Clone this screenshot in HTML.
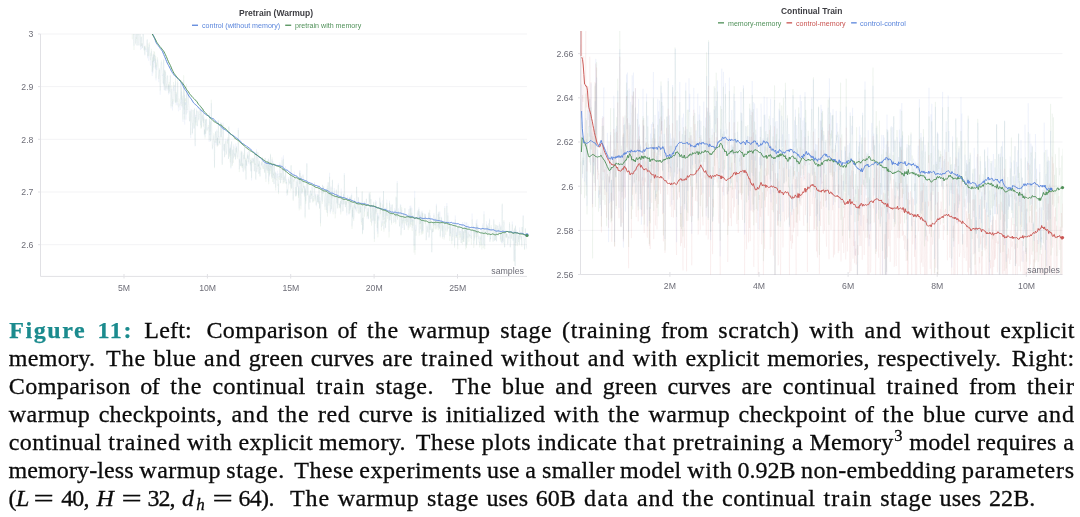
<!DOCTYPE html>
<html><head><meta charset="utf-8"><title>Figure 11</title>
<style>
html,body{margin:0;padding:0;background:#fff;}
body{width:1080px;height:517px;position:relative;overflow:hidden;font-family:"Liberation Sans",sans-serif;}
.tk{position:absolute;font-size:8.7px;line-height:11px;color:#6e6e78;white-space:nowrap;}
.yl{text-align:right;} .xl{text-align:center;} .sm{text-align:right;font-size:8.8px;}
.ttl{position:absolute;font-weight:bold;font-size:9.4px;line-height:12px;color:#3d3d42;white-space:nowrap;transform-origin:0 0;}
.lg{position:absolute;font-size:7.6px;line-height:10px;white-space:nowrap;transform-origin:0 0;}
.w{position:absolute;font-family:"Liberation Serif",serif;font-size:24px;line-height:28px;color:#0b0b0b;white-space:nowrap;}
.w{-webkit-text-stroke:0.3px #0b0b0b;}
.w.b{color:#1b8b8e;font-weight:bold;-webkit-text-stroke:0.25px #1b8b8e;}
.sp{font-size:16.5px;position:relative;top:-8.6px;letter-spacing:0;margin-left:0.5px;}
.cap{position:absolute;left:9.3px;width:1066px;font-family:"Liberation Serif",serif;font-size:24.2px;line-height:28px;color:#0a0a0a;white-space:nowrap;text-align:justify;text-align-last:justify;height:28px;}
.cap b{color:#1b8b8e;font-weight:bold;}
.cap i{font-style:italic;}
.cap sup{line-height:0;font-size:16.5px;vertical-align:baseline;position:relative;top:-9px;}
.cap sub{line-height:0;font-size:16.5px;vertical-align:baseline;position:relative;top:4px;}
</style></head><body>
<svg width="1080" height="300" viewBox="0 0 1080 300" style="position:absolute;left:0;top:0"><line x1="40.5" x2="527" y1="34.0" y2="34.0" stroke="#f3f3f5" stroke-width="1"/>
<line x1="38" x2="40.5" y1="34.0" y2="34.0" stroke="#e1e1e5" stroke-width="1"/>
<line x1="40.5" x2="527" y1="86.6" y2="86.6" stroke="#f3f3f5" stroke-width="1"/>
<line x1="38" x2="40.5" y1="86.6" y2="86.6" stroke="#e1e1e5" stroke-width="1"/>
<line x1="40.5" x2="527" y1="139.3" y2="139.3" stroke="#f3f3f5" stroke-width="1"/>
<line x1="38" x2="40.5" y1="139.3" y2="139.3" stroke="#e1e1e5" stroke-width="1"/>
<line x1="40.5" x2="527" y1="192.0" y2="192.0" stroke="#f3f3f5" stroke-width="1"/>
<line x1="38" x2="40.5" y1="192.0" y2="192.0" stroke="#e1e1e5" stroke-width="1"/>
<line x1="40.5" x2="527" y1="244.7" y2="244.7" stroke="#f3f3f5" stroke-width="1"/>
<line x1="38" x2="40.5" y1="244.7" y2="244.7" stroke="#e1e1e5" stroke-width="1"/>
<path d="M40.5,34 V276.4 H527" fill="none" stroke="#e1e1e5" stroke-width="1"/>
<line x1="124.0" x2="124.0" y1="274" y2="278.5" stroke="#e1e1e5" stroke-width="1"/>
<line x1="207.4" x2="207.4" y1="274" y2="278.5" stroke="#e1e1e5" stroke-width="1"/>
<line x1="290.7" x2="290.7" y1="274" y2="278.5" stroke="#e1e1e5" stroke-width="1"/>
<line x1="374.1" x2="374.1" y1="274" y2="278.5" stroke="#e1e1e5" stroke-width="1"/>
<line x1="457.5" x2="457.5" y1="274" y2="278.5" stroke="#e1e1e5" stroke-width="1"/>
<clipPath id="cl"><rect x="41" y="34" width="487" height="242"/></clipPath>
<g clip-path="url(#cl)" fill="none" stroke-linejoin="round">
<path d="M120.0,-30.2 L120.3,-14.7 L120.7,-23.2 L121.0,-1.7 L121.4,-20.5 L121.7,-32.5 L122.1,-20.9 L122.4,-9.1 L122.8,-8.5 L123.1,-12.3 L123.5,-21.3 L123.8,-11.4 L124.2,-23.4 L124.5,-14.2 L124.9,-23.7 L125.2,-1.7 L125.6,-4.3 L125.9,-10.3 L126.3,-4.7 L126.6,4.2 L127.0,8.6 L127.3,1.4 L127.7,4.5 L128.0,0.8 L128.4,5.9 L128.7,-10.0 L129.1,16.9 L129.4,-1.8 L129.8,0.3 L130.1,5.9 L130.5,12.5 L130.8,-5.9 L131.2,10.3 L131.5,8.3 L131.9,17.5 L132.2,32.8 L132.6,33.3 L132.9,27.0 L133.3,13.2 L133.6,34.2 L134.0,45.8 L134.3,19.3 L134.7,25.7 L135.0,26.0 L135.4,34.8 L135.7,43.4 L136.1,36.5 L136.4,34.1 L136.8,30.8 L137.1,45.5 L137.5,33.2 L137.8,31.3 L138.2,34.0 L138.5,27.4 L138.9,45.5 L139.2,41.0 L139.6,29.2 L139.9,33.5 L140.3,17.0 L140.6,50.0 L141.0,41.9 L141.3,37.0 L141.7,49.0 L142.0,43.8 L142.4,47.5 L142.7,46.1 L143.1,30.9 L143.4,38.7 L143.8,45.1 L144.1,50.3 L144.5,46.2 L144.8,55.4 L145.2,47.4 L145.5,50.1 L145.9,49.8 L146.2,49.1 L146.6,52.1 L146.9,41.2 L147.3,39.3 L147.6,58.3 L148.0,47.2 L148.3,47.5 L148.7,60.9 L149.0,50.3 L149.4,44.8 L149.7,51.3 L150.1,59.2 L150.4,65.6 L150.8,57.0 L151.1,55.9 L151.5,51.3 L151.8,61.5 L152.2,76.1 L152.5,60.8 L152.9,73.3 L153.2,55.2 L153.6,67.5 L153.9,54.2 L154.3,63.4 L154.6,55.1 L155.0,57.9 L155.3,69.4 L155.7,58.7 L156.0,80.4 L156.4,65.3 L156.7,69.9 L157.1,69.9 L157.4,59.7 L157.8,62.8 L158.1,65.6 L158.5,79.5 L158.8,82.2 L159.2,74.1 L159.5,69.8 L159.9,85.0 L160.2,94.8 L160.6,85.7 L160.9,65.6 L161.3,62.1 L161.6,62.4 L162.0,71.8 L162.3,75.8 L162.7,74.5 L163.0,81.6 L163.4,84.6 L163.7,59.1 L164.1,90.1 L164.4,69.6 L164.8,85.3 L165.1,90.8 L165.5,72.0 L165.8,79.0 L166.2,90.7 L166.5,85.8 L166.9,82.7 L167.2,75.7 L167.6,75.8 L167.9,90.7 L168.3,84.9 L168.6,94.5 L169.0,86.5 L169.3,85.2 L169.7,93.6 L170.0,86.4 L170.4,75.6 L170.7,94.2 L171.1,108.3 L171.4,99.1 L171.8,88.8 L172.1,94.9 L172.5,110.5 L172.8,101.2 L173.2,104.2 L173.5,86.9 L173.9,90.9 L174.2,84.8 L174.6,94.1 L174.9,99.9 L175.3,102.0 L175.6,81.5 L176.0,105.2 L176.3,93.9 L176.7,102.9 L177.0,105.0 L177.4,105.2 L177.7,82.6 L178.1,106.1 L178.4,111.2 L178.8,111.1 L179.1,103.7 L179.5,105.4 L179.8,107.5 L180.2,110.0 L180.5,107.5 L180.9,82.5 L181.2,103.7 L181.6,91.5 L181.9,107.5 L182.3,98.3 L182.6,117.6 L183.0,122.1 L183.3,115.1 L183.7,80.0 L184.0,113.9 L184.4,94.9 L184.7,124.6 L185.1,101.9 L185.4,105.1 L185.8,102.5 L186.1,119.7 L186.5,88.5 L186.8,113.3 L187.2,112.7 L187.5,111.9 L187.9,100.8 L188.2,94.7 L188.6,102.0 L188.9,105.2 L189.3,119.4 L189.6,121.6 L190.0,110.7 L190.3,114.9 L190.7,138.0 L191.0,108.8 L191.4,111.1 L191.7,121.2 L192.1,123.7 L192.4,134.3 L192.8,118.1 L193.1,109.9 L193.5,122.8 L193.8,129.0 L194.2,126.7 L194.5,108.5 L194.9,140.3 L195.2,146.3 L195.6,114.9 L195.9,122.5 L196.3,114.5 L196.6,108.6 L197.0,124.0 L197.3,126.5 L197.7,120.0 L198.0,111.4 L198.4,113.2 L198.7,119.4 L199.1,118.2 L199.4,116.2 L199.8,115.3 L200.1,105.5 L200.5,125.2 L200.8,123.7 L201.2,107.6 L201.5,127.1 L201.9,121.7 L202.2,115.7 L202.6,117.6 L202.9,119.7 L203.3,110.1 L203.6,123.0 L204.0,117.0 L204.3,135.0 L204.7,130.1 L205.0,136.7 L205.4,119.4 L205.7,133.7 L206.1,130.0 L206.4,119.1 L206.8,129.5 L207.1,128.7 L207.5,129.2 L207.8,128.7 L208.2,127.0 L208.5,129.0 L208.9,131.9 L209.2,141.9 L209.6,115.4 L209.9,135.0 L210.3,121.4 L210.6,141.4 L211.0,132.7 L211.3,103.1 L211.7,126.3 L212.0,138.1 L212.4,149.4 L212.7,145.3 L213.1,145.0 L213.4,139.6 L213.8,135.7 L214.1,135.7 L214.5,166.9 L214.8,141.6 L215.2,143.1 L215.5,131.3 L215.9,139.3 L216.2,145.4 L216.6,137.4 L216.9,129.4 L217.3,145.6 L217.6,137.7 L218.0,145.2 L218.3,120.6 L218.7,136.9 L219.0,136.0 L219.4,143.7 L219.7,140.3 L220.1,140.2 L220.4,130.6 L220.8,121.9 L221.1,136.9 L221.5,123.1 L221.8,123.5 L222.2,164.3 L222.5,140.1 L222.9,137.3 L223.2,122.7 L223.6,140.5 L223.9,151.4 L224.3,144.0 L224.6,156.7 L225.0,148.5 L225.3,140.9 L225.7,138.7 L226.0,151.2 L226.4,153.7 L226.7,150.3 L227.1,139.1 L227.4,141.2 L227.8,140.6 L228.1,139.4 L228.5,158.7 L228.8,126.1 L229.2,143.3 L229.5,153.5 L229.9,147.7 L230.2,155.5 L230.6,144.5 L230.9,168.6 L231.3,149.0 L231.6,141.1 L232.0,155.9 L232.3,164.5 L232.7,150.2 L233.0,148.9 L233.4,158.4 L233.7,144.3 L234.1,147.6 L234.4,153.9 L234.8,155.8 L235.1,152.6 L235.5,159.5 L235.8,143.3 L236.2,152.1 L236.5,146.0 L236.9,153.8 L237.2,156.8 L237.6,157.3 L237.9,147.5 L238.3,127.9 L238.6,151.0 L239.0,151.5 L239.3,169.3 L239.7,158.7 L240.0,164.9 L240.4,164.6 L240.7,166.0 L241.1,152.6 L241.4,165.8 L241.8,150.9 L242.1,152.7 L242.5,166.2 L242.8,163.6 L243.2,172.2 L243.5,158.2 L243.9,155.0 L244.2,159.1 L244.6,147.1 L244.9,168.5 L245.3,160.0 L245.6,161.4 L246.0,179.3 L246.3,160.4 L246.7,166.3 L247.0,155.9 L247.4,152.2 L247.7,159.0 L248.1,155.9 L248.4,163.7 L248.8,159.7 L249.1,150.5 L249.5,156.8 L249.8,162.6 L250.2,165.4 L250.5,162.2 L250.9,171.6 L251.2,159.3 L251.6,180.5 L251.9,161.2 L252.3,161.5 L252.6,158.5 L253.0,159.9 L253.3,161.6 L253.7,158.4 L254.0,166.2 L254.4,171.6 L254.7,153.7 L255.1,163.8 L255.4,164.9 L255.8,179.6 L256.1,160.1 L256.5,149.2 L256.8,172.4 L257.2,167.9 L257.5,168.2 L257.9,152.6 L258.2,166.1 L258.6,163.6 L258.9,174.0 L259.3,160.5 L259.6,168.1 L260.0,175.9 L260.3,169.2 L260.7,169.7 L261.0,165.8 L261.4,163.3 L261.7,165.5 L262.1,159.8 L262.4,156.9 L262.8,167.3 L263.1,165.9 L263.5,165.1 L263.8,164.7 L264.2,160.4 L264.5,171.7 L264.9,163.8 L265.2,157.9 L265.6,173.0 L265.9,178.8 L266.3,163.8 L266.6,167.4 L267.0,169.4 L267.3,162.2 L267.7,170.5 L268.0,171.0 L268.4,158.5 L268.7,181.6 L269.1,160.5 L269.4,176.4 L269.8,165.2 L270.1,167.3 L270.5,154.7 L270.8,168.7 L271.2,166.1 L271.5,176.6 L271.9,160.2 L272.2,159.3 L272.6,178.0 L272.9,160.8 L273.3,173.8 L273.6,174.9 L274.0,184.0 L274.3,163.0 L274.7,177.6 L275.0,178.6 L275.4,171.4 L275.7,187.6 L276.1,172.9 L276.4,175.5 L276.8,178.1 L277.1,172.3 L277.5,170.7 L277.8,183.9 L278.2,183.7 L278.5,192.2 L278.9,173.1 L279.2,175.9 L279.6,177.2 L279.9,162.2 L280.3,172.8 L280.6,183.0 L281.0,172.9 L281.3,174.6 L281.7,178.1 L282.0,157.5 L282.4,163.3 L282.7,176.2 L283.1,180.0 L283.4,155.3 L283.8,182.5 L284.1,180.3 L284.5,175.7 L284.8,175.6 L285.2,180.5 L285.5,166.1 L285.9,177.8 L286.2,183.2 L286.6,179.5 L286.9,195.9 L287.3,189.1 L287.6,191.7 L288.0,188.7 L288.3,184.2 L288.7,177.1 L289.0,184.6 L289.4,182.2 L289.7,180.6 L290.1,181.3 L290.4,171.8 L290.8,187.4 L291.1,165.7 L291.5,187.7 L291.8,188.0 L292.2,175.1 L292.5,181.0 L292.9,189.2 L293.2,199.7 L293.6,181.0 L293.9,178.4 L294.3,171.4 L294.6,179.6 L295.0,179.0 L295.3,196.6 L295.7,196.2 L296.0,186.9 L296.4,194.7 L296.7,179.2 L297.1,186.5 L297.4,184.8 L297.8,178.9 L298.1,178.0 L298.5,195.5 L298.8,185.8 L299.2,208.5 L299.5,170.4 L299.9,183.9 L300.2,170.5 L300.6,196.2 L300.9,205.8 L301.3,175.8 L301.6,185.9 L302.0,193.9 L302.3,188.7 L302.7,188.5 L303.0,174.3 L303.4,186.6 L303.7,185.8 L304.1,187.9 L304.4,194.6 L304.8,185.4 L305.1,216.9 L305.5,188.2 L305.8,200.9 L306.2,194.4 L306.5,180.6 L306.9,163.0 L307.2,194.8 L307.6,191.9 L307.9,180.6 L308.3,189.2 L308.6,203.9 L309.0,209.1 L309.3,193.7 L309.7,194.1 L310.0,202.8 L310.4,191.0 L310.7,190.8 L311.1,199.2 L311.4,193.2 L311.8,194.6 L312.1,185.9 L312.5,197.6 L312.8,201.6 L313.2,196.0 L313.5,197.0 L313.9,196.8 L314.2,187.8 L314.6,182.0 L314.9,199.4 L315.3,193.5 L315.6,194.7 L316.0,203.2 L316.3,206.4 L316.7,200.7 L317.0,194.5 L317.4,193.9 L317.7,202.9 L318.1,194.5 L318.4,202.3 L318.8,193.9 L319.1,185.0 L319.5,208.0 L319.8,196.9 L320.2,201.9 L320.5,223.3 L320.9,203.6 L321.2,199.4 L321.6,189.3 L321.9,189.6 L322.3,201.6 L322.6,184.7 L323.0,191.2 L323.3,190.1 L323.7,186.3 L324.0,194.0 L324.4,197.8 L324.7,200.0 L325.1,206.7 L325.4,193.3 L325.8,189.4 L326.1,196.5 L326.5,210.0 L326.8,202.1 L327.2,188.1 L327.5,213.0 L327.9,201.4 L328.2,182.3 L328.6,199.8 L328.9,203.6 L329.3,198.1 L329.6,172.8 L330.0,206.1 L330.3,213.7 L330.7,202.0 L331.0,186.3 L331.4,210.5 L331.7,191.6 L332.1,194.4 L332.4,180.3 L332.8,208.9 L333.1,212.1 L333.5,209.8 L333.8,200.1 L334.2,188.1 L334.5,190.4 L334.9,211.8 L335.2,213.9 L335.6,213.0 L335.9,209.1 L336.3,190.2 L336.6,194.0 L337.0,203.4 L337.3,195.1 L337.7,207.9 L338.0,185.7 L338.4,183.3 L338.7,202.5 L339.1,205.0 L339.4,205.1 L339.8,203.3 L340.1,206.7 L340.5,201.1 L340.8,212.2 L341.2,188.6 L341.5,202.0 L341.9,204.7 L342.2,197.4 L342.6,197.0 L342.9,211.3 L343.3,202.4 L343.6,193.6 L344.0,204.4 L344.3,173.0 L344.7,194.4 L345.0,199.9 L345.4,207.2 L345.7,202.1 L346.1,201.3 L346.4,201.9 L346.8,215.5 L347.1,198.1 L347.5,195.2 L347.8,197.2 L348.2,199.8 L348.5,201.4 L348.9,214.5 L349.2,214.4 L349.6,200.1 L349.9,210.6 L350.3,195.6 L350.6,209.4 L351.0,206.5 L351.3,203.9 L351.7,193.3 L352.0,226.2 L352.4,209.7 L352.7,216.9 L353.1,203.1 L353.4,219.4 L353.8,217.8 L354.1,217.7 L354.5,198.3 L354.8,208.6 L355.2,205.4 L355.5,209.4 L355.9,207.0 L356.2,212.3 L356.6,186.9 L356.9,195.9 L357.3,203.1 L357.6,208.0 L358.0,208.4 L358.3,197.2 L358.7,203.3 L359.0,213.4 L359.4,208.8 L359.7,208.6 L360.1,204.3 L360.4,212.1 L360.8,207.3 L361.1,220.1 L361.5,222.2 L361.8,219.6 L362.2,192.2 L362.5,233.4 L362.9,218.3 L363.2,230.2 L363.6,218.9 L363.9,211.1 L364.3,201.6 L364.6,211.6 L365.0,204.8 L365.3,208.4 L365.7,206.3 L366.0,203.5 L366.4,199.0 L366.7,206.3 L367.1,218.7 L367.4,214.4 L367.8,214.1 L368.1,207.9 L368.5,219.2 L368.8,210.0 L369.2,192.3 L369.5,201.8 L369.9,197.0 L370.2,194.6 L370.6,218.5 L370.9,199.1 L371.3,210.1 L371.6,223.2 L372.0,218.1 L372.3,212.1 L372.7,205.8 L373.0,221.3 L373.4,216.4 L373.7,201.4 L374.1,227.7 L374.4,238.9 L374.8,207.3 L375.1,220.9 L375.5,200.0 L375.8,212.5 L376.2,211.8 L376.5,201.2 L376.9,207.8 L377.2,231.6 L377.6,213.1 L377.9,233.8 L378.3,218.5 L378.6,215.3 L379.0,220.6 L379.3,207.3 L379.7,198.3 L380.0,196.8 L380.4,210.7 L380.7,201.4 L381.1,217.5 L381.4,227.1 L381.8,221.9 L382.1,221.2 L382.5,223.2 L382.8,200.4 L383.2,217.2 L383.5,191.0 L383.9,229.3 L384.2,218.2 L384.6,219.2 L384.9,209.6 L385.3,207.8 L385.6,227.7 L386.0,207.7 L386.3,215.8 L386.7,199.7 L387.0,201.2 L387.4,215.0 L387.7,216.0 L388.1,210.4 L388.4,212.6 L388.8,224.5 L389.1,231.7 L389.5,200.6 L389.8,220.8 L390.2,211.5 L390.5,211.8 L390.9,204.4 L391.2,217.1 L391.6,222.9 L391.9,206.0 L392.3,204.8 L392.6,211.8 L393.0,214.3 L393.3,214.6 L393.7,220.2 L394.0,222.0 L394.4,217.6 L394.7,208.1 L395.1,216.2 L395.4,209.6 L395.8,222.3 L396.1,197.5 L396.5,217.1 L396.8,216.9 L397.2,181.0 L397.5,218.7 L397.9,211.9 L398.2,215.6 L398.6,208.3 L398.9,215.5 L399.3,219.9 L399.6,226.5 L400.0,218.6 L400.3,204.1 L400.7,204.2 L401.0,234.7 L401.4,225.1 L401.7,209.7 L402.1,221.0 L402.4,228.0 L402.8,220.0 L403.1,221.0 L403.5,213.3 L403.8,223.4 L404.2,230.0 L404.5,228.4 L404.9,208.4 L405.2,221.2 L405.6,220.9 L405.9,217.6 L406.3,217.1 L406.6,226.1 L407.0,214.3 L407.3,218.6 L407.7,216.7 L408.0,227.6 L408.4,226.4 L408.7,209.2 L409.1,225.6 L409.4,222.7 L409.8,205.9 L410.1,207.3 L410.5,224.3 L410.8,205.5 L411.2,222.1 L411.5,218.2 L411.9,207.8 L412.2,228.0 L412.6,215.3 L412.9,221.6 L413.3,216.7 L413.6,215.3 L414.0,245.7 L414.3,219.4 L414.7,190.8 L415.0,249.9 L415.4,224.9 L415.7,226.4 L416.1,231.2 L416.4,227.3 L416.8,222.6 L417.1,212.5 L417.5,217.2 L417.8,210.7 L418.2,210.6 L418.5,215.4 L418.9,207.2 L419.2,232.9 L419.6,211.1 L419.9,220.2 L420.3,214.8 L420.6,223.6 L421.0,212.2 L421.3,232.7 L421.7,219.0 L422.0,210.6 L422.4,231.4 L422.7,212.8 L423.1,230.8 L423.4,220.0 L423.8,217.6 L424.1,220.3 L424.5,217.2 L424.8,213.3 L425.2,219.5 L425.5,214.0 L425.9,228.3 L426.2,239.9 L426.6,231.4 L426.9,224.5 L427.3,227.2 L427.6,230.4 L428.0,232.6 L428.3,215.8 L428.7,212.7 L429.0,238.0 L429.4,234.0 L429.7,212.8 L430.1,229.7 L430.4,215.4 L430.8,221.1 L431.1,225.5 L431.5,228.7 L431.8,252.3 L432.2,228.9 L432.5,232.3 L432.9,230.4 L433.2,218.7 L433.6,225.8 L433.9,213.3 L434.3,220.0 L434.6,219.5 L435.0,225.2 L435.3,217.8 L435.7,225.2 L436.0,219.5 L436.4,203.8 L436.7,227.2 L437.1,227.8 L437.4,220.8 L437.8,222.6 L438.1,213.5 L438.5,227.3 L438.8,212.1 L439.2,224.5 L439.5,228.1 L439.9,211.4 L440.2,236.2 L440.6,226.1 L440.9,223.6 L441.3,221.5 L441.6,216.8 L442.0,230.4 L442.3,220.5 L442.7,237.0 L443.0,224.6 L443.4,225.7 L443.7,235.0 L444.1,237.1 L444.4,237.3 L444.8,206.0 L445.1,225.9 L445.5,230.5 L445.8,228.8 L446.2,221.4 L446.5,214.7 L446.9,202.9 L447.2,230.6 L447.6,225.5 L447.9,212.7 L448.3,224.7 L448.6,223.8 L449.0,222.2 L449.3,220.4 L449.7,236.0 L450.0,222.6 L450.4,233.5 L450.7,224.1 L451.1,227.4 L451.4,234.6 L451.8,241.0 L452.1,229.7 L452.5,225.7 L452.8,236.8 L453.2,229.6 L453.5,230.3 L453.9,222.1 L454.2,223.5 L454.6,245.5 L454.9,234.9 L455.3,215.4 L455.6,227.3 L456.0,236.1 L456.3,232.5 L456.7,236.2 L457.0,228.6 L457.4,228.1 L457.7,245.5 L458.1,223.6 L458.4,226.0 L458.8,231.9 L459.1,234.8 L459.5,231.4 L459.8,224.7 L460.2,232.9 L460.5,230.7 L460.9,236.3 L461.2,243.0 L461.6,231.6 L461.9,224.2 L462.3,239.9 L462.6,222.0 L463.0,228.6 L463.3,241.6 L463.7,231.0 L464.0,238.5 L464.4,232.2 L464.7,221.9 L465.1,231.2 L465.4,226.5 L465.8,246.3 L466.1,222.5 L466.5,243.9 L466.8,222.2 L467.2,238.3 L467.5,238.1 L467.9,231.1 L468.2,224.3 L468.6,227.7 L468.9,237.6 L469.3,228.7 L469.6,230.3 L470.0,230.0 L470.3,236.0 L470.7,234.3 L471.0,230.7 L471.4,239.0 L471.7,233.6 L472.1,213.5 L472.4,223.2 L472.8,223.1 L473.1,230.8 L473.5,225.6 L473.8,244.0 L474.2,227.0 L474.5,238.3 L474.9,228.5 L475.2,227.3 L475.6,231.3 L475.9,233.6 L476.3,220.3 L476.6,244.3 L477.0,219.0 L477.3,233.4 L477.7,226.8 L478.0,225.2 L478.4,239.2 L478.7,237.2 L479.1,235.7 L479.4,238.4 L479.8,244.8 L480.1,236.4 L480.5,238.4 L480.8,239.4 L481.2,228.6 L481.5,235.6 L481.9,245.0 L482.2,224.9 L482.6,225.8 L482.9,223.3 L483.3,244.5 L483.6,232.8 L484.0,211.3 L484.3,228.0 L484.7,246.2 L485.0,233.4 L485.4,231.0 L485.7,233.7 L486.1,228.3 L486.4,221.3 L486.8,231.3 L487.1,233.2 L487.5,225.0 L487.8,235.1 L488.2,228.3 L488.5,223.1 L488.9,231.8 L489.2,229.6 L489.6,218.4 L489.9,241.5 L490.3,233.4 L490.6,239.5 L491.0,227.4 L491.3,227.0 L491.7,228.8 L492.0,231.2 L492.4,232.8 L492.7,240.0 L493.1,240.7 L493.4,241.4 L493.8,219.0 L494.1,230.7 L494.5,240.5 L494.8,230.9 L495.2,227.6 L495.5,240.0 L495.9,231.7 L496.2,225.4 L496.6,241.7 L496.9,230.8 L497.3,232.2 L497.6,225.4 L498.0,226.5 L498.3,235.3 L498.7,228.5 L499.0,231.9 L499.4,222.3 L499.7,222.9 L500.1,230.2 L500.4,239.4 L500.8,225.6 L501.1,233.4 L501.5,243.5 L501.8,234.2 L502.2,204.3 L502.5,242.9 L502.9,233.0 L503.2,242.1 L503.6,225.5 L503.9,221.6 L504.3,223.9 L504.6,247.4 L505.0,240.7 L505.3,235.4 L505.7,229.8 L506.0,237.0 L506.4,233.2 L506.7,236.7 L507.1,234.0 L507.4,235.1 L507.8,245.2 L508.1,239.4 L508.5,235.6 L508.8,239.2 L509.2,238.8 L509.5,223.8 L509.9,227.6 L510.2,247.4 L510.6,245.7 L510.9,232.8 L511.3,238.7 L511.6,233.3 L512.0,228.3 L512.3,221.4 L512.7,234.6 L513.0,241.1 L513.4,230.2 L513.7,242.9 L514.1,260.9 L514.4,228.9 L514.8,237.2 L515.1,266.1 L515.5,225.3 L515.8,242.9 L516.2,231.8 L516.5,229.6 L516.9,234.7 L517.2,243.0 L517.6,244.3 L517.9,235.5 L518.3,234.5 L518.6,239.6 L519.0,235.1 L519.3,244.2 L519.7,227.3 L520.0,236.2 L520.4,236.0 L520.7,238.0 L521.1,238.4 L521.4,236.3 L521.8,245.1 L522.1,227.2 L522.5,234.2 L522.8,227.6 L523.2,214.9 L523.5,236.9 L523.9,237.4 L524.2,242.9 L524.6,249.0 L524.9,240.3 L525.3,228.8 L525.6,232.3 L526.0,238.2 L526.3,244.8 L526.7,248.3" stroke="#5b86dc" stroke-opacity="0.047" stroke-width="1"/>
<path d="M120.0,-13.9 L120.3,1.7 L120.7,-6.9 L121.0,12.2 L121.4,-7.7 L121.7,-16.9 L122.1,-5.0 L122.4,6.7 L122.8,6.4 L123.1,-2.1 L123.5,-6.1 L123.8,0.9 L124.2,-7.6 L124.5,-2.2 L124.9,-11.0 L125.2,8.6 L125.6,7.2 L125.9,-0.4 L126.3,6.1 L126.6,15.0 L127.0,17.1 L127.3,10.0 L127.7,15.3 L128.0,9.6 L128.4,13.4 L128.7,-1.4 L129.1,25.2 L129.4,5.9 L129.8,5.5 L130.1,15.5 L130.5,19.9 L130.8,1.6 L131.2,16.8 L131.5,16.8 L131.9,24.7 L132.2,38.6 L132.6,39.3 L132.9,34.1 L133.3,17.8 L133.6,35.7 L134.0,50.1 L134.3,24.4 L134.7,29.6 L135.0,28.1 L135.4,36.4 L135.7,44.5 L136.1,37.4 L136.4,38.8 L136.8,33.8 L137.1,45.7 L137.5,36.7 L137.8,32.8 L138.2,34.2 L138.5,29.0 L138.9,45.3 L139.2,37.4 L139.6,28.4 L139.9,32.2 L140.3,12.8 L140.6,46.7 L141.0,40.1 L141.3,36.4 L141.7,46.0 L142.0,42.9 L142.4,48.0 L142.7,44.4 L143.1,29.6 L143.4,36.4 L143.8,45.9 L144.1,50.4 L144.5,46.3 L144.8,54.7 L145.2,45.6 L145.5,48.4 L145.9,48.2 L146.2,49.3 L146.6,47.8 L146.9,41.9 L147.3,39.6 L147.6,56.3 L148.0,43.5 L148.3,46.0 L148.7,56.2 L149.0,47.2 L149.4,42.4 L149.7,48.5 L150.1,56.5 L150.4,60.2 L150.8,53.2 L151.1,56.0 L151.5,48.7 L151.8,56.2 L152.2,71.9 L152.5,57.5 L152.9,70.6 L153.2,53.8 L153.6,61.8 L153.9,50.9 L154.3,60.9 L154.6,51.9 L155.0,56.4 L155.3,67.5 L155.7,55.8 L156.0,78.2 L156.4,62.5 L156.7,65.8 L157.1,66.5 L157.4,57.3 L157.8,60.1 L158.1,61.9 L158.5,78.5 L158.8,78.8 L159.2,75.9 L159.5,68.4 L159.9,85.4 L160.2,90.6 L160.6,85.6 L160.9,66.2 L161.3,60.3 L161.6,62.0 L162.0,70.6 L162.3,73.1 L162.7,74.4 L163.0,82.0 L163.4,83.4 L163.7,59.8 L164.1,86.1 L164.4,70.5 L164.8,84.5 L165.1,90.4 L165.5,70.5 L165.8,77.5 L166.2,88.8 L166.5,84.4 L166.9,83.2 L167.2,76.8 L167.6,75.4 L167.9,89.3 L168.3,84.0 L168.6,93.0 L169.0,83.4 L169.3,81.8 L169.7,91.7 L170.0,82.0 L170.4,75.1 L170.7,93.2 L171.1,106.4 L171.4,96.2 L171.8,85.1 L172.1,91.6 L172.5,106.5 L172.8,98.9 L173.2,101.4 L173.5,82.0 L173.9,86.3 L174.2,85.4 L174.6,92.1 L174.9,97.4 L175.3,102.8 L175.6,77.2 L176.0,102.8 L176.3,92.1 L176.7,101.3 L177.0,101.9 L177.4,101.3 L177.7,78.6 L178.1,102.1 L178.4,107.3 L178.8,105.7 L179.1,98.5 L179.5,99.7 L179.8,103.0 L180.2,105.4 L180.5,102.6 L180.9,79.7 L181.2,99.5 L181.6,87.6 L181.9,106.0 L182.3,95.6 L182.6,111.5 L183.0,119.4 L183.3,114.5 L183.7,75.2 L184.0,109.4 L184.4,90.3 L184.7,119.6 L185.1,98.5 L185.4,101.1 L185.8,97.9 L186.1,114.7 L186.5,84.1 L186.8,108.1 L187.2,110.0 L187.5,109.3 L187.9,96.4 L188.2,91.9 L188.6,98.6 L188.9,103.8 L189.3,115.7 L189.6,121.0 L190.0,111.5 L190.3,113.0 L190.7,135.0 L191.0,110.0 L191.4,109.9 L191.7,120.8 L192.1,123.3 L192.4,133.0 L192.8,119.0 L193.1,109.7 L193.5,123.2 L193.8,127.7 L194.2,127.9 L194.5,108.5 L194.9,138.7 L195.2,145.8 L195.6,117.0 L195.9,125.5 L196.3,114.5 L196.6,110.6 L197.0,124.4 L197.3,125.8 L197.7,122.2 L198.0,110.6 L198.4,116.5 L198.7,120.6 L199.1,120.1 L199.4,114.4 L199.8,114.9 L200.1,106.7 L200.5,125.4 L200.8,128.7 L201.2,107.8 L201.5,128.3 L201.9,121.7 L202.2,114.6 L202.6,118.7 L202.9,121.3 L203.3,109.1 L203.6,126.6 L204.0,118.5 L204.3,133.9 L204.7,129.0 L205.0,138.5 L205.4,119.2 L205.7,133.8 L206.1,129.7 L206.4,118.8 L206.8,128.1 L207.1,130.9 L207.5,129.5 L207.8,129.5 L208.2,126.1 L208.5,125.1 L208.9,130.8 L209.2,140.3 L209.6,112.8 L209.9,131.7 L210.3,121.4 L210.6,141.1 L211.0,133.2 L211.3,99.6 L211.7,126.6 L212.0,133.7 L212.4,148.4 L212.7,146.5 L213.1,141.7 L213.4,139.0 L213.8,133.3 L214.1,134.7 L214.5,168.1 L214.8,140.5 L215.2,141.6 L215.5,131.8 L215.9,140.8 L216.2,142.9 L216.6,138.3 L216.9,130.8 L217.3,146.9 L217.6,137.7 L218.0,145.5 L218.3,120.1 L218.7,136.9 L219.0,137.3 L219.4,143.1 L219.7,141.2 L220.1,144.9 L220.4,129.7 L220.8,123.4 L221.1,137.4 L221.5,124.3 L221.8,125.3 L222.2,165.0 L222.5,143.4 L222.9,136.9 L223.2,125.2 L223.6,140.3 L223.9,150.3 L224.3,143.9 L224.6,157.3 L225.0,150.1 L225.3,143.3 L225.7,141.2 L226.0,155.0 L226.4,153.4 L226.7,151.1 L227.1,140.4 L227.4,143.6 L227.8,137.4 L228.1,139.0 L228.5,158.8 L228.8,126.9 L229.2,147.0 L229.5,156.8 L229.9,149.2 L230.2,162.3 L230.6,147.6 L230.9,167.5 L231.3,149.5 L231.6,141.7 L232.0,158.3 L232.3,166.1 L232.7,150.3 L233.0,150.4 L233.4,162.9 L233.7,146.4 L234.1,148.7 L234.4,154.2 L234.8,157.0 L235.1,153.7 L235.5,159.2 L235.8,147.9 L236.2,153.5 L236.5,147.3 L236.9,156.1 L237.2,158.5 L237.6,158.6 L237.9,152.7 L238.3,130.0 L238.6,151.2 L239.0,154.4 L239.3,172.2 L239.7,159.7 L240.0,162.7 L240.4,162.8 L240.7,165.9 L241.1,150.6 L241.4,167.4 L241.8,151.9 L242.1,153.6 L242.5,168.1 L242.8,163.5 L243.2,171.5 L243.5,158.1 L243.9,153.4 L244.2,159.4 L244.6,147.5 L244.9,170.5 L245.3,160.8 L245.6,157.7 L246.0,179.7 L246.3,158.6 L246.7,165.5 L247.0,158.6 L247.4,154.5 L247.7,158.2 L248.1,154.5 L248.4,162.2 L248.8,158.0 L249.1,150.1 L249.5,155.1 L249.8,161.1 L250.2,163.7 L250.5,159.9 L250.9,170.8 L251.2,157.7 L251.6,177.9 L251.9,161.2 L252.3,163.2 L252.6,157.8 L253.0,160.9 L253.3,163.3 L253.7,157.8 L254.0,164.3 L254.4,171.0 L254.7,151.8 L255.1,164.9 L255.4,163.6 L255.8,179.3 L256.1,160.1 L256.5,151.6 L256.8,171.6 L257.2,167.9 L257.5,166.3 L257.9,151.8 L258.2,166.8 L258.6,164.3 L258.9,173.7 L259.3,161.2 L259.6,168.4 L260.0,176.8 L260.3,167.4 L260.7,169.5 L261.0,163.2 L261.4,162.1 L261.7,165.4 L262.1,161.5 L262.4,158.9 L262.8,168.7 L263.1,166.3 L263.5,169.1 L263.8,165.2 L264.2,163.9 L264.5,173.0 L264.9,166.1 L265.2,157.9 L265.6,171.7 L265.9,181.9 L266.3,164.6 L266.6,167.0 L267.0,170.5 L267.3,161.5 L267.7,172.9 L268.0,171.3 L268.4,159.2 L268.7,184.3 L269.1,163.4 L269.4,174.7 L269.8,168.5 L270.1,170.6 L270.5,153.8 L270.8,173.6 L271.2,165.6 L271.5,178.6 L271.9,160.7 L272.2,157.4 L272.6,182.0 L272.9,164.1 L273.3,175.6 L273.6,173.4 L274.0,184.3 L274.3,165.7 L274.7,179.4 L275.0,178.4 L275.4,172.5 L275.7,190.6 L276.1,178.4 L276.4,179.6 L276.8,180.4 L277.1,174.8 L277.5,173.9 L277.8,186.0 L278.2,183.8 L278.5,194.1 L278.9,176.0 L279.2,178.3 L279.6,179.9 L279.9,164.0 L280.3,171.5 L280.6,183.3 L281.0,173.2 L281.3,179.2 L281.7,180.1 L282.0,160.3 L282.4,165.6 L282.7,173.9 L283.1,183.9 L283.4,158.9 L283.8,182.2 L284.1,182.4 L284.5,177.7 L284.8,176.7 L285.2,183.4 L285.5,169.7 L285.9,179.0 L286.2,184.2 L286.6,182.1 L286.9,193.4 L287.3,190.2 L287.6,194.9 L288.0,189.6 L288.3,187.1 L288.7,179.0 L289.0,181.8 L289.4,183.0 L289.7,181.5 L290.1,184.1 L290.4,173.3 L290.8,190.6 L291.1,164.9 L291.5,188.7 L291.8,189.0 L292.2,176.1 L292.5,186.2 L292.9,190.2 L293.2,201.0 L293.6,179.5 L293.9,181.6 L294.3,174.4 L294.6,180.5 L295.0,181.6 L295.3,195.3 L295.7,196.2 L296.0,187.0 L296.4,196.2 L296.7,181.5 L297.1,186.6 L297.4,187.0 L297.8,179.3 L298.1,179.7 L298.5,197.8 L298.8,187.5 L299.2,210.4 L299.5,172.8 L299.9,183.8 L300.2,172.9 L300.6,195.0 L300.9,209.3 L301.3,176.7 L301.6,189.5 L302.0,192.7 L302.3,188.5 L302.7,191.8 L303.0,175.3 L303.4,188.1 L303.7,186.2 L304.1,187.5 L304.4,196.6 L304.8,186.1 L305.1,218.3 L305.5,189.7 L305.8,203.8 L306.2,194.8 L306.5,182.3 L306.9,163.6 L307.2,195.7 L307.6,194.2 L307.9,183.5 L308.3,193.3 L308.6,204.5 L309.0,210.0 L309.3,195.6 L309.7,198.6 L310.0,202.5 L310.4,190.3 L310.7,191.8 L311.1,198.7 L311.4,194.2 L311.8,195.7 L312.1,187.1 L312.5,198.7 L312.8,202.7 L313.2,197.6 L313.5,201.2 L313.9,197.7 L314.2,186.2 L314.6,183.5 L314.9,201.2 L315.3,198.4 L315.6,194.8 L316.0,204.9 L316.3,204.2 L316.7,200.8 L317.0,197.2 L317.4,195.9 L317.7,202.1 L318.1,194.6 L318.4,203.9 L318.8,195.3 L319.1,186.1 L319.5,208.9 L319.8,200.9 L320.2,204.7 L320.5,226.4 L320.9,206.1 L321.2,197.8 L321.6,191.0 L321.9,191.4 L322.3,204.0 L322.6,185.1 L323.0,193.9 L323.3,191.9 L323.7,186.5 L324.0,196.4 L324.4,201.2 L324.7,201.9 L325.1,209.9 L325.4,192.3 L325.8,193.0 L326.1,197.2 L326.5,212.5 L326.8,201.4 L327.2,185.7 L327.5,216.5 L327.9,205.2 L328.2,182.2 L328.6,200.3 L328.9,205.6 L329.3,200.1 L329.6,176.7 L330.0,208.8 L330.3,211.9 L330.7,204.8 L331.0,187.5 L331.4,209.0 L331.7,193.6 L332.1,198.4 L332.4,179.6 L332.8,212.3 L333.1,214.4 L333.5,210.4 L333.8,202.6 L334.2,190.6 L334.5,191.3 L334.9,212.3 L335.2,218.3 L335.6,214.3 L335.9,207.3 L336.3,189.3 L336.6,196.0 L337.0,203.6 L337.3,194.6 L337.7,208.7 L338.0,186.6 L338.4,185.1 L338.7,205.0 L339.1,204.3 L339.4,207.9 L339.8,205.0 L340.1,208.5 L340.5,200.9 L340.8,214.5 L341.2,192.3 L341.5,203.2 L341.9,203.8 L342.2,198.3 L342.6,197.7 L342.9,211.2 L343.3,203.9 L343.6,194.2 L344.0,204.3 L344.3,174.8 L344.7,192.7 L345.0,200.1 L345.4,207.0 L345.7,201.0 L346.1,204.8 L346.4,200.4 L346.8,212.8 L347.1,198.7 L347.5,197.3 L347.8,200.3 L348.2,203.2 L348.5,201.4 L348.9,213.9 L349.2,211.6 L349.6,197.0 L349.9,213.4 L350.3,197.3 L350.6,207.2 L351.0,207.1 L351.3,202.2 L351.7,195.0 L352.0,228.9 L352.4,207.4 L352.7,217.7 L353.1,205.4 L353.4,218.9 L353.8,220.9 L354.1,218.0 L354.5,200.7 L354.8,207.6 L355.2,202.9 L355.5,208.0 L355.9,209.3 L356.2,210.8 L356.6,186.8 L356.9,195.8 L357.3,204.4 L357.6,205.9 L358.0,212.7 L358.3,197.5 L358.7,201.6 L359.0,214.1 L359.4,210.3 L359.7,208.3 L360.1,203.2 L360.4,212.8 L360.8,206.1 L361.1,219.7 L361.5,224.8 L361.8,218.6 L362.2,190.9 L362.5,234.2 L362.9,217.5 L363.2,229.8 L363.6,219.7 L363.9,210.6 L364.3,201.3 L364.6,216.7 L365.0,207.3 L365.3,207.8 L365.7,208.7 L366.0,202.3 L366.4,198.6 L366.7,206.2 L367.1,216.8 L367.4,211.9 L367.8,216.0 L368.1,208.7 L368.5,218.5 L368.8,209.6 L369.2,193.5 L369.5,204.6 L369.9,198.5 L370.2,192.0 L370.6,221.9 L370.9,199.3 L371.3,213.5 L371.6,225.7 L372.0,218.0 L372.3,211.8 L372.7,207.4 L373.0,220.6 L373.4,217.6 L373.7,202.4 L374.1,230.9 L374.4,241.9 L374.8,208.3 L375.1,223.7 L375.5,202.4 L375.8,214.2 L376.2,213.4 L376.5,206.3 L376.9,210.3 L377.2,228.1 L377.6,215.7 L377.9,237.4 L378.3,218.9 L378.6,216.7 L379.0,218.4 L379.3,209.9 L379.7,198.2 L380.0,199.4 L380.4,214.1 L380.7,203.0 L381.1,219.9 L381.4,230.9 L381.8,225.4 L382.1,223.3 L382.5,225.8 L382.8,204.5 L383.2,220.1 L383.5,191.2 L383.9,231.7 L384.2,221.3 L384.6,223.7 L384.9,209.3 L385.3,214.7 L385.6,228.1 L386.0,210.2 L386.3,222.4 L386.7,202.9 L387.0,204.6 L387.4,216.1 L387.7,219.0 L388.1,213.4 L388.4,217.0 L388.8,225.1 L389.1,237.5 L389.5,202.9 L389.8,220.2 L390.2,214.0 L390.5,216.0 L390.9,207.2 L391.2,219.4 L391.6,224.8 L391.9,207.4 L392.3,204.3 L392.6,213.1 L393.0,214.3 L393.3,216.7 L393.7,223.0 L394.0,222.2 L394.4,221.3 L394.7,210.5 L395.1,215.8 L395.4,212.6 L395.8,224.2 L396.1,196.5 L396.5,215.5 L396.8,216.7 L397.2,183.0 L397.5,220.0 L397.9,212.4 L398.2,215.2 L398.6,211.1 L398.9,213.2 L399.3,218.7 L399.6,226.2 L400.0,220.9 L400.3,207.5 L400.7,205.1 L401.0,235.6 L401.4,225.7 L401.7,207.2 L402.1,223.0 L402.4,224.4 L402.8,217.9 L403.1,222.8 L403.5,213.2 L403.8,225.5 L404.2,229.3 L404.5,229.8 L404.9,208.0 L405.2,223.5 L405.6,221.4 L405.9,221.1 L406.3,218.6 L406.6,225.0 L407.0,216.0 L407.3,222.3 L407.7,219.1 L408.0,229.9 L408.4,230.0 L408.7,213.2 L409.1,228.3 L409.4,226.9 L409.8,208.8 L410.1,208.7 L410.5,226.7 L410.8,207.7 L411.2,225.1 L411.5,223.5 L411.9,212.6 L412.2,231.0 L412.6,219.9 L412.9,225.7 L413.3,219.9 L413.6,220.3 L414.0,252.5 L414.3,223.6 L414.7,197.7 L415.0,254.7 L415.4,229.7 L415.7,229.9 L416.1,235.8 L416.4,230.3 L416.8,223.9 L417.1,217.4 L417.5,219.8 L417.8,210.7 L418.2,213.1 L418.5,216.9 L418.9,209.0 L419.2,235.7 L419.6,214.8 L419.9,224.1 L420.3,215.9 L420.6,229.2 L421.0,217.5 L421.3,234.8 L421.7,222.4 L422.0,211.6 L422.4,234.2 L422.7,213.1 L423.1,233.6 L423.4,222.0 L423.8,219.8 L424.1,220.2 L424.5,216.4 L424.8,214.1 L425.2,224.2 L425.5,215.8 L425.9,229.2 L426.2,240.3 L426.6,233.2 L426.9,226.4 L427.3,227.9 L427.6,232.1 L428.0,231.3 L428.3,218.6 L428.7,212.5 L429.0,236.9 L429.4,233.6 L429.7,209.8 L430.1,230.2 L430.4,218.5 L430.8,222.6 L431.1,226.4 L431.5,232.5 L431.8,252.2 L432.2,228.3 L432.5,231.5 L432.9,232.1 L433.2,221.7 L433.6,231.8 L433.9,215.1 L434.3,224.9 L434.6,224.3 L435.0,228.5 L435.3,220.0 L435.7,229.5 L436.0,223.4 L436.4,205.6 L436.7,228.8 L437.1,229.3 L437.4,225.2 L437.8,225.7 L438.1,214.4 L438.5,230.3 L438.8,211.6 L439.2,229.1 L439.5,228.2 L439.9,217.0 L440.2,237.5 L440.6,229.3 L440.9,223.5 L441.3,224.0 L441.6,217.7 L442.0,231.3 L442.3,222.7 L442.7,238.7 L443.0,226.7 L443.4,225.5 L443.7,234.0 L444.1,239.6 L444.4,237.4 L444.8,208.0 L445.1,226.4 L445.5,233.5 L445.8,234.9 L446.2,227.5 L446.5,218.4 L446.9,205.9 L447.2,231.8 L447.6,226.8 L447.9,215.5 L448.3,229.0 L448.6,226.7 L449.0,227.7 L449.3,224.0 L449.7,241.0 L450.0,226.7 L450.4,236.3 L450.7,225.7 L451.1,230.6 L451.4,238.9 L451.8,244.0 L452.1,233.5 L452.5,227.7 L452.8,240.6 L453.2,235.3 L453.5,234.1 L453.9,223.7 L454.2,226.0 L454.6,247.7 L454.9,235.9 L455.3,219.4 L455.6,230.3 L456.0,238.0 L456.3,235.3 L456.7,237.5 L457.0,229.9 L457.4,227.7 L457.7,249.3 L458.1,227.2 L458.4,229.5 L458.8,233.8 L459.1,239.8 L459.5,236.2 L459.8,230.8 L460.2,237.8 L460.5,233.0 L460.9,239.6 L461.2,243.0 L461.6,235.6 L461.9,228.1 L462.3,244.7 L462.6,227.8 L463.0,231.7 L463.3,241.9 L463.7,231.4 L464.0,242.1 L464.4,236.6 L464.7,227.1 L465.1,232.9 L465.4,230.1 L465.8,249.5 L466.1,225.9 L466.5,248.0 L466.8,227.3 L467.2,244.8 L467.5,240.5 L467.9,233.8 L468.2,232.5 L468.6,233.2 L468.9,241.8 L469.3,234.1 L469.6,235.7 L470.0,234.9 L470.3,237.7 L470.7,237.9 L471.0,236.2 L471.4,244.8 L471.7,237.9 L472.1,219.4 L472.4,226.6 L472.8,226.4 L473.1,230.7 L473.5,231.6 L473.8,248.0 L474.2,231.1 L474.5,240.5 L474.9,230.8 L475.2,233.1 L475.6,230.9 L475.9,237.5 L476.3,223.1 L476.6,245.2 L477.0,224.8 L477.3,236.8 L477.7,235.1 L478.0,227.1 L478.4,241.1 L478.7,241.8 L479.1,242.7 L479.4,242.2 L479.8,247.5 L480.1,237.7 L480.5,240.4 L480.8,245.7 L481.2,234.4 L481.5,242.2 L481.9,249.8 L482.2,228.3 L482.6,227.1 L482.9,226.1 L483.3,248.3 L483.6,237.9 L484.0,214.3 L484.3,230.0 L484.7,249.4 L485.0,234.8 L485.4,234.4 L485.7,234.8 L486.1,231.1 L486.4,224.2 L486.8,234.2 L487.1,232.0 L487.5,226.2 L487.8,237.0 L488.2,227.2 L488.5,227.1 L488.9,230.8 L489.2,230.3 L489.6,219.8 L489.9,241.9 L490.3,237.9 L490.6,239.1 L491.0,226.9 L491.3,225.1 L491.7,230.4 L492.0,229.2 L492.4,233.9 L492.7,241.9 L493.1,241.7 L493.4,241.3 L493.8,220.2 L494.1,233.3 L494.5,240.7 L494.8,236.2 L495.2,224.2 L495.5,240.2 L495.9,232.8 L496.2,224.9 L496.6,241.0 L496.9,232.2 L497.3,229.2 L497.6,226.6 L498.0,225.8 L498.3,236.2 L498.7,230.1 L499.0,231.3 L499.4,224.3 L499.7,224.5 L500.1,231.2 L500.4,241.5 L500.8,226.7 L501.1,233.6 L501.5,242.1 L501.8,234.8 L502.2,203.5 L502.5,240.8 L502.9,233.7 L503.2,243.9 L503.6,225.3 L503.9,220.1 L504.3,224.2 L504.6,247.2 L505.0,240.3 L505.3,234.4 L505.7,231.1 L506.0,237.8 L506.4,233.5 L506.7,238.2 L507.1,233.9 L507.4,236.2 L507.8,243.9 L508.1,239.7 L508.5,237.3 L508.8,236.9 L509.2,237.8 L509.5,222.0 L509.9,229.4 L510.2,247.2 L510.6,245.8 L510.9,232.5 L511.3,238.6 L511.6,234.0 L512.0,230.0 L512.3,224.3 L512.7,237.4 L513.0,240.3 L513.4,230.9 L513.7,242.7 L514.1,261.8 L514.4,227.8 L514.8,233.5 L515.1,266.2 L515.5,226.2 L515.8,245.9 L516.2,234.1 L516.5,233.9 L516.9,236.6 L517.2,246.1 L517.6,246.0 L517.9,233.0 L518.3,238.9 L518.6,241.9 L519.0,236.2 L519.3,245.4 L519.7,230.1 L520.0,237.0 L520.4,233.7 L520.7,239.8 L521.1,239.3 L521.4,236.1 L521.8,246.7 L522.1,226.9 L522.5,233.2 L522.8,228.4 L523.2,216.0 L523.5,238.4 L523.9,238.8 L524.2,241.9 L524.6,250.0 L524.9,240.4 L525.3,228.1 L525.6,232.1 L526.0,236.5 L526.3,245.1 L526.7,249.4" stroke="#4f9058" stroke-opacity="0.047" stroke-width="1"/>
<path d="M152.6,34.0 L153.3,35.4 L154.0,37.0 L154.7,38.8 L155.4,40.6 L156.1,42.5 L156.8,43.8 L157.5,44.7 L158.2,45.5 L158.9,46.5 L159.6,47.4 L160.3,48.5 L161.0,49.3 L161.7,50.3 L162.4,51.2 L163.1,53.0 L163.8,54.6 L164.5,56.4 L165.2,57.9 L165.9,59.7 L166.6,61.4 L167.3,63.2 L168.0,64.5 L168.7,65.7 L169.4,67.0 L170.1,68.4 L170.8,69.9 L171.5,71.3 L172.2,72.3 L172.9,73.3 L173.6,74.3 L174.3,75.4 L175.0,76.1 L175.7,76.5 L176.4,77.3 L177.1,78.0 L177.8,78.6 L178.5,79.3 L179.2,79.9 L179.9,80.9 L180.6,81.5 L181.3,82.7 L182.0,83.9 L182.7,85.3 L183.4,86.6 L184.1,88.1 L184.8,89.3 L185.5,90.3 L186.2,91.1 L186.9,92.2 L187.6,93.6 L188.3,94.9 L189.0,96.1 L189.7,97.1 L190.4,97.9 L191.1,98.9 L191.8,99.9 L192.5,101.1 L193.2,102.2 L193.9,103.2 L194.6,103.8 L195.3,104.5 L196.0,105.0 L196.7,105.6 L197.4,106.3 L198.1,107.2 L198.8,108.2 L199.5,108.7 L200.2,109.4 L200.9,110.0 L201.6,110.8 L202.3,111.1 L203.0,111.7 L203.7,112.5 L204.4,113.5 L205.1,114.0 L205.8,114.4 L206.5,115.0 L207.2,115.1 L207.9,115.5 L208.6,115.8 L209.3,116.7 L210.0,117.3 L210.7,117.8 L211.4,118.1 L212.1,118.3 L212.8,118.6 L213.5,118.9 L214.2,119.5 L214.9,120.3 L215.6,121.3 L216.3,122.0 L217.0,122.6 L217.7,123.0 L218.4,124.0 L219.1,124.7 L219.8,125.6 L220.5,125.9 L221.2,126.6 L221.9,127.1 L222.6,128.0 L223.3,128.9 L224.0,129.3 L224.7,129.5 L225.4,129.9 L226.1,130.5 L226.8,130.9 L227.5,131.5 L228.2,132.2 L228.9,133.0 L229.6,133.2 L230.3,133.8 L231.0,134.2 L231.7,134.9 L232.4,135.1 L233.1,135.5 L233.8,135.8 L234.5,136.4 L235.2,137.1 L235.9,137.6 L236.6,138.1 L237.3,138.6 L238.0,139.1 L238.7,139.9 L239.4,140.4 L240.1,140.9 L240.8,141.5 L241.5,142.5 L242.2,143.4 L242.9,143.8 L243.6,144.1 L244.3,144.6 L245.0,145.2 L245.7,145.6 L246.4,145.9 L247.1,146.6 L247.8,147.2 L248.5,147.5 L249.2,147.8 L249.9,148.6 L250.6,149.3 L251.3,150.1 L252.0,150.7 L252.7,151.5 L253.4,152.1 L254.1,152.7 L254.8,153.1 L255.5,153.7 L256.2,154.1 L256.9,155.0 L257.6,155.7 L258.3,156.3 L259.0,156.7 L259.7,157.3 L260.4,158.1 L261.1,158.6 L261.8,159.1 L262.5,159.5 L263.2,160.7 L263.9,161.6 L264.6,162.3 L265.3,162.6 L266.0,163.1 L266.7,163.3 L267.4,163.3 L268.1,163.3 L268.8,163.6 L269.5,163.9 L270.2,163.8 L270.9,164.2 L271.6,164.5 L272.3,164.9 L273.0,164.9 L273.7,164.5 L274.4,164.7 L275.1,164.7 L275.8,165.2 L276.5,165.4 L277.2,165.6 L277.9,165.4 L278.6,165.6 L279.3,165.7 L280.0,166.0 L280.7,166.1 L281.4,166.3 L282.1,166.5 L282.8,167.2 L283.5,167.8 L284.2,168.9 L284.9,169.5 L285.6,170.0 L286.3,170.0 L287.0,170.1 L287.7,170.5 L288.4,171.2 L289.1,171.8 L289.8,172.2 L290.5,172.9 L291.2,173.2 L291.9,174.0 L292.6,174.3 L293.3,174.8 L294.0,175.1 L294.7,175.4 L295.4,175.7 L296.1,175.8 L296.8,176.2 L297.5,176.9 L298.2,177.8 L298.9,178.3 L299.6,178.5 L300.3,178.5 L301.0,178.8 L301.7,179.1 L302.4,179.5 L303.1,179.6 L303.8,180.0 L304.5,180.3 L305.2,180.6 L305.9,180.8 L306.6,181.1 L307.3,181.7 L308.0,182.2 L308.7,182.5 L309.4,182.6 L310.1,183.0 L310.8,183.2 L311.5,183.4 L312.2,183.7 L312.9,184.3 L313.6,184.6 L314.3,185.0 L315.0,185.2 L315.7,185.5 L316.4,185.5 L317.1,186.1 L317.8,186.1 L318.5,186.4 L319.2,186.5 L319.9,187.2 L320.6,187.8 L321.3,188.4 L322.0,188.4 L322.7,188.8 L323.4,188.9 L324.1,189.4 L324.8,189.7 L325.5,189.9 L326.2,190.1 L326.9,190.3 L327.6,190.6 L328.3,191.1 L329.0,191.6 L329.7,192.2 L330.4,192.8 L331.1,193.1 L331.8,193.2 L332.5,193.2 L333.2,193.4 L333.9,193.8 L334.6,194.3 L335.3,194.6 L336.0,194.7 L336.7,195.0 L337.4,195.3 L338.1,195.9 L338.8,196.1 L339.5,196.4 L340.2,196.6 L340.9,197.0 L341.6,197.2 L342.3,197.5 L343.0,197.7 L343.7,197.6 L344.4,197.8 L345.1,198.0 L345.8,198.4 L346.5,198.5 L347.2,199.0 L347.9,199.3 L348.6,199.5 L349.3,199.3 L350.0,199.5 L350.7,199.9 L351.4,200.3 L352.1,200.6 L352.8,200.8 L353.5,201.2 L354.2,201.3 L354.9,201.7 L355.6,202.0 L356.3,202.7 L357.0,202.8 L357.7,202.9 L358.4,202.6 L359.1,203.0 L359.8,203.1 L360.5,203.3 L361.2,203.3 L361.9,203.5 L362.6,203.6 L363.3,203.7 L364.0,203.7 L364.7,203.8 L365.4,204.0 L366.1,204.5 L366.8,204.8 L367.5,204.8 L368.2,204.9 L368.9,205.2 L369.6,205.7 L370.3,205.9 L371.0,205.8 L371.7,206.0 L372.4,206.1 L373.1,206.2 L373.8,206.2 L374.5,206.6 L375.2,207.0 L375.9,207.5 L376.6,207.4 L377.3,207.7 L378.0,207.6 L378.7,207.9 L379.4,208.3 L380.1,208.7 L380.8,208.9 L381.5,208.7 L382.2,208.9 L382.9,209.3 L383.6,209.5 L384.3,209.4 L385.0,209.4 L385.7,209.6 L386.4,210.1 L387.1,210.6 L387.8,210.8 L388.5,211.1 L389.2,211.0 L389.9,211.3 L390.6,211.7 L391.3,212.1 L392.0,212.1 L392.7,212.0 L393.4,212.3 L394.1,212.2 L394.8,212.3 L395.5,212.2 L396.2,212.6 L396.9,212.7 L397.6,212.8 L398.3,212.8 L399.0,213.0 L399.7,213.0 L400.4,213.0 L401.1,213.1 L401.8,213.5 L402.5,213.7 L403.2,213.9 L403.9,214.1 L404.6,214.3 L405.3,214.6 L406.0,214.6 L406.7,215.1 L407.4,215.6 L408.1,216.3 L408.8,216.3 L409.5,216.3 L410.2,216.3 L410.9,216.6 L411.6,216.9 L412.3,216.9 L413.0,217.3 L413.7,217.3 L414.4,217.9 L415.1,218.0 L415.8,218.0 L416.5,217.9 L417.2,218.0 L417.9,218.2 L418.6,218.2 L419.3,218.1 L420.0,217.8 L420.7,217.9 L421.4,218.1 L422.1,218.5 L422.8,218.4 L423.5,218.5 L424.2,218.4 L424.9,218.4 L425.6,218.2 L426.3,218.5 L427.0,218.4 L427.7,218.7 L428.4,218.4 L429.1,218.5 L429.8,218.6 L430.5,218.9 L431.2,219.0 L431.9,218.9 L432.6,219.2 L433.3,219.7 L434.0,219.9 L434.7,220.0 L435.4,220.0 L436.1,220.2 L436.8,220.3 L437.5,220.4 L438.2,220.5 L438.9,220.6 L439.6,220.7 L440.3,221.0 L441.0,221.1 L441.7,221.2 L442.4,221.5 L443.1,221.8 L443.8,222.1 L444.5,222.2 L445.2,222.3 L445.9,222.6 L446.6,222.4 L447.3,222.5 L448.0,222.3 L448.7,222.7 L449.4,223.0 L450.1,222.8 L450.8,222.5 L451.5,222.4 L452.2,222.9 L452.9,223.3 L453.6,223.2 L454.3,223.3 L455.0,223.4 L455.7,223.4 L456.4,223.7 L457.1,223.5 L457.8,223.8 L458.5,223.7 L459.2,224.4 L459.9,224.4 L460.6,224.6 L461.3,224.8 L462.0,224.8 L462.7,225.0 L463.4,225.0 L464.1,225.3 L464.8,225.7 L465.5,226.2 L466.2,226.4 L466.9,226.7 L467.6,226.7 L468.3,227.0 L469.0,227.1 L469.7,227.4 L470.4,227.5 L471.1,227.4 L471.8,227.3 L472.5,227.5 L473.2,227.4 L473.9,227.7 L474.6,227.7 L475.3,228.0 L476.0,227.8 L476.7,228.0 L477.4,228.0 L478.1,228.2 L478.8,228.5 L479.5,228.5 L480.2,228.9 L480.9,228.9 L481.6,228.8 L482.3,228.5 L483.0,228.5 L483.7,228.7 L484.4,228.9 L485.1,229.0 L485.8,228.8 L486.5,228.9 L487.2,228.8 L487.9,229.2 L488.6,229.3 L489.3,229.6 L490.0,229.6 L490.7,229.9 L491.4,229.9 L492.1,229.9 L492.8,229.8 L493.5,229.8 L494.2,230.1 L494.9,230.6 L495.6,230.9 L496.3,231.2 L497.0,230.8 L497.7,231.0 L498.4,230.9 L499.1,231.1 L499.8,231.2 L500.5,231.5 L501.2,231.6 L501.9,231.6 L502.6,231.2 L503.3,231.3 L504.0,231.3 L504.7,231.6 L505.4,231.5 L506.1,231.8 L506.8,231.5 L507.5,231.5 L508.2,231.5 L508.9,231.8 L509.6,231.9 L510.3,231.8 L511.0,231.7 L511.7,232.0 L512.4,232.4 L513.1,232.9 L513.8,232.8 L514.5,232.4 L515.2,232.3 L515.9,232.7 L516.6,232.8 L517.3,232.9 L518.0,233.0 L518.7,233.4 L519.4,233.6 L520.1,233.4 L520.8,233.2 L521.5,233.3 L522.2,233.3 L522.9,233.8 L523.6,233.9 L524.3,234.4 L525.0,234.7 L525.7,235.1 L526.4,235.2" stroke="#5b86dc" stroke-width="0.95"/>
<path d="M152.2,34.0 L152.9,35.2 L153.6,36.3 L154.3,37.5 L155.0,38.6 L155.7,39.9 L156.4,41.4 L157.1,42.7 L157.8,43.7 L158.5,44.5 L159.2,45.5 L159.9,46.6 L160.6,47.3 L161.3,48.1 L162.0,49.1 L162.7,50.0 L163.4,50.8 L164.1,51.9 L164.8,53.4 L165.5,54.7 L166.2,56.4 L166.9,57.9 L167.6,59.7 L168.3,61.3 L169.0,63.0 L169.7,64.1 L170.4,65.5 L171.1,67.1 L171.8,69.0 L172.5,70.3 L173.2,71.8 L173.9,73.2 L174.6,74.1 L175.3,75.1 L176.0,75.9 L176.7,76.8 L177.4,77.6 L178.1,78.4 L178.8,79.1 L179.5,79.8 L180.2,80.7 L180.9,81.3 L181.6,82.0 L182.3,83.0 L183.0,83.8 L183.7,85.0 L184.4,85.8 L185.1,87.0 L185.8,88.2 L186.5,89.4 L187.2,90.3 L187.9,91.1 L188.6,92.1 L189.3,93.3 L190.0,94.3 L190.7,95.0 L191.4,95.9 L192.1,96.8 L192.8,97.5 L193.5,98.2 L194.2,98.8 L194.9,99.7 L195.6,100.2 L196.3,101.0 L197.0,101.8 L197.7,103.0 L198.4,104.2 L199.1,104.9 L199.8,105.6 L200.5,106.4 L201.2,107.2 L201.9,108.1 L202.6,108.9 L203.3,110.3 L204.0,111.3 L204.7,112.1 L205.4,112.7 L206.1,113.4 L206.8,114.5 L207.5,115.2 L208.2,115.9 L208.9,116.5 L209.6,117.2 L210.3,118.0 L211.0,118.5 L211.7,119.2 L212.4,119.9 L213.1,120.7 L213.8,121.3 L214.5,121.8 L215.2,122.1 L215.9,122.5 L216.6,123.1 L217.3,123.4 L218.0,124.0 L218.7,124.1 L219.4,124.6 L220.1,124.7 L220.8,125.1 L221.5,125.4 L222.2,126.0 L222.9,126.7 L223.6,127.6 L224.3,128.0 L225.0,128.4 L225.7,128.8 L226.4,129.7 L227.1,130.5 L227.8,131.1 L228.5,131.8 L229.2,132.6 L229.9,133.2 L230.6,133.8 L231.3,134.4 L232.0,135.1 L232.7,135.8 L233.4,136.4 L234.1,137.4 L234.8,138.0 L235.5,138.8 L236.2,139.2 L236.9,139.7 L237.6,140.0 L238.3,140.5 L239.0,141.1 L239.7,141.7 L240.4,142.6 L241.1,142.8 L241.8,143.8 L242.5,144.1 L243.2,145.1 L243.9,145.6 L244.6,146.0 L245.3,146.7 L246.0,147.4 L246.7,148.2 L247.4,148.6 L248.1,148.9 L248.8,149.4 L249.5,150.1 L250.2,150.5 L250.9,151.2 L251.6,151.4 L252.3,151.8 L253.0,152.2 L253.7,152.9 L254.4,153.5 L255.1,154.3 L255.8,154.6 L256.5,155.0 L257.2,155.3 L257.9,155.7 L258.6,156.3 L259.3,156.8 L260.0,157.3 L260.7,157.6 L261.4,158.0 L262.1,158.8 L262.8,159.4 L263.5,159.9 L264.2,160.2 L264.9,160.9 L265.6,161.4 L266.3,161.8 L267.0,161.9 L267.7,162.1 L268.4,162.5 L269.1,162.8 L269.8,163.4 L270.5,163.4 L271.2,163.8 L271.9,163.9 L272.6,164.3 L273.3,164.3 L274.0,164.5 L274.7,165.0 L275.4,165.3 L276.1,165.8 L276.8,165.8 L277.5,166.1 L278.2,166.3 L278.9,166.6 L279.6,166.9 L280.3,167.2 L281.0,167.5 L281.7,168.3 L282.4,168.9 L283.1,169.5 L283.8,169.8 L284.5,170.0 L285.2,170.6 L285.9,171.4 L286.6,172.1 L287.3,172.5 L288.0,173.0 L288.7,173.7 L289.4,174.3 L290.1,174.6 L290.8,175.2 L291.5,175.3 L292.2,175.9 L292.9,176.1 L293.6,176.8 L294.3,177.3 L295.0,177.8 L295.7,177.8 L296.4,177.7 L297.1,178.0 L297.8,178.3 L298.5,178.9 L299.2,179.3 L299.9,179.6 L300.6,179.6 L301.3,179.9 L302.0,180.5 L302.7,181.1 L303.4,181.5 L304.1,181.7 L304.8,181.8 L305.5,182.1 L306.2,182.4 L306.9,182.7 L307.6,183.1 L308.3,183.5 L309.0,184.1 L309.7,184.2 L310.4,184.4 L311.1,184.5 L311.8,184.9 L312.5,185.3 L313.2,185.6 L313.9,186.1 L314.6,186.4 L315.3,187.2 L316.0,187.2 L316.7,187.6 L317.4,187.6 L318.1,188.1 L318.8,188.1 L319.5,188.4 L320.2,188.9 L320.9,189.4 L321.6,189.8 L322.3,190.0 L323.0,190.6 L323.7,190.9 L324.4,191.0 L325.1,191.1 L325.8,191.1 L326.5,191.3 L327.2,191.7 L327.9,192.5 L328.6,193.3 L329.3,193.6 L330.0,193.6 L330.7,194.1 L331.4,194.7 L332.1,195.1 L332.8,195.3 L333.5,195.7 L334.2,196.0 L334.9,196.3 L335.6,196.6 L336.3,196.5 L337.0,196.8 L337.7,196.9 L338.4,197.4 L339.1,197.4 L339.8,197.7 L340.5,197.7 L341.2,197.9 L341.9,198.4 L342.6,198.9 L343.3,199.2 L344.0,199.3 L344.7,199.4 L345.4,199.3 L346.1,199.5 L346.8,199.6 L347.5,200.2 L348.2,200.3 L348.9,200.5 L349.6,200.7 L350.3,201.2 L351.0,201.5 L351.7,201.8 L352.4,202.1 L353.1,202.2 L353.8,202.3 L354.5,202.1 L355.2,202.6 L355.9,203.0 L356.6,203.6 L357.3,203.7 L358.0,203.8 L358.7,203.9 L359.4,203.9 L360.1,203.9 L360.8,204.0 L361.5,204.4 L362.2,204.7 L362.9,204.8 L363.6,204.6 L364.3,204.5 L365.0,204.9 L365.7,205.2 L366.4,205.4 L367.1,205.3 L367.8,205.1 L368.5,205.3 L369.2,205.6 L369.9,205.8 L370.6,205.9 L371.3,205.8 L372.0,206.0 L372.7,206.0 L373.4,206.1 L374.1,206.1 L374.8,206.6 L375.5,206.6 L376.2,207.1 L376.9,207.5 L377.6,207.9 L378.3,208.0 L379.0,208.1 L379.7,208.4 L380.4,208.6 L381.1,209.0 L381.8,209.5 L382.5,209.9 L383.2,210.1 L383.9,210.0 L384.6,210.3 L385.3,210.5 L386.0,210.8 L386.7,211.2 L387.4,211.5 L388.1,212.1 L388.8,212.4 L389.5,212.9 L390.2,213.1 L390.9,213.5 L391.6,213.6 L392.3,213.7 L393.0,213.5 L393.7,213.7 L394.4,214.3 L395.1,214.8 L395.8,214.9 L396.5,214.8 L397.2,214.8 L397.9,215.2 L398.6,215.6 L399.3,215.9 L400.0,216.1 L400.7,216.4 L401.4,216.6 L402.1,216.6 L402.8,216.7 L403.5,216.9 L404.2,217.2 L404.9,217.3 L405.6,217.3 L406.3,216.9 L407.0,216.9 L407.7,216.7 L408.4,216.8 L409.1,216.9 L409.8,217.4 L410.5,217.6 L411.2,217.3 L411.9,217.2 L412.6,217.2 L413.3,217.6 L414.0,218.1 L414.7,218.3 L415.4,218.1 L416.1,217.8 L416.8,218.0 L417.5,218.4 L418.2,218.6 L418.9,218.9 L419.6,218.9 L420.3,219.5 L421.0,219.9 L421.7,220.4 L422.4,220.4 L423.1,220.6 L423.8,220.6 L424.5,220.9 L425.2,221.0 L425.9,221.0 L426.6,221.1 L427.3,221.5 L428.0,221.9 L428.7,222.4 L429.4,222.6 L430.1,222.4 L430.8,222.3 L431.5,222.2 L432.2,222.5 L432.9,222.5 L433.6,222.7 L434.3,222.6 L435.0,222.5 L435.7,222.2 L436.4,222.3 L437.1,222.5 L437.8,222.4 L438.5,222.5 L439.2,222.5 L439.9,223.0 L440.6,222.7 L441.3,222.6 L442.0,222.2 L442.7,222.7 L443.4,222.7 L444.1,223.3 L444.8,223.1 L445.5,223.3 L446.2,223.1 L446.9,223.3 L447.6,223.7 L448.3,223.9 L449.0,224.4 L449.7,224.5 L450.4,224.7 L451.1,224.7 L451.8,224.8 L452.5,225.2 L453.2,225.4 L453.9,225.6 L454.6,225.7 L455.3,225.9 L456.0,226.0 L456.7,226.3 L457.4,226.8 L458.1,226.9 L458.8,227.0 L459.5,227.0 L460.2,227.2 L460.9,227.5 L461.6,227.6 L462.3,228.2 L463.0,228.1 L463.7,228.4 L464.4,228.3 L465.1,228.4 L465.8,228.6 L466.5,228.8 L467.2,229.1 L467.9,229.2 L468.6,229.2 L469.3,229.2 L470.0,229.4 L470.7,230.0 L471.4,230.1 L472.1,230.3 L472.8,230.1 L473.5,230.6 L474.2,230.6 L474.9,230.9 L475.6,231.0 L476.3,231.5 L477.0,231.8 L477.7,231.9 L478.4,231.8 L479.1,232.1 L479.8,232.6 L480.5,232.8 L481.2,232.9 L481.9,233.0 L482.6,233.1 L483.3,233.4 L484.0,233.2 L484.7,233.3 L485.4,233.0 L486.1,233.5 L486.8,233.7 L487.5,234.1 L488.2,233.9 L488.9,234.1 L489.6,234.1 L490.3,234.5 L491.0,234.4 L491.7,234.3 L492.4,233.9 L493.1,234.0 L493.8,234.4 L494.5,234.7 L495.2,234.9 L495.9,234.7 L496.6,234.3 L497.3,234.5 L498.0,234.1 L498.7,234.0 L499.4,233.4 L500.1,233.8 L500.8,233.4 L501.5,233.3 L502.2,232.7 L502.9,232.5 L503.6,232.6 L504.3,232.7 L505.0,232.6 L505.7,232.1 L506.4,231.5 L507.1,231.4 L507.8,231.6 L508.5,232.0 L509.2,232.1 L509.9,232.0 L510.6,232.1 L511.3,232.2 L512.0,232.7 L512.7,233.1 L513.4,233.2 L514.1,233.0 L514.8,232.8 L515.5,232.8 L516.2,232.9 L516.9,233.0 L517.6,233.0 L518.3,233.4 L519.0,233.5 L519.7,233.9 L520.4,233.9 L521.1,234.0 L521.8,234.0 L522.5,234.1 L523.2,234.3 L523.9,234.6 L524.6,234.8 L525.3,234.9 L526.0,235.0 L526.7,235.1" stroke="#4f9058" stroke-width="0.95"/>
</g>
<circle cx="527" cy="234.9" r="1.6" fill="#5b86dc"/><circle cx="527" cy="235.6" r="1.5" fill="#4f9058"/>
<line x1="580.5" x2="1062.5" y1="53.6" y2="53.6" stroke="#f3f3f5" stroke-width="1"/>
<line x1="578" x2="580.5" y1="53.6" y2="53.6" stroke="#e1e1e5" stroke-width="1"/>
<line x1="580.5" x2="1062.5" y1="97.8" y2="97.8" stroke="#f3f3f5" stroke-width="1"/>
<line x1="578" x2="580.5" y1="97.8" y2="97.8" stroke="#e1e1e5" stroke-width="1"/>
<line x1="580.5" x2="1062.5" y1="142.0" y2="142.0" stroke="#f3f3f5" stroke-width="1"/>
<line x1="578" x2="580.5" y1="142.0" y2="142.0" stroke="#e1e1e5" stroke-width="1"/>
<line x1="580.5" x2="1062.5" y1="186.2" y2="186.2" stroke="#f3f3f5" stroke-width="1"/>
<line x1="578" x2="580.5" y1="186.2" y2="186.2" stroke="#e1e1e5" stroke-width="1"/>
<line x1="580.5" x2="1062.5" y1="230.4" y2="230.4" stroke="#f3f3f5" stroke-width="1"/>
<line x1="578" x2="580.5" y1="230.4" y2="230.4" stroke="#e1e1e5" stroke-width="1"/>
<path d="M580.5,31 V274.5 H1062.5" fill="none" stroke="#e1e1e5" stroke-width="1"/>
<line x1="578" x2="580.5" y1="274.5" y2="274.5" stroke="#e1e1e5" stroke-width="1"/>
<line x1="669.9" x2="669.9" y1="272" y2="276.8" stroke="#e1e1e5" stroke-width="1"/>
<line x1="759.0" x2="759.0" y1="272" y2="276.8" stroke="#e1e1e5" stroke-width="1"/>
<line x1="848.1" x2="848.1" y1="272" y2="276.8" stroke="#e1e1e5" stroke-width="1"/>
<line x1="937.2" x2="937.2" y1="272" y2="276.8" stroke="#e1e1e5" stroke-width="1"/>
<line x1="1026.3" x2="1026.3" y1="272" y2="276.8" stroke="#e1e1e5" stroke-width="1"/>
<clipPath id="cr"><rect x="580" y="31" width="483" height="243.5"/></clipPath>
<g clip-path="url(#cr)" fill="none" stroke-linejoin="round">
<path d="M581.0,161.4 L581.4,194.3 L581.8,122.2 L582.2,141.8 L582.6,173.9 L583.0,157.8 L583.4,164.9 L583.8,135.4 L584.2,175.3 L584.6,198.1 L585.0,176.2 L585.4,122.4 L585.8,93.4 L586.2,195.6 L586.6,120.1 L587.0,214.6 L587.4,176.3 L587.8,133.3 L588.2,141.0 L588.6,126.2 L589.0,129.6 L589.4,162.5 L589.8,98.6 L590.2,143.2 L590.6,172.5 L591.0,107.1 L591.4,149.8 L591.8,144.1 L592.2,155.1 L592.6,258.5 L593.0,136.1 L593.4,175.6 L593.8,153.6 L594.2,183.0 L594.6,172.1 L595.0,85.8 L595.4,206.8 L595.8,83.3 L596.2,146.3 L596.6,62.2 L597.0,158.0 L597.4,166.6 L597.8,171.5 L598.2,170.9 L598.6,211.7 L599.0,193.7 L599.4,186.0 L599.8,196.7 L600.2,204.9 L600.6,145.0 L601.0,157.9 L601.4,226.7 L601.8,138.6 L602.2,125.9 L602.6,129.6 L603.0,200.1 L603.4,125.6 L603.8,133.4 L604.2,175.9 L604.6,189.7 L605.0,204.8 L605.4,177.4 L605.8,166.8 L606.2,166.5 L606.6,226.2 L607.0,176.3 L607.4,174.1 L607.8,178.9 L608.2,201.9 L608.6,219.8 L609.0,141.7 L609.4,182.2 L609.8,172.1 L610.2,165.0 L610.6,108.1 L611.0,222.4 L611.4,179.7 L611.8,221.0 L612.2,201.6 L612.6,172.0 L613.0,159.3 L613.4,187.1 L613.8,108.3 L614.2,143.2 L614.6,246.1 L615.0,132.6 L615.4,177.4 L615.8,161.6 L616.2,209.2 L616.6,117.2 L617.0,157.8 L617.4,141.4 L617.8,78.6 L618.2,149.7 L618.6,153.5 L619.0,191.2 L619.4,134.4 L619.8,28.2 L620.2,94.7 L620.6,188.1 L621.0,226.6 L621.4,145.6 L621.8,191.8 L622.2,191.5 L622.6,191.0 L623.0,134.6 L623.4,239.3 L623.8,125.1 L624.2,171.6 L624.6,132.7 L625.0,115.4 L625.4,173.2 L625.8,124.1 L626.2,121.4 L626.6,82.5 L627.0,150.2 L627.4,90.0 L627.8,148.9 L628.2,153.5 L628.6,246.9 L629.0,123.1 L629.4,142.7 L629.8,158.3 L630.2,144.8 L630.6,124.8 L631.0,155.5 L631.4,219.0 L631.8,150.4 L632.2,104.6 L632.6,209.5 L633.0,139.5 L633.4,91.1 L633.8,172.4 L634.2,182.3 L634.6,175.3 L635.0,162.9 L635.4,107.5 L635.8,194.2 L636.2,173.5 L636.6,180.0 L637.0,169.2 L637.4,119.1 L637.8,122.3 L638.2,210.3 L638.6,141.3 L639.0,149.5 L639.4,136.3 L639.8,174.6 L640.2,193.8 L640.6,146.4 L641.0,181.4 L641.4,209.9 L641.8,201.1 L642.2,173.9 L642.6,166.1 L643.0,116.0 L643.4,155.1 L643.8,118.1 L644.2,224.6 L644.6,153.1 L645.0,167.1 L645.4,167.2 L645.8,142.8 L646.2,146.8 L646.6,101.5 L647.0,207.9 L647.4,209.6 L647.8,126.5 L648.2,171.4 L648.6,143.6 L649.0,213.7 L649.4,244.1 L649.8,162.9 L650.2,223.3 L650.6,164.7 L651.0,166.3 L651.4,144.0 L651.8,182.9 L652.2,138.3 L652.6,147.7 L653.0,157.6 L653.4,98.3 L653.8,211.1 L654.2,133.8 L654.6,160.9 L655.0,128.7 L655.4,200.9 L655.8,190.5 L656.2,197.0 L656.6,152.5 L657.0,208.0 L657.4,145.2 L657.8,124.6 L658.2,216.3 L658.6,143.2 L659.0,151.9 L659.4,118.7 L659.8,126.9 L660.2,134.4 L660.6,156.3 L661.0,81.4 L661.4,130.6 L661.8,101.9 L662.2,129.4 L662.6,171.2 L663.0,141.8 L663.4,235.6 L663.8,164.8 L664.2,130.6 L664.6,119.4 L665.0,250.4 L665.4,206.3 L665.8,159.8 L666.2,146.9 L666.6,128.0 L667.0,116.7 L667.4,135.9 L667.8,153.4 L668.2,81.1 L668.6,172.2 L669.0,155.1 L669.4,124.9 L669.8,154.3 L670.2,176.5 L670.6,145.6 L671.0,151.8 L671.4,145.7 L671.8,184.9 L672.2,187.4 L672.6,87.2 L673.0,128.3 L673.4,199.8 L673.8,162.6 L674.2,139.6 L674.6,172.4 L675.0,47.4 L675.4,60.5 L675.8,112.5 L676.2,206.1 L676.6,216.9 L677.0,120.3 L677.4,167.3 L677.8,160.6 L678.2,152.7 L678.6,157.3 L679.0,146.1 L679.4,192.2 L679.8,102.2 L680.2,197.0 L680.6,226.7 L681.0,212.9 L681.4,229.3 L681.8,220.9 L682.2,134.1 L682.6,177.0 L683.0,236.5 L683.4,127.1 L683.8,131.3 L684.2,181.8 L684.6,204.0 L685.0,130.7 L685.4,157.1 L685.8,90.5 L686.2,187.9 L686.6,220.7 L687.0,149.8 L687.4,109.7 L687.8,212.8 L688.2,201.0 L688.6,110.2 L689.0,109.6 L689.4,142.5 L689.8,131.8 L690.2,139.8 L690.6,185.8 L691.0,127.2 L691.4,175.8 L691.8,222.0 L692.2,154.0 L692.6,197.0 L693.0,157.0 L693.4,115.8 L693.8,123.7 L694.2,153.2 L694.6,113.2 L695.0,113.0 L695.4,175.3 L695.8,144.2 L696.2,142.9 L696.6,189.2 L697.0,149.6 L697.4,126.6 L697.8,120.8 L698.2,220.5 L698.6,157.9 L699.0,145.6 L699.4,163.3 L699.8,119.8 L700.2,206.2 L700.6,172.5 L701.0,135.2 L701.4,161.9 L701.8,145.8 L702.2,204.3 L702.6,216.7 L703.0,203.4 L703.4,149.8 L703.8,125.8 L704.2,162.0 L704.6,154.3 L705.0,159.6 L705.4,146.8 L705.8,127.7 L706.2,208.0 L706.6,52.4 L707.0,157.0 L707.4,177.6 L707.8,111.4 L708.2,220.1 L708.6,40.3 L709.0,137.5 L709.4,179.3 L709.8,115.4 L710.2,128.6 L710.6,232.0 L711.0,165.6 L711.4,149.6 L711.8,150.2 L712.2,134.8 L712.6,221.7 L713.0,166.8 L713.4,216.7 L713.8,126.3 L714.2,86.3 L714.6,165.8 L715.0,105.9 L715.4,126.2 L715.8,132.8 L716.2,72.7 L716.6,115.5 L717.0,146.0 L717.4,91.5 L717.8,139.0 L718.2,187.8 L718.6,172.3 L719.0,162.4 L719.4,140.5 L719.8,192.0 L720.2,240.9 L720.6,105.9 L721.0,137.6 L721.4,123.8 L721.8,109.0 L722.2,172.6 L722.6,133.8 L723.0,138.1 L723.4,86.7 L723.8,179.7 L724.2,159.9 L724.6,169.6 L725.0,148.4 L725.4,94.2 L725.8,122.9 L726.2,123.9 L726.6,137.3 L727.0,144.7 L727.4,141.7 L727.8,235.0 L728.2,148.8 L728.6,191.4 L729.0,120.7 L729.4,91.1 L729.8,170.3 L730.2,187.8 L730.6,183.6 L731.0,156.5 L731.4,182.8 L731.8,144.8 L732.2,144.3 L732.6,189.5 L733.0,146.9 L733.4,154.3 L733.8,108.3 L734.2,86.2 L734.6,162.8 L735.0,132.8 L735.4,176.0 L735.8,137.8 L736.2,147.8 L736.6,180.4 L737.0,182.2 L737.4,132.9 L737.8,121.7 L738.2,219.9 L738.6,181.6 L739.0,178.8 L739.4,172.6 L739.8,154.8 L740.2,166.2 L740.6,150.3 L741.0,112.5 L741.4,194.9 L741.8,120.7 L742.2,192.2 L742.6,193.3 L743.0,119.7 L743.4,88.4 L743.8,120.4 L744.2,196.1 L744.6,222.8 L745.0,203.6 L745.4,170.1 L745.8,126.0 L746.2,145.3 L746.6,202.4 L747.0,152.8 L747.4,154.6 L747.8,125.2 L748.2,194.1 L748.6,195.7 L749.0,145.0 L749.4,176.4 L749.8,103.6 L750.2,191.2 L750.6,147.3 L751.0,115.2 L751.4,124.0 L751.8,172.8 L752.2,94.9 L752.6,143.2 L753.0,204.6 L753.4,109.1 L753.8,225.4 L754.2,190.2 L754.6,121.5 L755.0,157.7 L755.4,185.3 L755.8,129.6 L756.2,209.0 L756.6,162.7 L757.0,140.4 L757.4,140.0 L757.8,210.6 L758.2,202.6 L758.6,191.1 L759.0,199.8 L759.4,171.6 L759.8,190.4 L760.2,136.8 L760.6,186.2 L761.0,126.7 L761.4,136.5 L761.8,208.3 L762.2,168.0 L762.6,155.9 L763.0,166.0 L763.4,261.1 L763.8,183.6 L764.2,114.8 L764.6,200.5 L765.0,146.5 L765.4,156.6 L765.8,131.2 L766.2,169.6 L766.6,175.9 L767.0,138.1 L767.4,153.0 L767.8,134.0 L768.2,174.6 L768.6,168.9 L769.0,120.3 L769.4,115.8 L769.8,116.5 L770.2,179.1 L770.6,125.3 L771.0,181.4 L771.4,162.8 L771.8,148.5 L772.2,171.2 L772.6,162.4 L773.0,136.4 L773.4,212.2 L773.8,141.3 L774.2,106.2 L774.6,85.4 L775.0,296.6 L775.4,145.5 L775.8,147.9 L776.2,134.3 L776.6,155.6 L777.0,128.5 L777.4,191.1 L777.8,173.1 L778.2,225.6 L778.6,155.4 L779.0,139.5 L779.4,169.0 L779.8,102.6 L780.2,227.0 L780.6,221.4 L781.0,186.8 L781.4,164.0 L781.8,105.4 L782.2,157.8 L782.6,148.6 L783.0,191.8 L783.4,97.8 L783.8,151.0 L784.2,183.6 L784.6,174.8 L785.0,142.1 L785.4,82.7 L785.8,117.0 L786.2,181.5 L786.6,161.6 L787.0,137.6 L787.4,115.3 L787.8,144.1 L788.2,167.8 L788.6,187.5 L789.0,149.4 L789.4,225.5 L789.8,186.7 L790.2,197.9 L790.6,166.1 L791.0,165.8 L791.4,191.3 L791.8,211.8 L792.2,195.0 L792.6,200.0 L793.0,89.0 L793.4,179.3 L793.8,167.3 L794.2,175.4 L794.6,159.9 L795.0,144.7 L795.4,116.8 L795.8,190.7 L796.2,222.3 L796.6,138.7 L797.0,171.7 L797.4,148.5 L797.8,214.5 L798.2,133.9 L798.6,107.4 L799.0,136.8 L799.4,186.4 L799.8,203.8 L800.2,117.6 L800.6,135.8 L801.0,175.5 L801.4,129.9 L801.8,144.7 L802.2,168.7 L802.6,151.3 L803.0,149.2 L803.4,158.3 L803.8,175.3 L804.2,156.2 L804.6,165.3 L805.0,96.6 L805.4,157.8 L805.8,109.9 L806.2,155.7 L806.6,157.5 L807.0,157.7 L807.4,231.7 L807.8,151.3 L808.2,130.8 L808.6,139.9 L809.0,165.0 L809.4,162.8 L809.8,166.9 L810.2,186.5 L810.6,192.1 L811.0,133.6 L811.4,132.0 L811.8,108.8 L812.2,175.8 L812.6,172.1 L813.0,158.3 L813.4,77.4 L813.8,189.5 L814.2,167.9 L814.6,189.8 L815.0,150.6 L815.4,161.6 L815.8,150.8 L816.2,228.6 L816.6,229.9 L817.0,158.8 L817.4,214.2 L817.8,174.6 L818.2,144.8 L818.6,106.5 L819.0,200.5 L819.4,254.9 L819.8,192.7 L820.2,166.4 L820.6,177.5 L821.0,120.6 L821.4,164.0 L821.8,112.7 L822.2,140.9 L822.6,111.0 L823.0,185.6 L823.4,206.6 L823.8,131.0 L824.2,193.2 L824.6,186.4 L825.0,155.6 L825.4,148.8 L825.8,139.9 L826.2,195.8 L826.6,200.4 L827.0,171.4 L827.4,144.3 L827.8,124.8 L828.2,99.6 L828.6,193.9 L829.0,224.8 L829.4,97.7 L829.8,143.9 L830.2,145.5 L830.6,133.6 L831.0,175.2 L831.4,130.4 L831.8,138.5 L832.2,114.8 L832.6,176.7 L833.0,115.0 L833.4,190.4 L833.8,185.3 L834.2,149.2 L834.6,175.6 L835.0,202.2 L835.4,145.3 L835.8,151.9 L836.2,134.8 L836.6,140.5 L837.0,136.6 L837.4,137.0 L837.8,131.6 L838.2,193.1 L838.6,160.7 L839.0,194.2 L839.4,144.7 L839.8,136.1 L840.2,125.0 L840.6,82.6 L841.0,219.9 L841.4,170.1 L841.8,134.4 L842.2,211.3 L842.6,235.8 L843.0,190.3 L843.4,173.4 L843.8,208.0 L844.2,167.3 L844.6,185.4 L845.0,192.2 L845.4,146.5 L845.8,203.8 L846.2,78.7 L846.6,138.1 L847.0,200.1 L847.4,175.7 L847.8,156.6 L848.2,158.6 L848.6,201.7 L849.0,163.0 L849.4,152.5 L849.8,238.4 L850.2,115.8 L850.6,159.1 L851.0,205.6 L851.4,175.1 L851.8,148.6 L852.2,132.9 L852.6,116.0 L853.0,189.1 L853.4,166.0 L853.8,202.1 L854.2,197.1 L854.6,207.0 L855.0,222.3 L855.4,174.2 L855.8,198.8 L856.2,202.1 L856.6,127.2 L857.0,172.2 L857.4,302.8 L857.8,186.1 L858.2,221.1 L858.6,151.9 L859.0,164.2 L859.4,142.1 L859.8,215.3 L860.2,162.5 L860.6,177.3 L861.0,192.3 L861.4,195.0 L861.8,137.4 L862.2,171.4 L862.6,115.2 L863.0,168.9 L863.4,184.9 L863.8,179.5 L864.2,186.6 L864.6,153.5 L865.0,89.6 L865.4,178.4 L865.8,158.6 L866.2,188.9 L866.6,155.9 L867.0,182.8 L867.4,154.3 L867.8,237.7 L868.2,153.4 L868.6,190.3 L869.0,224.6 L869.4,177.3 L869.8,204.2 L870.2,161.1 L870.6,223.6 L871.0,197.7 L871.4,160.5 L871.8,153.5 L872.2,134.5 L872.6,113.9 L873.0,67.6 L873.4,166.3 L873.8,139.7 L874.2,187.9 L874.6,145.5 L875.0,187.3 L875.4,204.9 L875.8,253.9 L876.2,111.1 L876.6,200.1 L877.0,125.8 L877.4,146.1 L877.8,159.6 L878.2,179.1 L878.6,219.5 L879.0,144.6 L879.4,120.6 L879.8,178.2 L880.2,226.6 L880.6,183.0 L881.0,187.3 L881.4,184.2 L881.8,154.4 L882.2,208.6 L882.6,250.9 L883.0,206.1 L883.4,149.2 L883.8,170.6 L884.2,166.4 L884.6,208.5 L885.0,193.4 L885.4,309.5 L885.8,173.1 L886.2,151.6 L886.6,272.0 L887.0,129.0 L887.4,211.9 L887.8,131.6 L888.2,195.9 L888.6,155.5 L889.0,204.0 L889.4,164.8 L889.8,153.3 L890.2,183.6 L890.6,177.6 L891.0,127.4 L891.4,164.1 L891.8,173.9 L892.2,160.6 L892.6,172.8 L893.0,154.9 L893.4,162.0 L893.8,116.2 L894.2,226.8 L894.6,210.3 L895.0,139.6 L895.4,224.3 L895.8,182.2 L896.2,187.6 L896.6,176.3 L897.0,129.9 L897.4,145.5 L897.8,190.6 L898.2,177.5 L898.6,167.2 L899.0,230.6 L899.4,141.9 L899.8,199.4 L900.2,147.2 L900.6,183.3 L901.0,146.6 L901.4,183.0 L901.8,110.9 L902.2,197.8 L902.6,131.4 L903.0,183.4 L903.4,194.2 L903.8,160.5 L904.2,187.2 L904.6,223.3 L905.0,194.1 L905.4,176.5 L905.8,184.8 L906.2,219.5 L906.6,171.0 L907.0,147.5 L907.4,260.6 L907.8,199.2 L908.2,212.7 L908.6,135.4 L909.0,165.5 L909.4,168.9 L909.8,145.5 L910.2,145.6 L910.6,146.2 L911.0,132.4 L911.4,190.3 L911.8,231.0 L912.2,155.5 L912.6,170.9 L913.0,174.6 L913.4,168.6 L913.8,170.4 L914.2,190.7 L914.6,191.2 L915.0,183.3 L915.4,238.1 L915.8,173.0 L916.2,188.9 L916.6,218.1 L917.0,214.6 L917.4,194.8 L917.8,163.6 L918.2,169.9 L918.6,169.1 L919.0,171.5 L919.4,107.5 L919.8,199.7 L920.2,216.8 L920.6,208.0 L921.0,137.5 L921.4,213.9 L921.8,208.7 L922.2,141.1 L922.6,207.5 L923.0,217.1 L923.4,129.0 L923.8,171.8 L924.2,170.3 L924.6,246.4 L925.0,152.1 L925.4,151.8 L925.8,236.5 L926.2,187.8 L926.6,186.0 L927.0,225.4 L927.4,211.1 L927.8,166.0 L928.2,142.5 L928.6,163.1 L929.0,116.4 L929.4,179.3 L929.8,181.6 L930.2,219.9 L930.6,200.0 L931.0,153.0 L931.4,237.1 L931.8,121.4 L932.2,145.3 L932.6,180.3 L933.0,195.1 L933.4,176.3 L933.8,164.7 L934.2,192.3 L934.6,273.1 L935.0,214.4 L935.4,101.9 L935.8,219.2 L936.2,164.1 L936.6,164.2 L937.0,170.7 L937.4,133.4 L937.8,281.3 L938.2,184.7 L938.6,149.5 L939.0,169.0 L939.4,156.9 L939.8,161.9 L940.2,150.8 L940.6,158.5 L941.0,154.0 L941.4,163.0 L941.8,186.9 L942.2,162.9 L942.6,107.4 L943.0,175.3 L943.4,223.2 L943.8,176.4 L944.2,169.6 L944.6,159.0 L945.0,171.3 L945.4,178.9 L945.8,168.4 L946.2,131.9 L946.6,186.1 L947.0,184.0 L947.4,235.0 L947.8,147.0 L948.2,106.8 L948.6,150.1 L949.0,154.0 L949.4,189.3 L949.8,211.2 L950.2,156.9 L950.6,175.1 L951.0,190.3 L951.4,164.2 L951.8,258.7 L952.2,202.6 L952.6,141.8 L953.0,175.0 L953.4,173.4 L953.8,241.3 L954.2,229.0 L954.6,168.8 L955.0,215.3 L955.4,195.5 L955.8,119.4 L956.2,166.8 L956.6,153.9 L957.0,137.4 L957.4,212.5 L957.8,180.7 L958.2,165.9 L958.6,185.7 L959.0,146.1 L959.4,204.5 L959.8,173.7 L960.2,176.5 L960.6,147.0 L961.0,131.0 L961.4,185.5 L961.8,141.4 L962.2,207.2 L962.6,244.8 L963.0,191.6 L963.4,186.9 L963.8,189.5 L964.2,206.8 L964.6,167.4 L965.0,140.4 L965.4,176.1 L965.8,171.1 L966.2,196.1 L966.6,163.4 L967.0,181.4 L967.4,177.6 L967.8,188.0 L968.2,115.6 L968.6,219.0 L969.0,168.6 L969.4,158.8 L969.8,231.1 L970.2,152.7 L970.6,231.9 L971.0,292.5 L971.4,219.2 L971.8,235.0 L972.2,239.0 L972.6,174.1 L973.0,169.2 L973.4,183.3 L973.8,210.7 L974.2,168.6 L974.6,195.1 L975.0,264.9 L975.4,194.7 L975.8,233.9 L976.2,220.4 L976.6,233.6 L977.0,181.2 L977.4,183.9 L977.8,118.9 L978.2,150.1 L978.6,177.8 L979.0,252.1 L979.4,174.5 L979.8,192.3 L980.2,156.3 L980.6,170.3 L981.0,187.8 L981.4,232.6 L981.8,196.4 L982.2,256.3 L982.6,206.4 L983.0,174.2 L983.4,176.9 L983.8,184.6 L984.2,209.0 L984.6,150.2 L985.0,194.5 L985.4,167.9 L985.8,227.5 L986.2,249.1 L986.6,209.3 L987.0,207.5 L987.4,155.8 L987.8,180.5 L988.2,234.0 L988.6,194.4 L989.0,184.3 L989.4,262.1 L989.8,190.4 L990.2,214.6 L990.6,215.0 L991.0,160.9 L991.4,173.0 L991.8,208.4 L992.2,177.8 L992.6,239.2 L993.0,213.2 L993.4,187.3 L993.8,205.9 L994.2,194.4 L994.6,199.7 L995.0,159.0 L995.4,171.2 L995.8,180.1 L996.2,206.7 L996.6,124.6 L997.0,170.7 L997.4,214.3 L997.8,199.6 L998.2,165.3 L998.6,153.9 L999.0,174.4 L999.4,282.3 L999.8,341.8 L1000.2,157.3 L1000.6,219.7 L1001.0,149.7 L1001.4,146.5 L1001.8,145.9 L1002.2,211.6 L1002.6,156.7 L1003.0,252.0 L1003.4,230.5 L1003.8,186.1 L1004.2,235.3 L1004.6,121.2 L1005.0,221.5 L1005.4,188.0 L1005.8,159.1 L1006.2,268.5 L1006.6,189.7 L1007.0,237.7 L1007.4,232.6 L1007.8,177.1 L1008.2,219.1 L1008.6,194.1 L1009.0,189.9 L1009.4,206.5 L1009.8,197.4 L1010.2,168.4 L1010.6,184.8 L1011.0,184.7 L1011.4,137.5 L1011.8,213.0 L1012.2,193.7 L1012.6,197.4 L1013.0,225.3 L1013.4,183.8 L1013.8,176.2 L1014.2,184.8 L1014.6,199.3 L1015.0,146.5 L1015.4,266.1 L1015.8,203.2 L1016.2,226.3 L1016.6,196.3 L1017.0,237.0 L1017.4,247.9 L1017.8,166.7 L1018.2,178.0 L1018.6,133.8 L1019.0,230.7 L1019.4,172.9 L1019.8,200.4 L1020.2,210.6 L1020.6,233.7 L1021.0,158.4 L1021.4,168.2 L1021.8,227.0 L1022.2,177.6 L1022.6,198.6 L1023.0,244.9 L1023.4,246.0 L1023.8,195.3 L1024.2,219.2 L1024.6,229.5 L1025.0,159.9 L1025.4,157.4 L1025.8,252.1 L1026.2,189.5 L1026.6,261.7 L1027.0,208.5 L1027.4,211.6 L1027.8,166.4 L1028.2,132.1 L1028.6,164.8 L1029.0,199.3 L1029.4,222.4 L1029.8,164.6 L1030.2,211.0 L1030.6,194.0 L1031.0,152.5 L1031.4,177.3 L1031.8,222.8 L1032.2,146.6 L1032.6,181.7 L1033.0,251.6 L1033.4,223.7 L1033.8,236.9 L1034.2,267.9 L1034.6,186.4 L1035.0,230.1 L1035.4,152.1 L1035.8,191.1 L1036.2,209.3 L1036.6,179.0 L1037.0,208.6 L1037.4,224.7 L1037.8,237.1 L1038.2,261.7 L1038.6,225.1 L1039.0,223.0 L1039.4,206.0 L1039.8,172.2 L1040.2,254.6 L1040.6,229.7 L1041.0,249.8 L1041.4,237.3 L1041.8,239.3 L1042.2,198.4 L1042.6,198.6 L1043.0,219.1 L1043.4,243.3 L1043.8,178.3 L1044.2,152.4 L1044.6,162.6 L1045.0,232.8 L1045.4,269.6 L1045.8,150.0 L1046.2,186.8 L1046.6,240.0 L1047.0,161.7 L1047.4,168.5 L1047.8,219.6 L1048.2,156.6 L1048.6,211.0 L1049.0,233.1 L1049.4,194.5 L1049.8,183.5 L1050.2,233.8 L1050.6,103.9 L1051.0,255.4 L1051.4,249.8 L1051.8,183.5 L1052.2,113.6 L1052.6,204.7 L1053.0,157.4 L1053.4,117.4 L1053.8,171.1 L1054.2,206.5 L1054.6,174.9 L1055.0,194.6 L1055.4,154.2 L1055.8,202.7 L1056.2,221.3 L1056.6,167.6 L1057.0,256.0 L1057.4,219.9 L1057.8,188.4 L1058.2,203.3 L1058.6,177.4 L1059.0,147.7 L1059.4,175.3 L1059.8,168.7 L1060.2,167.8 L1060.6,215.3 L1061.0,275.6 L1061.4,182.5 L1061.8,155.7 L1062.2,227.6 L1062.6,148.8" stroke="#4f9058" stroke-opacity="0.05" stroke-width="1"/>
<path d="M581.0,44.4 L581.4,118.4 L581.8,23.5 L582.2,111.7 L582.6,95.2 L583.0,101.9 L583.4,80.5 L583.8,56.1 L584.2,107.3 L584.6,146.1 L585.0,126.8 L585.4,82.2 L585.8,24.5 L586.2,107.5 L586.6,88.5 L587.0,171.6 L587.4,153.5 L587.8,101.4 L588.2,86.1 L588.6,94.3 L589.0,96.7 L589.4,127.3 L589.8,56.6 L590.2,104.0 L590.6,149.1 L591.0,82.0 L591.4,104.7 L591.8,140.2 L592.2,119.7 L592.6,207.4 L593.0,129.1 L593.4,162.2 L593.8,125.5 L594.2,156.1 L594.6,138.7 L595.0,82.1 L595.4,191.0 L595.8,63.5 L596.2,144.5 L596.6,67.5 L597.0,140.4 L597.4,179.4 L597.8,157.7 L598.2,173.4 L598.6,174.7 L599.0,173.4 L599.4,180.3 L599.8,194.6 L600.2,189.9 L600.6,152.5 L601.0,153.9 L601.4,232.5 L601.8,164.2 L602.2,118.1 L602.6,154.2 L603.0,171.8 L603.4,118.4 L603.8,116.8 L604.2,172.3 L604.6,169.2 L605.0,195.0 L605.4,167.2 L605.8,157.5 L606.2,167.5 L606.6,217.7 L607.0,172.9 L607.4,145.6 L607.8,177.8 L608.2,205.2 L608.6,227.8 L609.0,175.8 L609.4,183.6 L609.8,173.3 L610.2,173.7 L610.6,135.2 L611.0,218.4 L611.4,192.8 L611.8,241.7 L612.2,204.8 L612.6,171.1 L613.0,159.0 L613.4,200.3 L613.8,129.0 L614.2,163.9 L614.6,246.9 L615.0,149.0 L615.4,175.0 L615.8,175.1 L616.2,206.1 L616.6,131.7 L617.0,140.6 L617.4,158.5 L617.8,102.4 L618.2,155.0 L618.6,180.4 L619.0,218.2 L619.4,140.3 L619.8,56.6 L620.2,110.9 L620.6,208.9 L621.0,227.3 L621.4,170.9 L621.8,190.7 L622.2,222.8 L622.6,190.4 L623.0,116.4 L623.4,241.6 L623.8,133.1 L624.2,198.9 L624.6,164.9 L625.0,149.9 L625.4,197.5 L625.8,154.0 L626.2,117.0 L626.6,95.9 L627.0,147.5 L627.4,118.3 L627.8,154.1 L628.2,169.6 L628.6,268.2 L629.0,125.3 L629.4,144.2 L629.8,179.9 L630.2,178.1 L630.6,148.5 L631.0,191.8 L631.4,238.1 L631.8,194.8 L632.2,95.5 L632.6,194.7 L633.0,140.2 L633.4,92.0 L633.8,176.6 L634.2,200.4 L634.6,177.6 L635.0,161.0 L635.4,88.0 L635.8,194.5 L636.2,217.1 L636.6,194.1 L637.0,183.3 L637.4,139.5 L637.8,144.4 L638.2,221.4 L638.6,126.6 L639.0,181.5 L639.4,139.0 L639.8,152.1 L640.2,199.1 L640.6,157.6 L641.0,199.1 L641.4,215.9 L641.8,216.6 L642.2,177.3 L642.6,216.2 L643.0,120.2 L643.4,185.8 L643.8,125.1 L644.2,233.0 L644.6,181.6 L645.0,177.6 L645.4,182.2 L645.8,161.3 L646.2,173.4 L646.6,142.2 L647.0,235.4 L647.4,237.7 L647.8,158.9 L648.2,200.6 L648.6,166.8 L649.0,231.6 L649.4,245.8 L649.8,207.1 L650.2,249.2 L650.6,179.0 L651.0,182.8 L651.4,145.5 L651.8,202.9 L652.2,159.5 L652.6,165.1 L653.0,169.3 L653.4,123.7 L653.8,239.2 L654.2,152.1 L654.6,190.3 L655.0,138.4 L655.4,225.6 L655.8,213.6 L656.2,194.5 L656.6,193.9 L657.0,229.4 L657.4,166.0 L657.8,145.9 L658.2,204.2 L658.6,162.6 L659.0,190.2 L659.4,153.7 L659.8,136.4 L660.2,170.0 L660.6,193.8 L661.0,116.7 L661.4,134.3 L661.8,121.2 L662.2,138.2 L662.6,214.1 L663.0,158.4 L663.4,241.4 L663.8,196.9 L664.2,168.1 L664.6,146.2 L665.0,253.1 L665.4,210.6 L665.8,190.8 L666.2,179.9 L666.6,127.7 L667.0,151.4 L667.4,169.3 L667.8,194.6 L668.2,108.6 L668.6,174.2 L669.0,178.9 L669.4,145.7 L669.8,177.7 L670.2,206.6 L670.6,166.6 L671.0,168.4 L671.4,173.7 L671.8,217.0 L672.2,188.7 L672.6,123.3 L673.0,159.1 L673.4,217.7 L673.8,203.6 L674.2,185.8 L674.6,210.0 L675.0,96.1 L675.4,123.9 L675.8,150.5 L676.2,246.4 L676.6,255.0 L677.0,149.7 L677.4,199.5 L677.8,194.7 L678.2,191.4 L678.6,191.3 L679.0,168.5 L679.4,197.5 L679.8,131.3 L680.2,213.4 L680.6,246.3 L681.0,206.2 L681.4,243.1 L681.8,235.6 L682.2,168.2 L682.6,219.6 L683.0,270.6 L683.4,144.4 L683.8,153.9 L684.2,200.4 L684.6,247.9 L685.0,191.6 L685.4,186.0 L685.8,126.5 L686.2,219.4 L686.6,271.4 L687.0,194.5 L687.4,148.0 L687.8,221.1 L688.2,214.4 L688.6,155.7 L689.0,137.8 L689.4,151.7 L689.8,142.5 L690.2,170.7 L690.6,216.3 L691.0,135.4 L691.4,212.0 L691.8,265.4 L692.2,186.9 L692.6,215.9 L693.0,155.7 L693.4,133.7 L693.8,109.7 L694.2,168.4 L694.6,151.3 L695.0,124.0 L695.4,200.8 L695.8,178.4 L696.2,150.9 L696.6,184.1 L697.0,201.5 L697.4,148.4 L697.8,150.1 L698.2,234.5 L698.6,182.4 L699.0,159.6 L699.4,168.4 L699.8,137.4 L700.2,229.8 L700.6,174.8 L701.0,172.3 L701.4,194.8 L701.8,178.4 L702.2,205.2 L702.6,213.6 L703.0,225.4 L703.4,173.9 L703.8,150.1 L704.2,176.9 L704.6,177.8 L705.0,175.4 L705.4,179.6 L705.8,170.6 L706.2,235.4 L706.6,107.6 L707.0,206.3 L707.4,206.3 L707.8,154.0 L708.2,239.5 L708.6,85.7 L709.0,160.6 L709.4,196.8 L709.8,138.0 L710.2,160.6 L710.6,279.4 L711.0,196.1 L711.4,184.1 L711.8,177.1 L712.2,183.4 L712.6,254.1 L713.0,199.0 L713.4,207.4 L713.8,169.6 L714.2,132.2 L714.6,179.9 L715.0,146.3 L715.4,175.4 L715.8,157.3 L716.2,137.2 L716.6,147.4 L717.0,182.4 L717.4,118.1 L717.8,176.6 L718.2,208.9 L718.6,219.4 L719.0,223.5 L719.4,168.2 L719.8,225.9 L720.2,275.3 L720.6,150.5 L721.0,182.9 L721.4,163.2 L721.8,136.4 L722.2,208.9 L722.6,186.7 L723.0,192.1 L723.4,149.6 L723.8,222.5 L724.2,210.1 L724.6,185.7 L725.0,178.4 L725.4,138.0 L725.8,158.6 L726.2,179.7 L726.6,187.9 L727.0,194.6 L727.4,186.9 L727.8,262.0 L728.2,176.3 L728.6,225.9 L729.0,135.2 L729.4,122.1 L729.8,205.0 L730.2,217.9 L730.6,218.0 L731.0,186.0 L731.4,226.1 L731.8,162.5 L732.2,194.9 L732.6,198.1 L733.0,187.7 L733.4,213.6 L733.8,131.0 L734.2,122.2 L734.6,207.2 L735.0,143.4 L735.4,189.1 L735.8,171.2 L736.2,177.2 L736.6,221.5 L737.0,224.1 L737.4,184.3 L737.8,173.7 L738.2,232.7 L738.6,190.3 L739.0,193.6 L739.4,192.4 L739.8,173.9 L740.2,176.1 L740.6,193.1 L741.0,147.8 L741.4,199.7 L741.8,156.7 L742.2,212.4 L742.6,220.0 L743.0,141.0 L743.4,151.2 L743.8,159.5 L744.2,183.1 L744.6,275.9 L745.0,239.1 L745.4,213.3 L745.8,170.1 L746.2,168.6 L746.6,249.4 L747.0,197.7 L747.4,191.2 L747.8,174.0 L748.2,198.6 L748.6,242.5 L749.0,178.1 L749.4,228.0 L749.8,136.9 L750.2,241.2 L750.6,195.6 L751.0,149.5 L751.4,136.8 L751.8,210.6 L752.2,112.0 L752.6,180.2 L753.0,212.2 L753.4,132.4 L753.8,266.8 L754.2,238.3 L754.6,155.7 L755.0,196.6 L755.4,189.5 L755.8,167.8 L756.2,222.9 L756.6,197.1 L757.0,142.9 L757.4,176.3 L757.8,257.6 L758.2,281.7 L758.6,258.3 L759.0,233.5 L759.4,195.0 L759.8,229.9 L760.2,182.6 L760.6,216.9 L761.0,152.9 L761.4,176.2 L761.8,244.3 L762.2,198.2 L762.6,192.2 L763.0,205.3 L763.4,292.5 L763.8,221.1 L764.2,159.2 L764.6,248.9 L765.0,175.7 L765.4,207.3 L765.8,168.3 L766.2,180.5 L766.6,197.0 L767.0,147.3 L767.4,191.3 L767.8,156.0 L768.2,215.9 L768.6,187.2 L769.0,173.7 L769.4,129.9 L769.8,153.1 L770.2,249.5 L770.6,144.5 L771.0,237.0 L771.4,207.6 L771.8,189.5 L772.2,210.2 L772.6,201.2 L773.0,163.9 L773.4,255.7 L773.8,178.2 L774.2,142.0 L774.6,126.3 L775.0,365.3 L775.4,173.2 L775.8,189.1 L776.2,192.6 L776.6,203.9 L777.0,178.4 L777.4,225.6 L777.8,210.5 L778.2,265.3 L778.6,182.0 L779.0,181.2 L779.4,214.0 L779.8,161.0 L780.2,249.4 L780.6,275.1 L781.0,241.5 L781.4,203.5 L781.8,152.9 L782.2,190.3 L782.6,198.8 L783.0,247.4 L783.4,173.9 L783.8,167.7 L784.2,214.8 L784.6,221.5 L785.0,187.9 L785.4,139.8 L785.8,150.3 L786.2,214.3 L786.6,219.7 L787.0,156.2 L787.4,186.2 L787.8,192.2 L788.2,217.5 L788.6,210.8 L789.0,169.2 L789.4,279.9 L789.8,230.9 L790.2,200.4 L790.6,241.0 L791.0,211.9 L791.4,248.4 L791.8,249.0 L792.2,234.8 L792.6,243.3 L793.0,149.0 L793.4,232.2 L793.8,209.0 L794.2,227.9 L794.6,171.0 L795.0,189.4 L795.4,179.2 L795.8,248.3 L796.2,294.1 L796.6,176.6 L797.0,223.0 L797.4,192.1 L797.8,236.3 L798.2,184.2 L798.6,171.8 L799.0,179.2 L799.4,215.6 L799.8,220.6 L800.2,147.4 L800.6,172.2 L801.0,205.7 L801.4,177.4 L801.8,198.4 L802.2,196.3 L802.6,177.2 L803.0,165.4 L803.4,220.2 L803.8,225.8 L804.2,176.5 L804.6,178.7 L805.0,136.9 L805.4,215.1 L805.8,157.8 L806.2,174.5 L806.6,184.7 L807.0,185.3 L807.4,272.0 L807.8,181.9 L808.2,172.6 L808.6,183.5 L809.0,191.6 L809.4,232.5 L809.8,173.4 L810.2,216.1 L810.6,211.3 L811.0,178.8 L811.4,162.1 L811.8,150.6 L812.2,204.2 L812.6,196.1 L813.0,172.4 L813.4,131.5 L813.8,230.6 L814.2,197.2 L814.6,229.2 L815.0,171.8 L815.4,197.8 L815.8,175.8 L816.2,240.8 L816.6,251.5 L817.0,199.3 L817.4,257.6 L817.8,194.6 L818.2,188.9 L818.6,138.0 L819.0,243.8 L819.4,273.8 L819.8,204.4 L820.2,201.4 L820.6,225.9 L821.0,150.3 L821.4,209.0 L821.8,129.8 L822.2,183.2 L822.6,181.6 L823.0,232.5 L823.4,233.7 L823.8,150.2 L824.2,219.6 L824.6,230.6 L825.0,187.5 L825.4,201.0 L825.8,174.7 L826.2,239.0 L826.6,246.7 L827.0,190.6 L827.4,189.5 L827.8,176.0 L828.2,130.6 L828.6,216.6 L829.0,259.2 L829.4,123.9 L829.8,172.8 L830.2,167.5 L830.6,158.7 L831.0,229.9 L831.4,180.4 L831.8,179.7 L832.2,149.1 L832.6,210.3 L833.0,163.5 L833.4,257.6 L833.8,234.3 L834.2,171.7 L834.6,254.6 L835.0,214.1 L835.4,212.6 L835.8,185.2 L836.2,185.6 L836.6,175.4 L837.0,152.2 L837.4,187.4 L837.8,193.2 L838.2,253.2 L838.6,184.4 L839.0,251.0 L839.4,161.3 L839.8,170.1 L840.2,150.8 L840.6,137.8 L841.0,261.5 L841.4,188.0 L841.8,175.1 L842.2,224.5 L842.6,242.8 L843.0,237.3 L843.4,216.7 L843.8,253.0 L844.2,206.1 L844.6,217.8 L845.0,193.0 L845.4,200.6 L845.8,259.5 L846.2,127.7 L846.6,185.9 L847.0,227.8 L847.4,251.5 L847.8,199.0 L848.2,224.1 L848.6,230.1 L849.0,204.1 L849.4,209.4 L849.8,273.0 L850.2,175.4 L850.6,228.3 L851.0,271.0 L851.4,242.1 L851.8,170.4 L852.2,186.8 L852.6,160.8 L853.0,258.7 L853.4,186.7 L853.8,246.0 L854.2,229.8 L854.6,263.3 L855.0,241.1 L855.4,255.8 L855.8,248.6 L856.2,264.6 L856.6,201.2 L857.0,238.8 L857.4,365.6 L857.8,244.8 L858.2,255.0 L858.6,189.0 L859.0,235.5 L859.4,158.4 L859.8,246.2 L860.2,206.9 L860.6,227.1 L861.0,246.1 L861.4,224.7 L861.8,184.4 L862.2,259.7 L862.6,157.7 L863.0,206.5 L863.4,230.7 L863.8,215.1 L864.2,255.1 L864.6,225.9 L865.0,137.4 L865.4,227.8 L865.8,237.9 L866.2,233.7 L866.6,198.0 L867.0,222.8 L867.4,218.6 L867.8,288.7 L868.2,197.5 L868.6,231.7 L869.0,301.8 L869.4,234.4 L869.8,239.2 L870.2,205.0 L870.6,272.6 L871.0,265.8 L871.4,216.7 L871.8,198.4 L872.2,193.7 L872.6,174.9 L873.0,135.9 L873.4,208.5 L873.8,178.0 L874.2,222.5 L874.6,199.4 L875.0,205.9 L875.4,260.3 L875.8,290.5 L876.2,163.7 L876.6,251.7 L877.0,167.5 L877.4,189.6 L877.8,191.0 L878.2,201.2 L878.6,257.7 L879.0,205.9 L879.4,164.6 L879.8,223.3 L880.2,280.8 L880.6,249.4 L881.0,203.6 L881.4,216.6 L881.8,207.1 L882.2,269.0 L882.6,299.9 L883.0,234.0 L883.4,192.6 L883.8,201.4 L884.2,213.9 L884.6,259.0 L885.0,234.2 L885.4,344.2 L885.8,230.2 L886.2,221.9 L886.6,318.9 L887.0,169.5 L887.4,257.4 L887.8,141.0 L888.2,238.8 L888.6,198.6 L889.0,246.2 L889.4,213.4 L889.8,213.4 L890.2,261.8 L890.6,221.3 L891.0,177.1 L891.4,173.8 L891.8,230.1 L892.2,188.5 L892.6,201.9 L893.0,207.8 L893.4,219.0 L893.8,179.3 L894.2,266.9 L894.6,261.1 L895.0,195.4 L895.4,239.6 L895.8,248.0 L896.2,266.0 L896.6,224.3 L897.0,186.8 L897.4,209.8 L897.8,237.7 L898.2,196.2 L898.6,212.7 L899.0,287.4 L899.4,183.2 L899.8,238.3 L900.2,168.1 L900.6,223.7 L901.0,210.7 L901.4,211.8 L901.8,149.7 L902.2,236.0 L902.6,188.4 L903.0,234.8 L903.4,231.1 L903.8,240.5 L904.2,235.0 L904.6,249.2 L905.0,243.6 L905.4,235.8 L905.8,239.5 L906.2,261.0 L906.6,191.0 L907.0,184.1 L907.4,285.6 L907.8,238.6 L908.2,287.5 L908.6,192.4 L909.0,210.0 L909.4,200.0 L909.8,204.5 L910.2,201.8 L910.6,191.3 L911.0,210.7 L911.4,235.7 L911.8,296.3 L912.2,197.4 L912.6,244.4 L913.0,239.3 L913.4,199.0 L913.8,221.8 L914.2,221.3 L914.6,257.0 L915.0,219.7 L915.4,299.8 L915.8,235.1 L916.2,244.4 L916.6,278.1 L917.0,267.8 L917.4,220.9 L917.8,219.5 L918.2,216.7 L918.6,231.3 L919.0,201.0 L919.4,139.1 L919.8,243.9 L920.2,272.9 L920.6,274.0 L921.0,191.3 L921.4,262.7 L921.8,256.6 L922.2,190.2 L922.6,230.9 L923.0,266.9 L923.4,183.0 L923.8,216.3 L924.2,245.0 L924.6,290.2 L925.0,208.2 L925.4,201.7 L925.8,279.8 L926.2,246.4 L926.6,230.4 L927.0,289.7 L927.4,235.8 L927.8,241.3 L928.2,201.5 L928.6,206.4 L929.0,155.2 L929.4,233.8 L929.8,224.1 L930.2,268.8 L930.6,230.0 L931.0,192.5 L931.4,295.5 L931.8,173.2 L932.2,215.7 L932.6,244.7 L933.0,238.6 L933.4,235.1 L933.8,230.4 L934.2,245.8 L934.6,326.2 L935.0,264.6 L935.4,177.5 L935.8,267.7 L936.2,244.9 L936.6,228.6 L937.0,225.0 L937.4,202.5 L937.8,308.4 L938.2,192.0 L938.6,216.1 L939.0,238.7 L939.4,237.4 L939.8,216.0 L940.2,209.3 L940.6,224.7 L941.0,201.5 L941.4,210.0 L941.8,215.5 L942.2,202.4 L942.6,156.0 L943.0,235.3 L943.4,240.0 L943.8,225.1 L944.2,229.9 L944.6,210.7 L945.0,211.7 L945.4,208.9 L945.8,216.4 L946.2,151.8 L946.6,226.1 L947.0,233.5 L947.4,260.4 L947.8,202.1 L948.2,161.6 L948.6,187.5 L949.0,211.4 L949.4,227.5 L949.8,257.6 L950.2,214.1 L950.6,211.7 L951.0,251.8 L951.4,256.9 L951.8,320.3 L952.2,227.8 L952.6,178.8 L953.0,238.0 L953.4,225.6 L953.8,277.8 L954.2,263.6 L954.6,203.3 L955.0,284.9 L955.4,230.5 L955.8,157.4 L956.2,179.5 L956.6,222.9 L957.0,188.4 L957.4,276.7 L957.8,234.5 L958.2,193.6 L958.6,244.1 L959.0,195.3 L959.4,256.9 L959.8,253.2 L960.2,252.7 L960.6,190.5 L961.0,180.8 L961.4,220.5 L961.8,180.3 L962.2,253.7 L962.6,291.5 L963.0,234.1 L963.4,248.7 L963.8,250.8 L964.2,258.1 L964.6,234.8 L965.0,198.6 L965.4,212.1 L965.8,215.8 L966.2,260.9 L966.6,211.1 L967.0,247.2 L967.4,218.1 L967.8,272.3 L968.2,179.7 L968.6,284.9 L969.0,214.1 L969.4,214.3 L969.8,267.8 L970.2,190.3 L970.6,298.1 L971.0,328.5 L971.4,282.2 L971.8,258.2 L972.2,254.1 L972.6,202.9 L973.0,199.3 L973.4,234.1 L973.8,254.4 L974.2,199.5 L974.6,228.5 L975.0,298.5 L975.4,229.3 L975.8,288.2 L976.2,270.5 L976.6,292.0 L977.0,234.2 L977.4,238.3 L977.8,154.0 L978.2,210.7 L978.6,224.9 L979.0,300.7 L979.4,257.1 L979.8,263.3 L980.2,199.2 L980.6,244.4 L981.0,236.0 L981.4,297.9 L981.8,251.2 L982.2,294.8 L982.6,234.3 L983.0,235.3 L983.4,237.7 L983.8,229.7 L984.2,247.7 L984.6,184.8 L985.0,250.5 L985.4,209.5 L985.8,266.9 L986.2,320.7 L986.6,259.5 L987.0,251.2 L987.4,230.6 L987.8,214.9 L988.2,276.4 L988.6,239.5 L989.0,228.1 L989.4,333.7 L989.8,270.0 L990.2,260.2 L990.6,268.4 L991.0,240.1 L991.4,225.0 L991.8,280.3 L992.2,219.8 L992.6,302.9 L993.0,256.4 L993.4,216.3 L993.8,266.9 L994.2,234.6 L994.6,259.8 L995.0,232.9 L995.4,258.5 L995.8,220.1 L996.2,243.1 L996.6,182.8 L997.0,226.8 L997.4,272.4 L997.8,241.4 L998.2,244.0 L998.6,232.9 L999.0,204.2 L999.4,343.1 L999.8,397.7 L1000.2,235.5 L1000.6,252.8 L1001.0,201.8 L1001.4,203.6 L1001.8,203.8 L1002.2,273.8 L1002.6,210.5 L1003.0,295.5 L1003.4,268.6 L1003.8,214.4 L1004.2,271.0 L1004.6,168.7 L1005.0,278.7 L1005.4,237.4 L1005.8,239.7 L1006.2,322.2 L1006.6,264.3 L1007.0,254.1 L1007.4,284.5 L1007.8,234.2 L1008.2,258.3 L1008.6,248.4 L1009.0,252.8 L1009.4,260.9 L1009.8,264.0 L1010.2,230.6 L1010.6,259.9 L1011.0,254.0 L1011.4,217.5 L1011.8,246.7 L1012.2,241.9 L1012.6,241.4 L1013.0,275.4 L1013.4,239.7 L1013.8,225.1 L1014.2,224.1 L1014.6,249.1 L1015.0,184.0 L1015.4,297.3 L1015.8,243.7 L1016.2,263.6 L1016.6,232.4 L1017.0,291.8 L1017.4,290.1 L1017.8,210.5 L1018.2,200.1 L1018.6,191.6 L1019.0,266.2 L1019.4,244.4 L1019.8,237.7 L1020.2,234.2 L1020.6,271.5 L1021.0,191.6 L1021.4,212.2 L1021.8,261.5 L1022.2,241.0 L1022.6,243.7 L1023.0,314.4 L1023.4,287.0 L1023.8,250.7 L1024.2,262.6 L1024.6,275.1 L1025.0,210.4 L1025.4,192.7 L1025.8,307.1 L1026.2,247.9 L1026.6,318.2 L1027.0,223.4 L1027.4,238.0 L1027.8,226.5 L1028.2,163.1 L1028.6,207.2 L1029.0,242.6 L1029.4,274.9 L1029.8,216.3 L1030.2,264.5 L1030.6,231.1 L1031.0,219.5 L1031.4,205.5 L1031.8,254.8 L1032.2,194.9 L1032.6,222.1 L1033.0,284.5 L1033.4,272.0 L1033.8,259.4 L1034.2,305.2 L1034.6,234.8 L1035.0,262.5 L1035.4,182.1 L1035.8,215.8 L1036.2,260.4 L1036.6,211.8 L1037.0,252.2 L1037.4,240.0 L1037.8,272.6 L1038.2,313.4 L1038.6,283.2 L1039.0,274.1 L1039.4,230.4 L1039.8,207.7 L1040.2,288.7 L1040.6,298.0 L1041.0,279.2 L1041.4,253.9 L1041.8,289.4 L1042.2,246.7 L1042.6,245.3 L1043.0,274.8 L1043.4,271.3 L1043.8,214.9 L1044.2,201.0 L1044.6,190.3 L1045.0,264.8 L1045.4,299.1 L1045.8,197.8 L1046.2,220.3 L1046.6,295.4 L1047.0,222.2 L1047.4,223.6 L1047.8,289.3 L1048.2,203.7 L1048.6,244.0 L1049.0,269.5 L1049.4,184.5 L1049.8,235.5 L1050.2,272.3 L1050.6,186.5 L1051.0,297.8 L1051.4,292.5 L1051.8,230.7 L1052.2,156.7 L1052.6,247.7 L1053.0,240.2 L1053.4,163.3 L1053.8,233.6 L1054.2,278.0 L1054.6,216.6 L1055.0,238.9 L1055.4,207.6 L1055.8,273.5 L1056.2,282.2 L1056.6,225.6 L1057.0,282.9 L1057.4,261.9 L1057.8,253.2 L1058.2,246.2 L1058.6,225.0 L1059.0,196.0 L1059.4,233.7 L1059.8,249.9 L1060.2,226.6 L1060.6,273.3 L1061.0,353.3 L1061.4,213.0 L1061.8,231.0 L1062.2,293.4 L1062.6,203.6" stroke="#c95451" stroke-opacity="0.05" stroke-width="1"/>
<path d="M581.0,99.1 L581.4,137.8 L581.8,84.3 L582.2,150.1 L582.6,178.1 L583.0,160.1 L583.4,165.3 L583.8,145.0 L584.2,163.6 L584.6,181.7 L585.0,177.5 L585.4,140.1 L585.8,118.0 L586.2,185.3 L586.6,139.2 L587.0,205.8 L587.4,166.6 L587.8,110.1 L588.2,119.9 L588.6,105.6 L589.0,119.8 L589.4,136.8 L589.8,99.2 L590.2,125.9 L590.6,165.1 L591.0,83.4 L591.4,143.4 L591.8,140.6 L592.2,132.4 L592.6,204.0 L593.0,154.2 L593.4,173.9 L593.8,158.2 L594.2,165.6 L594.6,111.1 L595.0,101.2 L595.4,185.6 L595.8,58.9 L596.2,134.5 L596.6,77.6 L597.0,139.0 L597.4,169.5 L597.8,149.5 L598.2,173.9 L598.6,197.8 L599.0,190.2 L599.4,198.2 L599.8,208.2 L600.2,203.5 L600.6,153.6 L601.0,157.3 L601.4,216.1 L601.8,148.2 L602.2,135.1 L602.6,116.1 L603.0,180.2 L603.4,124.4 L603.8,87.5 L604.2,146.6 L604.6,189.1 L605.0,182.3 L605.4,152.3 L605.8,160.4 L606.2,160.5 L606.6,192.2 L607.0,148.3 L607.4,132.9 L607.8,162.7 L608.2,198.9 L608.6,242.1 L609.0,176.8 L609.4,203.3 L609.8,163.7 L610.2,173.0 L610.6,132.1 L611.0,201.6 L611.4,180.0 L611.8,217.6 L612.2,183.5 L612.6,171.4 L613.0,150.6 L613.4,200.9 L613.8,95.8 L614.2,111.4 L614.6,241.9 L615.0,135.7 L615.4,128.5 L615.8,155.6 L616.2,177.2 L616.6,125.9 L617.0,141.0 L617.4,143.0 L617.8,90.6 L618.2,148.4 L618.6,152.7 L619.0,207.8 L619.4,120.9 L619.8,49.2 L620.2,99.4 L620.6,170.2 L621.0,226.8 L621.4,149.4 L621.8,172.4 L622.2,197.4 L622.6,174.8 L623.0,137.1 L623.4,247.6 L623.8,117.7 L624.2,187.1 L624.6,124.3 L625.0,131.8 L625.4,211.6 L625.8,122.0 L626.2,92.4 L626.6,74.3 L627.0,129.4 L627.4,72.6 L627.8,136.0 L628.2,136.0 L628.6,231.5 L629.0,88.5 L629.4,113.7 L629.8,157.6 L630.2,154.2 L630.6,101.8 L631.0,141.8 L631.4,205.9 L631.8,156.0 L632.2,75.3 L632.6,186.6 L633.0,110.1 L633.4,72.5 L633.8,153.9 L634.2,183.5 L634.6,157.8 L635.0,137.8 L635.4,88.3 L635.8,192.7 L636.2,192.0 L636.6,166.2 L637.0,170.7 L637.4,113.6 L637.8,142.2 L638.2,206.5 L638.6,98.9 L639.0,155.5 L639.4,124.6 L639.8,153.3 L640.2,209.1 L640.6,144.3 L641.0,165.3 L641.4,224.7 L641.8,188.1 L642.2,156.7 L642.6,180.7 L643.0,88.8 L643.4,153.9 L643.8,126.0 L644.2,214.1 L644.6,148.0 L645.0,144.5 L645.4,145.7 L645.8,137.8 L646.2,139.3 L646.6,93.6 L647.0,204.9 L647.4,226.5 L647.8,115.6 L648.2,187.6 L648.6,157.2 L649.0,202.7 L649.4,221.0 L649.8,174.3 L650.2,208.8 L650.6,133.5 L651.0,145.9 L651.4,124.1 L651.8,180.8 L652.2,127.1 L652.6,122.2 L653.0,127.0 L653.4,72.0 L653.8,178.9 L654.2,128.3 L654.6,152.7 L655.0,114.9 L655.4,198.8 L655.8,175.9 L656.2,177.4 L656.6,155.9 L657.0,191.6 L657.4,120.9 L657.8,98.8 L658.2,171.4 L658.6,111.3 L659.0,155.1 L659.4,100.5 L659.8,103.9 L660.2,143.8 L660.6,149.4 L661.0,85.6 L661.4,130.7 L661.8,92.8 L662.2,98.7 L662.6,170.2 L663.0,105.6 L663.4,212.8 L663.8,163.3 L664.2,133.8 L664.6,137.3 L665.0,239.0 L665.4,173.1 L665.8,153.0 L666.2,159.0 L666.6,117.6 L667.0,116.4 L667.4,134.8 L667.8,164.0 L668.2,78.0 L668.6,180.3 L669.0,135.8 L669.4,115.3 L669.8,151.5 L670.2,168.0 L670.6,133.4 L671.0,172.3 L671.4,138.6 L671.8,204.9 L672.2,179.5 L672.6,85.0 L673.0,110.4 L673.4,181.7 L673.8,137.7 L674.2,139.8 L674.6,177.3 L675.0,54.3 L675.4,48.7 L675.8,116.0 L676.2,207.1 L676.6,242.3 L677.0,120.4 L677.4,173.9 L677.8,153.3 L678.2,147.3 L678.6,140.8 L679.0,115.3 L679.4,171.5 L679.8,82.0 L680.2,171.0 L680.6,214.1 L681.0,168.7 L681.4,183.0 L681.8,182.1 L682.2,117.6 L682.6,155.5 L683.0,226.8 L683.4,113.6 L683.8,119.6 L684.2,149.3 L684.6,209.4 L685.0,135.0 L685.4,144.2 L685.8,82.6 L686.2,200.5 L686.6,210.1 L687.0,129.1 L687.4,130.7 L687.8,191.0 L688.2,180.2 L688.6,121.7 L689.0,78.2 L689.4,112.0 L689.8,93.8 L690.2,144.6 L690.6,169.0 L691.0,135.1 L691.4,184.5 L691.8,233.8 L692.2,139.7 L692.6,165.1 L693.0,127.4 L693.4,116.1 L693.8,87.9 L694.2,108.6 L694.6,114.7 L695.0,122.4 L695.4,163.9 L695.8,139.2 L696.2,130.3 L696.6,183.2 L697.0,137.9 L697.4,131.1 L697.8,93.5 L698.2,218.3 L698.6,158.7 L699.0,114.3 L699.4,138.0 L699.8,105.8 L700.2,176.9 L700.6,131.8 L701.0,121.1 L701.4,154.3 L701.8,139.2 L702.2,153.2 L702.6,166.1 L703.0,193.3 L703.4,137.8 L703.8,101.7 L704.2,144.1 L704.6,152.2 L705.0,141.0 L705.4,134.6 L705.8,117.6 L706.2,216.4 L706.6,76.2 L707.0,153.5 L707.4,175.3 L707.8,107.8 L708.2,217.8 L708.6,42.0 L709.0,147.2 L709.4,149.5 L709.8,112.5 L710.2,128.1 L710.6,240.2 L711.0,170.4 L711.4,138.2 L711.8,136.2 L712.2,128.6 L712.6,221.4 L713.0,176.2 L713.4,185.1 L713.8,133.8 L714.2,109.5 L714.6,150.1 L715.0,88.1 L715.4,124.3 L715.8,121.6 L716.2,100.8 L716.6,102.4 L717.0,158.1 L717.4,80.3 L717.8,161.3 L718.2,162.2 L718.6,178.9 L719.0,159.8 L719.4,146.9 L719.8,217.6 L720.2,256.4 L720.6,129.0 L721.0,137.0 L721.4,107.2 L721.8,68.7 L722.2,174.5 L722.6,147.6 L723.0,141.8 L723.4,71.9 L723.8,195.5 L724.2,131.3 L724.6,153.9 L725.0,111.2 L725.4,83.1 L725.8,121.0 L726.2,133.7 L726.6,133.9 L727.0,129.3 L727.4,140.4 L727.8,194.3 L728.2,136.0 L728.6,176.5 L729.0,126.3 L729.4,77.5 L729.8,169.8 L730.2,167.5 L730.6,184.2 L731.0,145.2 L731.4,154.8 L731.8,110.0 L732.2,135.8 L732.6,154.2 L733.0,145.8 L733.4,154.9 L733.8,93.7 L734.2,94.0 L734.6,173.1 L735.0,100.9 L735.4,157.6 L735.8,141.4 L736.2,154.2 L736.6,199.0 L737.0,186.9 L737.4,131.8 L737.8,134.1 L738.2,204.9 L738.6,163.7 L739.0,142.6 L739.4,161.7 L739.8,158.1 L740.2,174.8 L740.6,176.6 L741.0,92.0 L741.4,159.6 L741.8,113.2 L742.2,170.5 L742.6,174.5 L743.0,132.0 L743.4,85.3 L743.8,109.4 L744.2,176.5 L744.6,234.7 L745.0,187.5 L745.4,164.3 L745.8,134.9 L746.2,126.6 L746.6,185.1 L747.0,138.4 L747.4,136.2 L747.8,144.8 L748.2,136.2 L748.6,199.9 L749.0,167.1 L749.4,146.8 L749.8,108.3 L750.2,210.7 L750.6,151.8 L751.0,110.3 L751.4,130.4 L751.8,159.9 L752.2,81.0 L752.6,131.1 L753.0,175.9 L753.4,102.1 L753.8,208.8 L754.2,210.2 L754.6,103.4 L755.0,134.2 L755.4,160.7 L755.8,134.5 L756.2,189.8 L756.6,147.7 L757.0,108.2 L757.4,124.2 L757.8,215.9 L758.2,229.5 L758.6,200.4 L759.0,187.1 L759.4,157.1 L759.8,165.0 L760.2,127.0 L760.6,168.7 L761.0,103.7 L761.4,111.6 L761.8,165.6 L762.2,139.9 L762.6,155.3 L763.0,138.2 L763.4,232.8 L763.8,153.9 L764.2,96.5 L764.6,183.2 L765.0,114.5 L765.4,141.1 L765.8,151.3 L766.2,139.5 L766.6,133.4 L767.0,97.5 L767.4,144.2 L767.8,137.1 L768.2,157.0 L768.6,119.0 L769.0,119.4 L769.4,122.6 L769.8,134.5 L770.2,194.2 L770.6,98.8 L771.0,202.3 L771.4,158.8 L771.8,155.3 L772.2,155.5 L772.6,164.8 L773.0,117.9 L773.4,192.5 L773.8,128.1 L774.2,114.3 L774.6,99.7 L775.0,303.7 L775.4,121.6 L775.8,162.3 L776.2,141.3 L776.6,155.4 L777.0,120.9 L777.4,193.0 L777.8,152.4 L778.2,220.8 L778.6,165.3 L779.0,108.6 L779.4,159.8 L779.8,110.6 L780.2,216.0 L780.6,221.3 L781.0,173.1 L781.4,154.3 L781.8,115.8 L782.2,147.1 L782.6,134.3 L783.0,211.8 L783.4,132.5 L783.8,120.5 L784.2,182.7 L784.6,181.1 L785.0,132.8 L785.4,90.2 L785.8,105.3 L786.2,143.0 L786.6,168.9 L787.0,132.7 L787.4,118.4 L787.8,134.5 L788.2,155.0 L788.6,176.9 L789.0,133.9 L789.4,227.1 L789.8,183.6 L790.2,183.2 L790.6,169.1 L791.0,150.0 L791.4,172.8 L791.8,215.2 L792.2,184.3 L792.6,209.4 L793.0,95.1 L793.4,176.5 L793.8,142.2 L794.2,168.5 L794.6,120.4 L795.0,147.3 L795.4,109.5 L795.8,179.0 L796.2,207.2 L796.6,125.0 L797.0,164.5 L797.4,150.4 L797.8,188.4 L798.2,131.2 L798.6,119.4 L799.0,113.4 L799.4,190.6 L799.8,201.4 L800.2,94.8 L800.6,134.5 L801.0,178.0 L801.4,101.0 L801.8,147.1 L802.2,154.3 L802.6,131.6 L803.0,120.3 L803.4,141.5 L803.8,180.6 L804.2,117.6 L804.6,153.2 L805.0,92.1 L805.4,166.1 L805.8,122.4 L806.2,163.2 L806.6,151.1 L807.0,160.6 L807.4,222.7 L807.8,141.9 L808.2,135.8 L808.6,142.8 L809.0,162.0 L809.4,189.5 L809.8,174.6 L810.2,173.0 L810.6,167.5 L811.0,131.9 L811.4,119.6 L811.8,97.3 L812.2,172.8 L812.6,174.6 L813.0,157.0 L813.4,79.5 L813.8,197.3 L814.2,149.1 L814.6,161.5 L815.0,128.8 L815.4,157.9 L815.8,144.0 L816.2,216.2 L816.6,201.4 L817.0,144.8 L817.4,226.6 L817.8,151.6 L818.2,127.3 L818.6,107.3 L819.0,188.6 L819.4,220.9 L819.8,192.2 L820.2,120.5 L820.6,189.3 L821.0,104.8 L821.4,184.2 L821.8,109.1 L822.2,140.4 L822.6,127.3 L823.0,177.9 L823.4,189.8 L823.8,134.8 L824.2,171.6 L824.6,173.4 L825.0,142.0 L825.4,143.2 L825.8,157.0 L826.2,207.5 L826.6,201.6 L827.0,139.3 L827.4,139.4 L827.8,115.2 L828.2,107.6 L828.6,191.3 L829.0,210.2 L829.4,78.3 L829.8,134.7 L830.2,130.8 L830.6,112.6 L831.0,172.7 L831.4,148.8 L831.8,148.7 L832.2,115.8 L832.6,153.2 L833.0,109.1 L833.4,205.0 L833.8,197.8 L834.2,161.7 L834.6,185.6 L835.0,194.5 L835.4,143.0 L835.8,171.6 L836.2,110.9 L836.6,143.3 L837.0,123.0 L837.4,135.8 L837.8,137.7 L838.2,195.3 L838.6,134.6 L839.0,208.1 L839.4,130.6 L839.8,126.5 L840.2,111.5 L840.6,113.5 L841.0,203.1 L841.4,150.2 L841.8,162.8 L842.2,183.8 L842.6,198.5 L843.0,203.1 L843.4,180.9 L843.8,190.5 L844.2,157.8 L844.6,146.3 L845.0,161.5 L845.4,150.9 L845.8,184.4 L846.2,106.7 L846.6,153.5 L847.0,199.4 L847.4,185.2 L847.8,145.0 L848.2,150.9 L848.6,195.4 L849.0,180.1 L849.4,143.2 L849.8,231.2 L850.2,112.4 L850.6,173.1 L851.0,215.0 L851.4,214.8 L851.8,125.8 L852.2,134.5 L852.6,107.7 L853.0,201.3 L853.4,170.9 L853.8,195.1 L854.2,196.6 L854.6,242.8 L855.0,255.2 L855.4,189.4 L855.8,193.2 L856.2,194.0 L856.6,141.1 L857.0,175.7 L857.4,313.3 L857.8,207.4 L858.2,214.4 L858.6,146.3 L859.0,153.6 L859.4,126.5 L859.8,208.8 L860.2,134.8 L860.6,168.1 L861.0,225.8 L861.4,188.8 L861.8,143.8 L862.2,184.3 L862.6,112.7 L863.0,166.7 L863.4,173.6 L863.8,180.5 L864.2,207.6 L864.6,178.0 L865.0,81.5 L865.4,177.3 L865.8,191.7 L866.2,195.4 L866.6,152.3 L867.0,175.1 L867.4,179.6 L867.8,230.5 L868.2,130.1 L868.6,177.7 L869.0,246.2 L869.4,179.6 L869.8,207.8 L870.2,150.2 L870.6,230.9 L871.0,211.7 L871.4,150.2 L871.8,123.0 L872.2,150.4 L872.6,126.3 L873.0,85.6 L873.4,154.1 L873.8,133.6 L874.2,195.5 L874.6,144.8 L875.0,170.4 L875.4,194.4 L875.8,249.1 L876.2,127.9 L876.6,213.6 L877.0,134.4 L877.4,147.5 L877.8,161.7 L878.2,180.0 L878.6,209.8 L879.0,144.3 L879.4,143.4 L879.8,158.2 L880.2,223.7 L880.6,178.1 L881.0,164.5 L881.4,194.6 L881.8,134.9 L882.2,228.3 L882.6,275.7 L883.0,183.7 L883.4,135.0 L883.8,148.9 L884.2,137.5 L884.6,190.1 L885.0,168.9 L885.4,309.9 L885.8,170.3 L886.2,144.4 L886.6,275.4 L887.0,114.7 L887.4,213.6 L887.8,130.0 L888.2,191.2 L888.6,146.9 L889.0,219.3 L889.4,159.6 L889.8,169.1 L890.2,180.5 L890.6,167.0 L891.0,128.1 L891.4,126.2 L891.8,173.9 L892.2,143.1 L892.6,127.2 L893.0,145.0 L893.4,151.9 L893.8,116.3 L894.2,199.0 L894.6,222.1 L895.0,140.9 L895.4,192.7 L895.8,198.7 L896.2,195.6 L896.6,157.9 L897.0,137.1 L897.4,143.4 L897.8,189.0 L898.2,168.1 L898.6,157.0 L899.0,206.6 L899.4,129.5 L899.8,206.0 L900.2,109.1 L900.6,169.8 L901.0,138.4 L901.4,170.0 L901.8,103.0 L902.2,187.0 L902.6,135.3 L903.0,181.9 L903.4,211.6 L903.8,175.5 L904.2,169.1 L904.6,200.8 L905.0,211.3 L905.4,170.3 L905.8,184.7 L906.2,199.5 L906.6,154.5 L907.0,144.1 L907.4,251.2 L907.8,185.8 L908.2,230.6 L908.6,145.0 L909.0,165.0 L909.4,155.0 L909.8,145.7 L910.2,147.7 L910.6,161.0 L911.0,134.2 L911.4,176.5 L911.8,226.4 L912.2,174.2 L912.6,174.2 L913.0,161.6 L913.4,158.7 L913.8,160.2 L914.2,182.1 L914.6,205.3 L915.0,161.5 L915.4,249.6 L915.8,162.7 L916.2,188.5 L916.6,203.7 L917.0,197.5 L917.4,173.4 L917.8,156.1 L918.2,145.6 L918.6,173.0 L919.0,137.5 L919.4,99.2 L919.8,183.6 L920.2,212.8 L920.6,193.2 L921.0,132.9 L921.4,201.2 L921.8,210.6 L922.2,150.7 L922.6,202.3 L923.0,197.2 L923.4,136.8 L923.8,154.5 L924.2,173.3 L924.6,222.7 L925.0,144.6 L925.4,157.2 L925.8,240.4 L926.2,202.0 L926.6,174.7 L927.0,223.2 L927.4,201.8 L927.8,183.6 L928.2,159.4 L928.6,138.6 L929.0,87.8 L929.4,167.7 L929.8,168.7 L930.2,200.9 L930.6,194.3 L931.0,114.2 L931.4,210.5 L931.8,103.8 L932.2,150.0 L932.6,182.2 L933.0,191.0 L933.4,164.6 L933.8,145.8 L934.2,159.3 L934.6,258.9 L935.0,222.1 L935.4,106.8 L935.8,204.7 L936.2,161.6 L936.6,174.5 L937.0,186.9 L937.4,131.8 L937.8,269.5 L938.2,133.6 L938.6,164.0 L939.0,179.2 L939.4,173.6 L939.8,156.4 L940.2,173.6 L940.6,157.2 L941.0,179.1 L941.4,167.8 L941.8,185.9 L942.2,176.0 L942.6,91.9 L943.0,187.9 L943.4,189.1 L943.8,160.9 L944.2,175.3 L944.6,149.4 L945.0,178.4 L945.4,167.5 L945.8,149.7 L946.2,121.1 L946.6,178.1 L947.0,186.8 L947.4,230.4 L947.8,127.3 L948.2,95.5 L948.6,152.0 L949.0,131.0 L949.4,205.7 L949.8,187.5 L950.2,178.3 L950.6,164.8 L951.0,193.4 L951.4,182.8 L951.8,267.7 L952.2,190.1 L952.6,136.3 L953.0,194.0 L953.4,175.1 L953.8,246.9 L954.2,197.4 L954.6,164.2 L955.0,219.7 L955.4,180.0 L955.8,118.1 L956.2,161.4 L956.6,184.7 L957.0,158.6 L957.4,223.8 L957.8,187.4 L958.2,152.3 L958.6,208.1 L959.0,148.2 L959.4,193.7 L959.8,201.3 L960.2,182.1 L960.6,142.1 L961.0,97.0 L961.4,174.6 L961.8,113.5 L962.2,198.4 L962.6,243.9 L963.0,180.7 L963.4,185.7 L963.8,205.7 L964.2,221.3 L964.6,181.7 L965.0,154.7 L965.4,166.4 L965.8,186.5 L966.2,208.5 L966.6,160.1 L967.0,193.8 L967.4,164.6 L967.8,202.7 L968.2,118.6 L968.6,213.2 L969.0,165.5 L969.4,162.1 L969.8,203.3 L970.2,154.7 L970.6,234.6 L971.0,275.4 L971.4,246.2 L971.8,219.2 L972.2,212.6 L972.6,173.4 L973.0,182.8 L973.4,182.1 L973.8,217.2 L974.2,147.9 L974.6,177.0 L975.0,253.4 L975.4,168.4 L975.8,231.3 L976.2,216.9 L976.6,233.9 L977.0,156.6 L977.4,188.6 L977.8,122.8 L978.2,167.0 L978.6,191.8 L979.0,248.0 L979.4,205.0 L979.8,219.1 L980.2,161.1 L980.6,162.1 L981.0,180.6 L981.4,223.1 L981.8,191.6 L982.2,249.8 L982.6,190.1 L983.0,179.0 L983.4,178.7 L983.8,190.5 L984.2,207.5 L984.6,149.2 L985.0,200.0 L985.4,161.4 L985.8,210.8 L986.2,245.5 L986.6,202.6 L987.0,212.2 L987.4,176.2 L987.8,147.4 L988.2,217.1 L988.6,184.6 L989.0,158.8 L989.4,285.2 L989.8,225.3 L990.2,210.2 L990.6,222.2 L991.0,163.1 L991.4,180.9 L991.8,185.2 L992.2,160.9 L992.6,233.6 L993.0,214.1 L993.4,154.0 L993.8,176.7 L994.2,177.7 L994.6,214.1 L995.0,167.3 L995.4,214.1 L995.8,192.4 L996.2,196.7 L996.6,124.1 L997.0,147.2 L997.4,214.3 L997.8,197.3 L998.2,172.1 L998.6,154.8 L999.0,154.3 L999.4,282.1 L999.8,342.4 L1000.2,153.4 L1000.6,194.7 L1001.0,149.2 L1001.4,146.7 L1001.8,147.9 L1002.2,210.4 L1002.6,141.3 L1003.0,233.7 L1003.4,215.1 L1003.8,176.7 L1004.2,245.0 L1004.6,120.6 L1005.0,214.0 L1005.4,181.2 L1005.8,184.7 L1006.2,261.9 L1006.6,187.8 L1007.0,225.2 L1007.4,228.5 L1007.8,190.8 L1008.2,209.8 L1008.6,189.6 L1009.0,206.4 L1009.4,194.7 L1009.8,207.3 L1010.2,156.5 L1010.6,183.8 L1011.0,196.9 L1011.4,162.3 L1011.8,210.4 L1012.2,183.8 L1012.6,176.2 L1013.0,218.1 L1013.4,188.5 L1013.8,160.3 L1014.2,163.6 L1014.6,174.4 L1015.0,146.0 L1015.4,266.0 L1015.8,175.5 L1016.2,200.9 L1016.6,161.9 L1017.0,236.4 L1017.4,236.0 L1017.8,150.2 L1018.2,182.8 L1018.6,133.3 L1019.0,206.1 L1019.4,181.0 L1019.8,202.0 L1020.2,193.4 L1020.6,224.6 L1021.0,139.9 L1021.4,168.5 L1021.8,211.9 L1022.2,177.6 L1022.6,190.6 L1023.0,261.9 L1023.4,232.2 L1023.8,192.8 L1024.2,208.7 L1024.6,232.6 L1025.0,124.7 L1025.4,148.9 L1025.8,254.0 L1026.2,209.1 L1026.6,236.1 L1027.0,171.8 L1027.4,161.3 L1027.8,170.1 L1028.2,103.2 L1028.6,143.8 L1029.0,190.4 L1029.4,193.3 L1029.8,133.7 L1030.2,205.0 L1030.6,181.5 L1031.0,143.5 L1031.4,175.9 L1031.8,204.3 L1032.2,145.7 L1032.6,171.0 L1033.0,229.3 L1033.4,222.6 L1033.8,230.7 L1034.2,241.1 L1034.6,158.6 L1035.0,198.2 L1035.4,134.0 L1035.8,147.5 L1036.2,181.7 L1036.6,168.7 L1037.0,199.3 L1037.4,199.5 L1037.8,216.6 L1038.2,244.0 L1038.6,234.5 L1039.0,217.0 L1039.4,196.3 L1039.8,164.0 L1040.2,241.5 L1040.6,229.9 L1041.0,247.7 L1041.4,207.3 L1041.8,242.6 L1042.2,189.4 L1042.6,197.8 L1043.0,190.2 L1043.4,210.1 L1043.8,189.4 L1044.2,122.7 L1044.6,160.8 L1045.0,214.3 L1045.4,250.1 L1045.8,176.9 L1046.2,173.9 L1046.6,266.1 L1047.0,149.7 L1047.4,161.8 L1047.8,220.9 L1048.2,160.3 L1048.6,199.4 L1049.0,234.7 L1049.4,160.7 L1049.8,175.6 L1050.2,218.9 L1050.6,130.9 L1051.0,245.5" stroke="#5b86dc" stroke-opacity="0.055" stroke-width="1"/>
<path d="M581.1,31 V56" stroke="#c95451" stroke-opacity="0.42" stroke-width="1.5"/>
<path d="M581.4,152.0 L582.1,137.7 L582.8,138.8 L583.5,139.8 L584.2,141.7 L584.9,143.2 L585.6,145.0 L586.3,147.1 L587.0,149.9 L587.7,152.9 L588.4,155.5 L589.1,157.0 L589.8,156.6 L590.5,156.1 L591.2,155.6 L591.9,155.0 L592.6,154.5 L593.3,154.5 L594.0,155.4 L594.7,155.4 L595.4,156.4 L596.1,156.8 L596.8,156.7 L597.5,157.1 L598.2,156.9 L598.9,156.4 L599.6,156.6 L600.3,156.3 L601.0,155.2 L601.7,156.7 L602.4,157.6 L603.1,158.6 L603.8,159.8 L604.5,160.3 L605.2,161.9 L605.9,163.4 L606.6,164.9 L607.3,166.7 L608.0,167.9 L608.7,169.6 L609.4,170.6 L610.1,169.6 L610.8,169.7 L611.5,167.2 L612.2,167.9 L612.9,167.2 L613.6,166.7 L614.3,165.1 L615.0,165.5 L615.7,163.5 L616.4,163.4 L617.1,163.5 L617.8,164.3 L618.5,163.2 L619.2,164.9 L619.9,164.3 L620.6,164.1 L621.3,164.1 L622.0,164.7 L622.7,164.3 L623.4,163.4 L624.1,162.0 L624.8,161.6 L625.5,160.1 L626.2,160.3 L626.9,158.2 L627.6,155.4 L628.3,157.8 L629.0,155.7 L629.7,153.6 L630.4,155.5 L631.1,156.0 L631.8,160.1 L632.5,159.8 L633.2,159.0 L633.9,161.1 L634.6,160.0 L635.3,162.0 L636.0,158.9 L636.7,157.6 L637.4,159.6 L638.1,159.0 L638.8,158.8 L639.5,156.9 L640.2,158.9 L640.9,159.7 L641.6,155.8 L642.3,158.3 L643.0,156.2 L643.7,158.6 L644.4,156.3 L645.1,156.0 L645.8,157.8 L646.5,157.8 L647.2,157.2 L647.9,159.0 L648.6,158.4 L649.3,157.7 L650.0,161.8 L650.7,159.6 L651.4,159.4 L652.1,160.4 L652.8,158.7 L653.5,159.0 L654.2,159.9 L654.9,160.0 L655.6,160.6 L656.3,161.7 L657.0,160.3 L657.7,161.3 L658.4,161.5 L659.1,160.1 L659.8,161.4 L660.5,160.4 L661.2,162.5 L661.9,162.0 L662.6,161.2 L663.3,159.5 L664.0,160.4 L664.7,159.1 L665.4,160.0 L666.1,158.7 L666.8,157.6 L667.5,158.9 L668.2,158.6 L668.9,157.2 L669.6,158.8 L670.3,157.3 L671.0,157.2 L671.7,157.5 L672.4,156.5 L673.1,155.9 L673.8,155.2 L674.5,155.8 L675.2,154.8 L675.9,152.1 L676.6,152.9 L677.3,151.6 L678.0,152.7 L678.7,153.8 L679.4,154.0 L680.1,156.7 L680.8,155.3 L681.5,154.7 L682.2,157.7 L682.9,156.8 L683.6,157.6 L684.3,155.0 L685.0,158.4 L685.7,157.8 L686.4,157.4 L687.1,157.1 L687.8,157.4 L688.5,155.4 L689.2,155.9 L689.9,153.9 L690.6,154.1 L691.3,155.3 L692.0,154.5 L692.7,152.6 L693.4,154.1 L694.1,153.4 L694.8,152.6 L695.5,153.6 L696.2,152.7 L696.9,151.4 L697.6,151.9 L698.3,154.8 L699.0,151.7 L699.7,153.5 L700.4,153.7 L701.1,153.5 L701.8,151.5 L702.5,152.1 L703.2,152.2 L703.9,152.6 L704.6,151.0 L705.3,150.2 L706.0,152.0 L706.7,151.9 L707.4,151.5 L708.1,151.2 L708.8,152.9 L709.5,153.3 L710.2,154.7 L710.9,153.4 L711.6,154.7 L712.3,153.5 L713.0,151.6 L713.7,151.9 L714.4,150.7 L715.1,149.3 L715.8,149.2 L716.5,146.9 L717.2,147.6 L717.9,147.4 L718.6,146.7 L719.3,146.9 L720.0,144.1 L720.7,143.2 L721.4,144.3 L722.1,144.9 L722.8,148.4 L723.5,148.9 L724.2,149.3 L724.9,152.0 L725.6,151.1 L726.3,151.2 L727.0,155.9 L727.7,154.4 L728.4,154.1 L729.1,153.1 L729.8,153.3 L730.5,151.0 L731.2,152.1 L731.9,150.1 L732.6,150.0 L733.3,152.8 L734.0,153.1 L734.7,152.4 L735.4,152.3 L736.1,152.4 L736.8,151.5 L737.5,153.1 L738.2,151.8 L738.9,151.1 L739.6,150.5 L740.3,151.2 L741.0,151.8 L741.7,153.0 L742.4,152.3 L743.1,154.9 L743.8,156.9 L744.5,154.0 L745.2,154.0 L745.9,154.6 L746.6,154.4 L747.3,153.7 L748.0,151.2 L748.7,152.9 L749.4,150.9 L750.1,150.9 L750.8,151.9 L751.5,150.7 L752.2,151.5 L752.9,153.3 L753.6,150.7 L754.3,150.6 L755.0,149.4 L755.7,150.0 L756.4,150.0 L757.1,150.8 L757.8,150.8 L758.5,151.7 L759.2,152.7 L759.9,152.4 L760.6,152.6 L761.3,153.2 L762.0,155.4 L762.7,155.6 L763.4,157.0 L764.1,157.6 L764.8,156.4 L765.5,157.2 L766.2,155.1 L766.9,158.5 L767.6,157.4 L768.3,155.9 L769.0,154.9 L769.7,156.3 L770.4,154.5 L771.1,155.9 L771.8,157.7 L772.5,157.4 L773.2,157.2 L773.9,159.0 L774.6,157.4 L775.3,158.4 L776.0,157.1 L776.7,156.2 L777.4,156.8 L778.1,154.9 L778.8,157.1 L779.5,154.1 L780.2,156.1 L780.9,153.6 L781.6,155.5 L782.3,154.2 L783.0,154.4 L783.7,156.2 L784.4,157.0 L785.1,155.5 L785.8,158.8 L786.5,158.0 L787.2,160.1 L787.9,161.5 L788.6,160.5 L789.3,157.1 L790.0,159.2 L790.7,157.4 L791.4,156.7 L792.1,156.4 L792.8,156.1 L793.5,156.7 L794.2,158.7 L794.9,158.2 L795.6,158.1 L796.3,159.4 L797.0,162.1 L797.7,161.1 L798.4,161.5 L799.1,164.1 L799.8,162.6 L800.5,161.3 L801.2,159.8 L801.9,158.0 L802.6,157.5 L803.3,158.3 L804.0,158.9 L804.7,159.8 L805.4,160.4 L806.1,160.4 L806.8,160.8 L807.5,159.9 L808.2,159.0 L808.9,160.4 L809.6,159.9 L810.3,160.1 L811.0,160.3 L811.7,159.3 L812.4,159.3 L813.1,160.1 L813.8,161.5 L814.5,161.9 L815.2,164.2 L815.9,164.4 L816.6,163.6 L817.3,164.6 L818.0,166.4 L818.7,164.0 L819.4,165.7 L820.1,165.9 L820.8,165.4 L821.5,162.6 L822.2,164.7 L822.9,162.3 L823.6,161.4 L824.3,160.8 L825.0,161.0 L825.7,160.2 L826.4,159.9 L827.1,161.3 L827.8,159.3 L828.5,158.9 L829.2,160.6 L829.9,160.5 L830.6,160.8 L831.3,158.6 L832.0,160.6 L832.7,160.5 L833.4,162.2 L834.1,159.8 L834.8,161.7 L835.5,161.7 L836.2,160.9 L836.9,162.2 L837.6,164.4 L838.3,163.4 L839.0,163.6 L839.7,165.6 L840.4,166.1 L841.1,166.6 L841.8,165.4 L842.5,166.4 L843.2,167.4 L843.9,165.6 L844.6,165.4 L845.3,166.8 L846.0,167.4 L846.7,164.7 L847.4,163.3 L848.1,163.6 L848.8,163.0 L849.5,162.7 L850.2,162.4 L850.9,160.7 L851.6,160.1 L852.3,161.2 L853.0,160.5 L853.7,161.8 L854.4,161.5 L855.1,165.0 L855.8,163.6 L856.5,162.3 L857.2,162.0 L857.9,162.4 L858.6,161.1 L859.3,161.9 L860.0,161.8 L860.7,163.2 L861.4,161.8 L862.1,161.1 L862.8,160.1 L863.5,159.8 L864.2,160.4 L864.9,159.9 L865.6,160.7 L866.3,158.6 L867.0,159.7 L867.7,158.5 L868.4,157.9 L869.1,156.2 L869.8,157.2 L870.5,159.5 L871.2,160.5 L871.9,159.8 L872.6,160.7 L873.3,159.9 L874.0,160.3 L874.7,160.4 L875.4,162.3 L876.1,162.0 L876.8,161.8 L877.5,162.1 L878.2,163.2 L878.9,163.4 L879.6,162.8 L880.3,165.8 L881.0,165.0 L881.7,165.3 L882.4,167.3 L883.1,167.5 L883.8,167.0 L884.5,168.2 L885.2,167.2 L885.9,168.2 L886.6,167.3 L887.3,171.2 L888.0,168.8 L888.7,171.9 L889.4,171.0 L890.1,171.0 L890.8,171.8 L891.5,172.4 L892.2,172.8 L892.9,174.0 L893.6,172.8 L894.3,173.4 L895.0,171.9 L895.7,172.9 L896.4,172.1 L897.1,171.2 L897.8,171.3 L898.5,171.0 L899.2,171.3 L899.9,172.2 L900.6,172.0 L901.3,172.5 L902.0,174.6 L902.7,173.0 L903.4,174.5 L904.1,176.2 L904.8,171.6 L905.5,173.1 L906.2,174.0 L906.9,171.3 L907.6,174.9 L908.3,169.5 L909.0,173.3 L909.7,173.7 L910.4,173.3 L911.1,172.4 L911.8,173.2 L912.5,172.2 L913.2,174.1 L913.9,172.5 L914.6,173.6 L915.3,175.2 L916.0,173.5 L916.7,174.6 L917.4,175.5 L918.1,174.4 L918.8,177.1 L919.5,176.4 L920.2,174.7 L920.9,176.1 L921.6,175.4 L922.3,175.5 L923.0,176.2 L923.7,175.5 L924.4,177.4 L925.1,176.9 L925.8,179.5 L926.5,179.5 L927.2,180.4 L927.9,179.2 L928.6,179.4 L929.3,178.9 L930.0,180.6 L930.7,181.1 L931.4,182.3 L932.1,181.6 L932.8,180.7 L933.5,179.8 L934.2,179.9 L934.9,179.1 L935.6,180.0 L936.3,179.1 L937.0,176.9 L937.7,176.6 L938.4,178.1 L939.1,176.6 L939.8,176.6 L940.5,178.5 L941.2,177.6 L941.9,178.2 L942.6,178.6 L943.3,177.7 L944.0,180.9 L944.7,179.2 L945.4,179.2 L946.1,178.5 L946.8,179.4 L947.5,178.1 L948.2,177.6 L948.9,175.4 L949.6,176.4 L950.3,175.1 L951.0,177.0 L951.7,177.3 L952.4,177.1 L953.1,179.3 L953.8,178.1 L954.5,178.4 L955.2,178.2 L955.9,178.1 L956.6,179.2 L957.3,179.2 L958.0,176.8 L958.7,178.9 L959.4,178.2 L960.1,178.5 L960.8,177.9 L961.5,176.1 L962.2,177.5 L962.9,181.6 L963.6,181.3 L964.3,181.0 L965.0,184.0 L965.7,184.6 L966.4,184.4 L967.1,184.8 L967.8,185.7 L968.5,187.7 L969.2,187.6 L969.9,187.7 L970.6,188.4 L971.3,188.9 L972.0,186.6 L972.7,188.5 L973.4,188.2 L974.1,187.6 L974.8,188.0 L975.5,188.2 L976.2,187.9 L976.9,186.6 L977.6,187.3 L978.3,189.5 L979.0,186.4 L979.7,185.6 L980.4,187.2 L981.1,187.2 L981.8,186.7 L982.5,184.8 L983.2,186.4 L983.9,184.3 L984.6,183.6 L985.3,183.7 L986.0,183.8 L986.7,184.2 L987.4,183.7 L988.1,182.7 L988.8,184.0 L989.5,183.7 L990.2,184.9 L990.9,183.2 L991.6,183.5 L992.3,186.2 L993.0,184.6 L993.7,186.1 L994.4,186.7 L995.1,186.4 L995.8,186.5 L996.5,188.2 L997.2,184.5 L997.9,187.7 L998.6,189.1 L999.3,186.9 L1000.0,186.9 L1000.7,187.6 L1001.4,189.1 L1002.1,187.0 L1002.8,188.9 L1003.5,189.3 L1004.2,190.7 L1004.9,191.1 L1005.6,192.2 L1006.3,191.7 L1007.0,191.8 L1007.7,190.7 L1008.4,190.2 L1009.1,190.3 L1009.8,189.9 L1010.5,188.5 L1011.2,190.7 L1011.9,189.1 L1012.6,188.4 L1013.3,191.3 L1014.0,190.0 L1014.7,191.6 L1015.4,191.6 L1016.1,192.3 L1016.8,192.7 L1017.5,192.5 L1018.2,193.5 L1018.9,195.7 L1019.6,192.0 L1020.3,194.6 L1021.0,195.3 L1021.7,194.2 L1022.4,194.2 L1023.1,198.0 L1023.8,195.9 L1024.5,198.5 L1025.2,197.2 L1025.9,197.0 L1026.6,197.6 L1027.3,197.9 L1028.0,198.6 L1028.7,198.0 L1029.4,197.5 L1030.1,197.4 L1030.8,198.3 L1031.5,197.6 L1032.2,195.7 L1032.9,195.9 L1033.6,197.1 L1034.3,196.4 L1035.0,196.9 L1035.7,196.6 L1036.4,197.5 L1037.1,198.3 L1037.8,199.1 L1038.5,198.4 L1039.2,200.5 L1039.9,197.9 L1040.6,200.4 L1041.3,197.7 L1042.0,196.7 L1042.7,195.1 L1043.4,192.4 L1044.1,194.3 L1044.8,194.0 L1045.5,195.1 L1046.2,191.8 L1046.9,194.7 L1047.6,192.4 L1048.3,193.1 L1049.0,189.7 L1049.7,192.1 L1050.4,191.4 L1051.1,192.1 L1051.8,191.3 L1052.5,189.9 L1053.2,191.7 L1053.9,191.2 L1054.6,190.8 L1055.3,191.0 L1056.0,190.8 L1056.7,189.5 L1057.4,188.0 L1058.1,187.8 L1058.8,190.1 L1059.5,189.3 L1060.2,188.5 L1060.9,187.7 L1061.6,188.0 L1062.3,187.7" stroke="#4f9058" stroke-width="0.95"/>
<path d="M581.8,57.2 L582.5,59.3 L583.2,65.0 L583.9,74.4 L584.6,84.2 L585.3,84.7 L586.0,86.5 L586.7,86.3 L587.4,90.1 L588.1,99.9 L588.8,107.4 L589.5,109.8 L590.2,112.1 L590.9,114.7 L591.6,118.6 L592.3,121.3 L593.0,125.5 L593.7,128.8 L594.4,132.4 L595.1,135.3 L595.8,138.0 L596.5,141.0 L597.2,143.3 L597.9,144.4 L598.6,145.3 L599.3,147.2 L600.0,146.4 L600.7,144.2 L601.4,143.5 L602.1,143.5 L602.8,145.6 L603.5,148.0 L604.2,150.5 L604.9,152.5 L605.6,154.1 L606.3,155.5 L607.0,157.4 L607.7,158.6 L608.4,160.1 L609.1,160.6 L609.8,163.3 L610.5,162.7 L611.2,163.6 L611.9,165.0 L612.6,164.6 L613.3,164.9 L614.0,165.0 L614.7,165.0 L615.4,165.4 L616.1,166.2 L616.8,168.1 L617.5,167.3 L618.2,170.6 L618.9,170.3 L619.6,170.5 L620.3,171.4 L621.0,170.4 L621.7,170.3 L622.4,168.6 L623.1,169.5 L623.8,167.0 L624.5,166.2 L625.2,168.3 L625.9,167.7 L626.6,170.1 L627.3,171.8 L628.0,172.0 L628.7,170.7 L629.4,171.9 L630.1,174.9 L630.8,173.9 L631.5,173.0 L632.2,173.5 L632.9,174.2 L633.6,172.5 L634.3,170.9 L635.0,170.5 L635.7,170.2 L636.4,167.9 L637.1,166.3 L637.8,166.1 L638.5,164.0 L639.2,163.6 L639.9,164.1 L640.6,167.3 L641.3,165.3 L642.0,167.0 L642.7,168.0 L643.4,169.2 L644.1,170.1 L644.8,169.0 L645.5,169.0 L646.2,168.6 L646.9,169.6 L647.6,171.4 L648.3,171.3 L649.0,170.6 L649.7,171.6 L650.4,172.8 L651.1,174.1 L651.8,174.0 L652.5,175.2 L653.2,174.5 L653.9,175.4 L654.6,178.2 L655.3,174.7 L656.0,176.6 L656.7,177.3 L657.4,176.8 L658.1,176.6 L658.8,177.4 L659.5,177.6 L660.2,177.7 L660.9,176.1 L661.6,177.9 L662.3,177.5 L663.0,178.3 L663.7,179.5 L664.4,180.4 L665.1,181.1 L665.8,180.3 L666.5,182.1 L667.2,182.9 L667.9,183.3 L668.6,184.0 L669.3,183.1 L670.0,183.5 L670.7,185.0 L671.4,182.9 L672.1,184.4 L672.8,183.7 L673.5,183.8 L674.2,182.5 L674.9,183.4 L675.6,184.2 L676.3,184.6 L677.0,183.9 L677.7,182.1 L678.4,181.1 L679.1,179.7 L679.8,180.1 L680.5,178.7 L681.2,178.7 L681.9,180.7 L682.6,180.0 L683.3,179.5 L684.0,180.5 L684.7,179.1 L685.4,178.5 L686.1,180.1 L686.8,178.2 L687.5,175.7 L688.2,177.0 L688.9,177.2 L689.6,175.3 L690.3,174.6 L691.0,174.6 L691.7,174.8 L692.4,174.8 L693.1,175.0 L693.8,174.7 L694.5,174.3 L695.2,174.1 L695.9,173.1 L696.6,170.6 L697.3,171.1 L698.0,170.4 L698.7,168.6 L699.4,168.7 L700.1,166.4 L700.8,164.8 L701.5,167.0 L702.2,167.7 L702.9,168.8 L703.6,170.8 L704.3,171.9 L705.0,172.3 L705.7,170.6 L706.4,173.3 L707.1,174.5 L707.8,175.0 L708.5,176.2 L709.2,177.3 L709.9,175.9 L710.6,175.4 L711.3,178.5 L712.0,176.3 L712.7,175.5 L713.4,176.6 L714.1,176.5 L714.8,175.2 L715.5,176.4 L716.2,175.0 L716.9,174.3 L717.6,175.2 L718.3,176.0 L719.0,175.0 L719.7,176.1 L720.4,175.9 L721.1,179.0 L721.8,175.8 L722.5,178.1 L723.2,177.2 L723.9,177.7 L724.6,179.1 L725.3,179.8 L726.0,180.7 L726.7,180.4 L727.4,179.3 L728.1,178.7 L728.8,178.9 L729.5,178.3 L730.2,178.4 L730.9,176.7 L731.6,176.6 L732.3,176.4 L733.0,174.8 L733.7,172.9 L734.4,172.9 L735.1,172.4 L735.8,175.0 L736.5,172.4 L737.2,174.0 L737.9,173.1 L738.6,173.9 L739.3,173.0 L740.0,171.7 L740.7,171.4 L741.4,171.5 L742.1,171.3 L742.8,170.4 L743.5,170.7 L744.2,172.7 L744.9,170.1 L745.6,172.5 L746.3,171.9 L747.0,173.5 L747.7,175.8 L748.4,176.6 L749.1,179.1 L749.8,178.6 L750.5,182.8 L751.2,182.9 L751.9,185.0 L752.6,185.4 L753.3,183.5 L754.0,186.1 L754.7,187.8 L755.4,189.9 L756.1,189.5 L756.8,189.8 L757.5,187.3 L758.2,189.0 L758.9,188.5 L759.6,185.8 L760.3,184.7 L761.0,182.4 L761.7,183.9 L762.4,186.0 L763.1,184.6 L763.8,185.7 L764.5,185.6 L765.2,184.7 L765.9,187.5 L766.6,185.3 L767.3,186.3 L768.0,186.9 L768.7,187.5 L769.4,187.2 L770.1,187.2 L770.8,186.2 L771.5,185.8 L772.2,187.2 L772.9,186.5 L773.6,186.3 L774.3,186.8 L775.0,188.0 L775.7,187.2 L776.4,188.1 L777.1,188.3 L777.8,190.5 L778.5,191.2 L779.2,193.1 L779.9,190.1 L780.6,191.2 L781.3,193.1 L782.0,192.3 L782.7,192.6 L783.4,194.9 L784.1,192.8 L784.8,191.9 L785.5,191.5 L786.2,192.9 L786.9,192.7 L787.6,191.8 L788.3,193.0 L789.0,195.3 L789.7,196.1 L790.4,195.8 L791.1,197.8 L791.8,198.6 L792.5,196.7 L793.2,197.7 L793.9,198.1 L794.6,196.8 L795.3,194.9 L796.0,196.4 L796.7,197.0 L797.4,197.5 L798.1,193.5 L798.8,197.7 L799.5,193.8 L800.2,195.5 L800.9,195.4 L801.6,194.8 L802.3,193.6 L803.0,191.8 L803.7,192.7 L804.4,190.5 L805.1,188.0 L805.8,192.2 L806.5,189.4 L807.2,189.9 L807.9,186.8 L808.6,188.4 L809.3,188.0 L810.0,187.4 L810.7,185.5 L811.4,184.7 L812.1,185.9 L812.8,184.2 L813.5,184.9 L814.2,186.8 L814.9,186.0 L815.6,187.0 L816.3,187.7 L817.0,190.3 L817.7,190.4 L818.4,189.9 L819.1,191.7 L819.8,190.6 L820.5,191.2 L821.2,192.2 L821.9,190.0 L822.6,190.8 L823.3,189.7 L824.0,190.9 L824.7,192.3 L825.4,190.2 L826.1,191.2 L826.8,190.3 L827.5,190.2 L828.2,190.2 L828.9,192.9 L829.6,193.9 L830.3,192.3 L831.0,191.8 L831.7,193.7 L832.4,193.3 L833.1,195.0 L833.8,195.1 L834.5,195.6 L835.2,196.5 L835.9,195.8 L836.6,196.3 L837.3,195.4 L838.0,197.0 L838.7,196.4 L839.4,197.9 L840.1,197.5 L840.8,198.9 L841.5,199.9 L842.2,198.9 L842.9,200.2 L843.6,200.8 L844.3,203.1 L845.0,204.7 L845.7,203.7 L846.4,202.4 L847.1,203.9 L847.8,200.9 L848.5,203.5 L849.2,201.3 L849.9,199.1 L850.6,204.1 L851.3,203.1 L852.0,201.5 L852.7,203.4 L853.4,203.9 L854.1,205.0 L854.8,204.3 L855.5,205.8 L856.2,207.7 L856.9,207.3 L857.6,207.9 L858.3,206.5 L859.0,208.3 L859.7,205.0 L860.4,205.6 L861.1,203.2 L861.8,203.7 L862.5,206.2 L863.2,204.2 L863.9,205.7 L864.6,205.3 L865.3,204.5 L866.0,205.2 L866.7,205.2 L867.4,204.6 L868.1,205.1 L868.8,204.3 L869.5,202.5 L870.2,201.4 L870.9,201.9 L871.6,200.8 L872.3,201.4 L873.0,202.8 L873.7,201.0 L874.4,200.1 L875.1,199.8 L875.8,199.0 L876.5,198.9 L877.2,198.6 L877.9,199.5 L878.6,199.7 L879.3,201.0 L880.0,200.2 L880.7,200.6 L881.4,199.9 L882.1,202.9 L882.8,202.1 L883.5,203.8 L884.2,203.3 L884.9,204.4 L885.6,203.2 L886.3,204.6 L887.0,206.9 L887.7,203.6 L888.4,206.5 L889.1,207.6 L889.8,207.0 L890.5,207.9 L891.2,209.0 L891.9,207.7 L892.6,209.3 L893.3,208.2 L894.0,208.2 L894.7,208.0 L895.4,208.2 L896.1,208.2 L896.8,208.3 L897.5,206.2 L898.2,209.4 L898.9,208.8 L899.6,208.6 L900.3,207.8 L901.0,208.3 L901.7,209.2 L902.4,209.3 L903.1,207.5 L903.8,210.3 L904.5,212.8 L905.2,208.7 L905.9,211.9 L906.6,211.8 L907.3,211.8 L908.0,213.7 L908.7,211.6 L909.4,213.3 L910.1,214.9 L910.8,213.6 L911.5,213.8 L912.2,214.6 L912.9,214.4 L913.6,216.7 L914.3,214.6 L915.0,216.5 L915.7,214.7 L916.4,216.8 L917.1,216.3 L917.8,214.1 L918.5,216.8 L919.2,216.1 L919.9,217.1 L920.6,219.4 L921.3,217.2 L922.0,217.7 L922.7,220.5 L923.4,219.7 L924.1,221.4 L924.8,221.2 L925.5,221.0 L926.2,222.9 L926.9,225.2 L927.6,225.9 L928.3,226.0 L929.0,226.1 L929.7,225.6 L930.4,224.8 L931.1,226.9 L931.8,224.7 L932.5,223.2 L933.2,223.5 L933.9,224.3 L934.6,223.9 L935.3,222.6 L936.0,221.3 L936.7,221.3 L937.4,219.0 L938.1,218.6 L938.8,220.0 L939.5,218.0 L940.2,218.2 L940.9,218.3 L941.6,217.2 L942.3,216.2 L943.0,217.9 L943.7,216.2 L944.4,214.8 L945.1,215.5 L945.8,215.1 L946.5,214.3 L947.2,215.5 L947.9,215.6 L948.6,214.2 L949.3,216.3 L950.0,216.6 L950.7,216.8 L951.4,215.9 L952.1,217.5 L952.8,217.9 L953.5,218.2 L954.2,217.1 L954.9,219.0 L955.6,217.3 L956.3,218.4 L957.0,220.0 L957.7,218.5 L958.4,219.3 L959.1,221.4 L959.8,220.5 L960.5,221.1 L961.2,222.2 L961.9,223.6 L962.6,220.9 L963.3,222.8 L964.0,223.2 L964.7,223.6 L965.4,224.4 L966.1,224.9 L966.8,226.6 L967.5,225.9 L968.2,227.4 L968.9,228.2 L969.6,227.7 L970.3,229.0 L971.0,231.0 L971.7,229.7 L972.4,228.7 L973.1,229.1 L973.8,228.1 L974.5,229.2 L975.2,229.6 L975.9,227.9 L976.6,228.3 L977.3,229.5 L978.0,228.1 L978.7,229.0 L979.4,228.1 L980.1,228.5 L980.8,229.0 L981.5,231.8 L982.2,229.6 L982.9,229.7 L983.6,229.9 L984.3,230.6 L985.0,231.7 L985.7,231.6 L986.4,233.8 L987.1,232.4 L987.8,233.9 L988.5,233.1 L989.2,233.8 L989.9,232.2 L990.6,233.8 L991.3,234.2 L992.0,234.4 L992.7,232.6 L993.4,235.3 L994.1,233.8 L994.8,233.6 L995.5,233.5 L996.2,233.3 L996.9,233.7 L997.6,231.9 L998.3,231.9 L999.0,233.2 L999.7,233.5 L1000.4,233.5 L1001.1,233.7 L1001.8,233.9 L1002.5,235.1 L1003.2,236.8 L1003.9,235.1 L1004.6,238.0 L1005.3,237.7 L1006.0,236.6 L1006.7,237.9 L1007.4,235.9 L1008.1,235.8 L1008.8,236.3 L1009.5,237.3 L1010.2,237.5 L1010.9,237.4 L1011.6,238.1 L1012.3,236.1 L1013.0,238.7 L1013.7,237.0 L1014.4,237.8 L1015.1,238.2 L1015.8,237.6 L1016.5,237.5 L1017.2,237.9 L1017.9,239.0 L1018.6,239.3 L1019.3,239.1 L1020.0,237.4 L1020.7,237.3 L1021.4,237.0 L1022.1,238.0 L1022.8,235.5 L1023.5,238.3 L1024.2,236.5 L1024.9,236.0 L1025.6,236.8 L1026.3,237.2 L1027.0,236.3 L1027.7,236.8 L1028.4,235.7 L1029.1,236.5 L1029.8,236.2 L1030.5,234.7 L1031.2,235.9 L1031.9,234.3 L1032.6,233.9 L1033.3,232.6 L1034.0,232.8 L1034.7,233.5 L1035.4,231.2 L1036.1,232.7 L1036.8,232.0 L1037.5,231.5 L1038.2,228.5 L1038.9,230.0 L1039.6,230.1 L1040.3,228.2 L1041.0,228.4 L1041.7,225.5 L1042.4,228.0 L1043.1,227.1 L1043.8,229.0 L1044.5,226.9 L1045.2,229.7 L1045.9,229.2 L1046.6,230.6 L1047.3,229.4 L1048.0,230.2 L1048.7,233.5 L1049.4,231.2 L1050.1,231.9 L1050.8,232.9 L1051.5,232.8 L1052.2,235.5 L1052.9,236.6 L1053.6,234.9 L1054.3,234.3 L1055.0,237.2 L1055.7,237.3 L1056.4,237.2 L1057.1,237.7 L1057.8,236.0 L1058.5,236.8 L1059.2,235.7 L1059.9,235.8 L1060.6,238.2 L1061.3,236.8 L1062.0,239.7" stroke="#c95451" stroke-width="0.95"/>
<path d="M581.6,111.1 L582.3,128.6 L583.0,135.8 L583.7,142.9 L584.4,142.7 L585.1,142.4 L585.8,143.0 L586.5,143.5 L587.2,143.2 L587.9,142.6 L588.6,142.5 L589.3,141.8 L590.0,140.9 L590.7,140.6 L591.4,140.8 L592.1,141.5 L592.8,141.8 L593.5,142.4 L594.2,142.7 L594.9,142.8 L595.6,144.0 L596.3,144.9 L597.0,145.4 L597.7,146.3 L598.4,146.5 L599.1,145.1 L599.8,144.0 L600.5,141.8 L601.2,140.3 L601.9,142.9 L602.6,144.0 L603.3,145.8 L604.0,147.1 L604.7,148.8 L605.4,150.5 L606.1,152.3 L606.8,154.2 L607.5,155.1 L608.2,157.6 L608.9,158.7 L609.6,157.8 L610.3,159.2 L611.0,158.3 L611.7,156.7 L612.4,159.7 L613.1,156.9 L613.8,157.8 L614.5,157.5 L615.2,158.5 L615.9,156.5 L616.6,157.8 L617.3,155.9 L618.0,157.5 L618.7,155.6 L619.4,155.8 L620.1,157.8 L620.8,156.1 L621.5,155.7 L622.2,157.5 L622.9,155.2 L623.6,153.6 L624.3,154.6 L625.0,152.4 L625.7,154.1 L626.4,153.7 L627.1,151.5 L627.8,151.4 L628.5,152.1 L629.2,151.9 L629.9,150.9 L630.6,152.4 L631.3,149.9 L632.0,151.4 L632.7,151.4 L633.4,151.5 L634.1,152.0 L634.8,150.5 L635.5,152.2 L636.2,151.4 L636.9,150.9 L637.6,150.1 L638.3,150.2 L639.0,151.6 L639.7,150.2 L640.4,151.1 L641.1,152.0 L641.8,151.9 L642.5,152.3 L643.2,150.5 L643.9,149.6 L644.6,151.6 L645.3,149.7 L646.0,149.3 L646.7,147.6 L647.4,148.7 L648.1,148.4 L648.8,148.3 L649.5,148.1 L650.2,148.0 L650.9,147.8 L651.6,147.8 L652.3,148.5 L653.0,147.1 L653.7,149.2 L654.4,147.5 L655.1,148.5 L655.8,147.5 L656.5,147.4 L657.2,149.5 L657.9,147.3 L658.6,146.4 L659.3,146.9 L660.0,147.3 L660.7,149.6 L661.4,147.8 L662.1,148.5 L662.8,146.6 L663.5,147.9 L664.2,149.6 L664.9,153.0 L665.6,153.0 L666.3,156.5 L667.0,156.6 L667.7,155.3 L668.4,156.3 L669.1,156.0 L669.8,154.1 L670.5,156.9 L671.2,156.8 L671.9,155.2 L672.6,152.8 L673.3,154.0 L674.0,151.3 L674.7,150.4 L675.4,149.2 L676.1,146.1 L676.8,146.5 L677.5,144.6 L678.2,144.0 L678.9,143.1 L679.6,142.3 L680.3,142.6 L681.0,142.2 L681.7,142.4 L682.4,142.9 L683.1,144.0 L683.8,143.3 L684.5,143.4 L685.2,143.6 L685.9,142.8 L686.6,142.9 L687.3,142.2 L688.0,144.3 L688.7,144.1 L689.4,143.8 L690.1,143.9 L690.8,146.6 L691.5,145.3 L692.2,145.5 L692.9,146.4 L693.6,146.5 L694.3,147.2 L695.0,145.5 L695.7,147.1 L696.4,143.9 L697.1,145.0 L697.8,143.0 L698.5,145.3 L699.2,142.9 L699.9,142.8 L700.6,143.8 L701.3,144.3 L702.0,142.3 L702.7,143.2 L703.4,142.3 L704.1,144.0 L704.8,143.9 L705.5,143.9 L706.2,143.7 L706.9,144.2 L707.6,144.1 L708.3,145.6 L709.0,146.8 L709.7,143.9 L710.4,145.9 L711.1,145.9 L711.8,147.0 L712.5,145.9 L713.2,147.0 L713.9,146.4 L714.6,148.3 L715.3,148.0 L716.0,147.3 L716.7,146.4 L717.4,144.4 L718.1,141.7 L718.8,142.3 L719.5,141.0 L720.2,140.1 L720.9,140.6 L721.6,140.2 L722.3,137.5 L723.0,137.2 L723.7,138.8 L724.4,138.1 L725.1,137.0 L725.8,137.4 L726.5,138.9 L727.2,139.9 L727.9,139.6 L728.6,140.9 L729.3,139.4 L730.0,139.2 L730.7,141.0 L731.4,139.3 L732.1,139.7 L732.8,140.1 L733.5,140.3 L734.2,139.5 L734.9,140.1 L735.6,139.6 L736.3,142.3 L737.0,141.5 L737.7,140.1 L738.4,141.5 L739.1,142.4 L739.8,142.5 L740.5,144.0 L741.2,143.9 L741.9,142.3 L742.6,142.6 L743.3,141.4 L744.0,142.7 L744.7,142.5 L745.4,144.8 L746.1,142.2 L746.8,140.0 L747.5,141.7 L748.2,143.0 L748.9,142.2 L749.6,143.1 L750.3,144.1 L751.0,144.4 L751.7,143.2 L752.4,141.9 L753.1,142.7 L753.8,140.8 L754.5,141.1 L755.2,141.0 L755.9,142.3 L756.6,144.3 L757.3,142.9 L758.0,145.0 L758.7,146.5 L759.4,145.7 L760.1,145.6 L760.8,143.6 L761.5,145.2 L762.2,144.3 L762.9,142.9 L763.6,140.8 L764.3,141.2 L765.0,142.8 L765.7,143.2 L766.4,141.6 L767.1,142.5 L767.8,142.4 L768.5,144.4 L769.2,146.3 L769.9,147.9 L770.6,146.6 L771.3,149.6 L772.0,150.5 L772.7,148.8 L773.4,149.2 L774.1,151.5 L774.8,151.1 L775.5,150.1 L776.2,153.7 L776.9,153.0 L777.6,151.5 L778.3,153.0 L779.0,150.2 L779.7,149.6 L780.4,151.1 L781.1,150.7 L781.8,151.7 L782.5,153.5 L783.2,152.4 L783.9,151.9 L784.6,153.3 L785.3,152.0 L786.0,151.4 L786.7,150.5 L787.4,150.3 L788.1,151.2 L788.8,149.8 L789.5,151.6 L790.2,148.9 L790.9,149.8 L791.6,149.1 L792.3,150.5 L793.0,151.8 L793.7,153.1 L794.4,151.5 L795.1,152.6 L795.8,153.0 L796.5,153.3 L797.2,153.6 L797.9,155.5 L798.6,154.5 L799.3,157.0 L800.0,157.6 L800.7,157.7 L801.4,157.0 L802.1,155.8 L802.8,158.1 L803.5,154.2 L804.2,156.2 L804.9,154.5 L805.6,152.7 L806.3,151.4 L807.0,153.9 L807.7,155.0 L808.4,152.8 L809.1,153.9 L809.8,155.6 L810.5,155.3 L811.2,157.6 L811.9,155.9 L812.6,157.6 L813.3,156.6 L814.0,160.5 L814.7,158.5 L815.4,157.8 L816.1,159.9 L816.8,159.6 L817.5,161.3 L818.2,158.9 L818.9,159.0 L819.6,159.3 L820.3,159.8 L821.0,157.5 L821.7,157.9 L822.4,156.7 L823.1,155.2 L823.8,154.9 L824.5,154.3 L825.2,153.8 L825.9,156.2 L826.6,154.2 L827.3,157.0 L828.0,157.2 L828.7,156.7 L829.4,156.4 L830.1,157.4 L830.8,158.4 L831.5,159.1 L832.2,159.1 L832.9,160.2 L833.6,159.2 L834.3,160.5 L835.0,159.2 L835.7,161.9 L836.4,161.8 L837.1,161.7 L837.8,163.4 L838.5,163.0 L839.2,159.8 L839.9,162.6 L840.6,161.3 L841.3,163.7 L842.0,165.2 L842.7,162.4 L843.4,163.1 L844.1,162.9 L844.8,163.1 L845.5,163.0 L846.2,163.3 L846.9,160.8 L847.6,162.8 L848.3,160.1 L849.0,160.9 L849.7,161.4 L850.4,160.6 L851.1,158.7 L851.8,159.9 L852.5,161.0 L853.2,162.3 L853.9,164.4 L854.6,163.0 L855.3,165.6 L856.0,166.7 L856.7,167.3 L857.4,167.7 L858.1,169.2 L858.8,168.8 L859.5,169.6 L860.2,169.8 L860.9,171.5 L861.6,168.5 L862.3,172.0 L863.0,169.8 L863.7,168.8 L864.4,167.2 L865.1,165.4 L865.8,165.8 L866.5,164.6 L867.2,165.5 L867.9,164.0 L868.6,167.1 L869.3,166.3 L870.0,166.2 L870.7,165.5 L871.4,165.0 L872.1,164.2 L872.8,164.3 L873.5,164.4 L874.2,163.8 L874.9,162.1 L875.6,162.9 L876.3,162.4 L877.0,163.5 L877.7,165.2 L878.4,164.1 L879.1,163.4 L879.8,162.2 L880.5,162.5 L881.2,161.7 L881.9,163.2 L882.6,160.9 L883.3,160.9 L884.0,159.4 L884.7,159.3 L885.4,159.7 L886.1,157.3 L886.8,158.1 L887.5,158.1 L888.2,160.2 L888.9,158.8 L889.6,159.2 L890.3,159.4 L891.0,159.9 L891.7,162.1 L892.4,164.6 L893.1,161.7 L893.8,164.0 L894.5,163.8 L895.2,163.0 L895.9,164.2 L896.6,164.5 L897.3,163.7 L898.0,165.8 L898.7,161.8 L899.4,163.7 L900.1,163.3 L900.8,162.0 L901.5,162.4 L902.2,163.2 L902.9,162.8 L903.6,163.3 L904.3,163.7 L905.0,161.4 L905.7,164.9 L906.4,165.9 L907.1,164.9 L907.8,165.0 L908.5,162.9 L909.2,164.2 L909.9,163.7 L910.6,164.0 L911.3,165.6 L912.0,164.0 L912.7,164.9 L913.4,163.4 L914.1,165.3 L914.8,165.8 L915.5,165.3 L916.2,165.5 L916.9,168.2 L917.6,166.0 L918.3,167.2 L919.0,168.5 L919.7,171.4 L920.4,173.3 L921.1,172.1 L921.8,171.1 L922.5,171.4 L923.2,172.9 L923.9,171.0 L924.6,173.3 L925.3,173.3 L926.0,172.0 L926.7,172.6 L927.4,172.7 L928.1,173.5 L928.8,171.0 L929.5,173.3 L930.2,171.9 L930.9,171.6 L931.6,172.5 L932.3,172.3 L933.0,171.6 L933.7,171.2 L934.4,171.9 L935.1,174.2 L935.8,174.8 L936.5,173.7 L937.2,174.3 L937.9,173.0 L938.6,173.8 L939.3,174.5 L940.0,173.5 L940.7,174.0 L941.4,175.2 L942.1,174.4 L942.8,173.2 L943.5,174.1 L944.2,173.0 L944.9,173.8 L945.6,172.4 L946.3,171.6 L947.0,171.6 L947.7,170.8 L948.4,170.7 L949.1,171.3 L949.8,172.7 L950.5,173.0 L951.2,173.9 L951.9,171.5 L952.6,173.0 L953.3,173.4 L954.0,174.3 L954.7,173.9 L955.4,174.1 L956.1,175.6 L956.8,175.2 L957.5,174.2 L958.2,176.8 L958.9,176.7 L959.6,175.5 L960.3,177.1 L961.0,176.4 L961.7,179.2 L962.4,178.9 L963.1,179.3 L963.8,180.7 L964.5,181.3 L965.2,183.2 L965.9,183.8 L966.6,183.6 L967.3,183.0 L968.0,179.9 L968.7,183.4 L969.4,181.4 L970.1,183.3 L970.8,184.1 L971.5,183.2 L972.2,182.5 L972.9,182.6 L973.6,182.9 L974.3,183.0 L975.0,183.5 L975.7,183.7 L976.4,186.3 L977.1,185.7 L977.8,186.5 L978.5,184.9 L979.2,184.8 L979.9,184.1 L980.6,184.2 L981.3,184.1 L982.0,183.0 L982.7,181.7 L983.4,181.1 L984.1,182.9 L984.8,180.3 L985.5,179.6 L986.2,180.6 L986.9,179.5 L987.6,178.3 L988.3,177.0 L989.0,180.1 L989.7,178.6 L990.4,179.2 L991.1,178.9 L991.8,178.2 L992.5,178.7 L993.2,180.8 L993.9,180.9 L994.6,180.3 L995.3,179.4 L996.0,179.1 L996.7,180.2 L997.4,179.1 L998.1,181.4 L998.8,181.6 L999.5,183.2 L1000.2,181.3 L1000.9,179.9 L1001.6,180.6 L1002.3,179.0 L1003.0,182.6 L1003.7,183.9 L1004.4,185.9 L1005.1,186.5 L1005.8,187.0 L1006.5,187.1 L1007.2,188.0 L1007.9,189.3 L1008.6,187.4 L1009.3,188.5 L1010.0,187.2 L1010.7,189.6 L1011.4,188.8 L1012.1,187.7 L1012.8,185.4 L1013.5,186.1 L1014.2,186.0 L1014.9,186.6 L1015.6,186.7 L1016.3,187.7 L1017.0,187.2 L1017.7,188.7 L1018.4,188.5 L1019.1,188.3 L1019.8,188.8 L1020.5,188.1 L1021.2,188.6 L1021.9,186.9 L1022.6,186.7 L1023.3,185.4 L1024.0,183.7 L1024.7,185.7 L1025.4,183.8 L1026.1,185.4 L1026.8,185.2 L1027.5,183.2 L1028.2,183.9 L1028.9,184.3 L1029.6,184.0 L1030.3,183.7 L1031.0,185.3 L1031.7,184.0 L1032.4,184.3 L1033.1,183.2 L1033.8,183.5 L1034.5,182.2 L1035.2,183.0 L1035.9,184.3 L1036.6,184.4 L1037.3,184.7 L1038.0,184.8 L1038.7,186.7 L1039.4,187.0 L1040.1,186.0 L1040.8,185.1 L1041.5,185.8 L1042.2,187.2 L1042.9,185.1 L1043.6,186.4 L1044.3,187.1 L1045.0,185.0 L1045.7,188.2 L1046.4,188.1 L1047.1,190.3 L1047.8,188.8 L1048.5,188.3 L1049.2,188.8 L1049.9,189.2 L1050.6,188.5" stroke="#5b86dc" stroke-width="0.95"/>
</g>
<circle cx="1062.5" cy="187.6" r="1.6" fill="#4f9058"/><circle cx="1062.5" cy="237.6" r="1.6" fill="#c95451"/><circle cx="1051" cy="189" r="1.5" fill="#5b86dc"/>
<rect x="192" y="24.6" width="6" height="1.3" fill="#5b86dc"/>
<rect x="285.2" y="24.6" width="6" height="1.3" fill="#4f9058"/>
<rect x="718" y="22.2" width="6" height="1.3" fill="#4f9058"/>
<rect x="786.5" y="22.2" width="5.6" height="1.3" fill="#c95451"/>
<rect x="851.1" y="22.2" width="5.6" height="1.3" fill="#5b86dc"/></svg>
<div class="ttl" id="t1" style="left:238.9px;top:6.9px;transform:scaleX(0.909)">Pretrain (Warmup)</div>
<div class="lg" id="l1" style="transform:scaleX(0.935);left:201.9px;top:21.1px;color:#5b86dc">control (without memory)</div>
<div class="lg" id="l2" style="transform:scaleX(0.934);left:294.8px;top:21.1px;color:#4f9058">pretrain with memory</div>
<div class="ttl" id="t2" style="left:780.7px;top:4.5px;transform:scaleX(0.899)">Continual Train</div>
<div class="lg" id="l3" style="transform:scaleX(0.929);left:727.6px;top:18.7px;color:#4f9058">memory-memory</div>
<div class="lg" id="l4" style="transform:scaleX(0.940);left:795.6px;top:18.7px;color:#c95451">control-memory</div>
<div class="lg" id="l5" style="transform:scaleX(0.954);left:860px;top:18.7px;color:#5b86dc">control-control</div>
<div class="tk yl" style="left:0;width:33.4px;top:29.4px">3</div><div class="tk yl" style="left:0;width:33.4px;top:82.0px">2.9</div><div class="tk yl" style="left:0;width:33.4px;top:134.7px">2.8</div><div class="tk yl" style="left:0;width:33.4px;top:187.4px">2.7</div><div class="tk yl" style="left:0;width:33.4px;top:240.1px">2.6</div><div class="tk xl" style="left:104.0px;width:40px;top:283.0px">5M</div><div class="tk xl" style="left:187.6px;width:40px;top:283.0px">10M</div><div class="tk xl" style="left:270.9px;width:40px;top:283.0px">15M</div><div class="tk xl" style="left:354.2px;width:40px;top:283.0px">20M</div><div class="tk xl" style="left:437.7px;width:40px;top:283.0px">25M</div><div class="tk sm" style="left:463px;width:61px;top:266.4px">samples</div><div class="tk yl" style="left:540px;width:33.4px;top:49.0px">2.66</div><div class="tk yl" style="left:540px;width:33.4px;top:93.2px">2.64</div><div class="tk yl" style="left:540px;width:33.4px;top:137.4px">2.62</div><div class="tk yl" style="left:540px;width:33.4px;top:181.6px">2.6</div><div class="tk yl" style="left:540px;width:33.4px;top:225.8px">2.58</div><div class="tk yl" style="left:540px;width:33.4px;top:269.9px">2.56</div><div class="tk xl" style="left:649.9px;width:40px;top:281.1px">2M</div><div class="tk xl" style="left:739.0px;width:40px;top:281.1px">4M</div><div class="tk xl" style="left:828.1px;width:40px;top:281.1px">6M</div><div class="tk xl" style="left:917.2px;width:40px;top:281.1px">8M</div><div class="tk xl" style="left:1006.5px;width:40px;top:281.1px">10M</div><div class="tk sm" style="left:999px;width:61px;top:264.5px">samples</div>
<span class="w b" style="left:9.19px;top:316.40px;letter-spacing:1.576px">Figure</span>
<span class="w b" style="left:97.52px;top:316.40px;letter-spacing:1.643px">11:</span>
<span class="w" style="left:144.29px;top:316.40px;letter-spacing:0.188px">Left:</span>
<span class="w" style="left:206.40px;top:316.40px;letter-spacing:0.455px">Comparison</span>
<span class="w" style="left:337.53px;top:316.40px;letter-spacing:-0.610px">of</span>
<span class="w" style="left:366.91px;top:316.40px;letter-spacing:1.012px">the</span>
<span class="w" style="left:408.80px;top:316.40px;letter-spacing:0.494px">warmup</span>
<span class="w" style="left:500.22px;top:316.40px;letter-spacing:0.515px">stage</span>
<span class="w" style="left:562.01px;top:316.40px;letter-spacing:0.754px">(training</span>
<span class="w" style="left:660.93px;top:316.40px;letter-spacing:0.167px">from</span>
<span class="w" style="left:718.28px;top:316.40px;letter-spacing:0.641px">scratch)</span>
<span class="w" style="left:809.16px;top:316.40px;letter-spacing:0.662px">with</span>
<span class="w" style="left:864.42px;top:316.40px;letter-spacing:0.968px">and</span>
<span class="w" style="left:911.69px;top:316.40px;letter-spacing:0.806px">without</span>
<span class="w" style="left:1000.21px;top:316.40px;letter-spacing:0.307px">explicit</span>
<span class="w" style="left:8.67px;top:344.25px;letter-spacing:0.339px">memory.</span>
<span class="w" style="left:106.04px;top:344.25px;letter-spacing:0.937px">The</span>
<span class="w" style="left:153.44px;top:344.25px;letter-spacing:0.351px">blue</span>
<span class="w" style="left:204.04px;top:344.25px;letter-spacing:0.968px">and</span>
<span class="w" style="left:248.79px;top:344.25px;letter-spacing:0.226px">green</span>
<span class="w" style="left:310.76px;top:344.25px;letter-spacing:0.161px">curves</span>
<span class="w" style="left:382.15px;top:344.25px;letter-spacing:0.611px">are</span>
<span class="w" style="left:420.97px;top:344.25px;letter-spacing:0.848px">trained</span>
<span class="w" style="left:501.09px;top:344.25px;letter-spacing:0.806px">without</span>
<span class="w" style="left:587.72px;top:344.25px;letter-spacing:0.968px">and</span>
<span class="w" style="left:632.69px;top:344.25px;letter-spacing:0.662px">with</span>
<span class="w" style="left:685.40px;top:344.25px;letter-spacing:0.307px">explicit</span>
<span class="w" style="left:767.35px;top:344.25px;letter-spacing:0.198px">memories,</span>
<span class="w" style="left:877.42px;top:344.25px;letter-spacing:0.264px">respectively.</span>
<span class="w" style="left:1011.64px;top:344.25px;letter-spacing:0.517px">Right:</span>
<span class="w" style="left:8.73px;top:372.10px;letter-spacing:0.455px">Comparison</span>
<span class="w" style="left:140.33px;top:372.10px;letter-spacing:-0.610px">of</span>
<span class="w" style="left:170.18px;top:372.10px;letter-spacing:1.012px">the</span>
<span class="w" style="left:212.51px;top:372.10px;letter-spacing:0.435px">continual</span>
<span class="w" style="left:316.31px;top:372.10px;letter-spacing:1.059px">train</span>
<span class="w" style="left:375.57px;top:372.10px;letter-spacing:0.509px">stage.</span>
<span class="w" style="left:451.97px;top:372.10px;letter-spacing:0.937px">The</span>
<span class="w" style="left:502.06px;top:372.10px;letter-spacing:0.351px">blue</span>
<span class="w" style="left:555.36px;top:372.10px;letter-spacing:0.968px">and</span>
<span class="w" style="left:602.80px;top:372.10px;letter-spacing:0.226px">green</span>
<span class="w" style="left:667.46px;top:372.10px;letter-spacing:0.161px">curves</span>
<span class="w" style="left:741.55px;top:372.10px;letter-spacing:0.611px">are</span>
<span class="w" style="left:782.85px;top:372.10px;letter-spacing:0.435px">continual</span>
<span class="w" style="left:886.53px;top:372.10px;letter-spacing:0.848px">trained</span>
<span class="w" style="left:969.03px;top:372.10px;letter-spacing:0.167px">from</span>
<span class="w" style="left:1026.92px;top:372.10px;letter-spacing:0.798px">their</span>
<span class="w" style="left:8.75px;top:400.00px;letter-spacing:0.494px">warmup</span>
<span class="w" style="left:98.69px;top:400.00px;letter-spacing:0.259px">checkpoints,</span>
<span class="w" style="left:231.40px;top:400.00px;letter-spacing:0.968px">and</span>
<span class="w" style="left:277.42px;top:400.00px;letter-spacing:1.012px">the</span>
<span class="w" style="left:318.02px;top:400.00px;letter-spacing:0.592px">red</span>
<span class="w" style="left:358.71px;top:400.00px;letter-spacing:0.226px">curve</span>
<span class="w" style="left:421.38px;top:400.00px;letter-spacing:-0.179px">is</span>
<span class="w" style="left:445.74px;top:400.00px;letter-spacing:0.339px">initialized</span>
<span class="w" style="left:554.04px;top:400.00px;letter-spacing:0.662px">with</span>
<span class="w" style="left:607.98px;top:400.00px;letter-spacing:1.012px">the</span>
<span class="w" style="left:648.52px;top:400.00px;letter-spacing:0.494px">warmup</span>
<span class="w" style="left:738.48px;top:400.00px;letter-spacing:0.279px">checkpoint</span>
<span class="w" style="left:854.56px;top:400.00px;letter-spacing:-0.610px">of</span>
<span class="w" style="left:882.60px;top:400.00px;letter-spacing:1.012px">the</span>
<span class="w" style="left:923.07px;top:400.00px;letter-spacing:0.351px">blue</span>
<span class="w" style="left:974.18px;top:400.00px;letter-spacing:0.226px">curve</span>
<span class="w" style="left:1037.42px;top:400.00px;letter-spacing:0.968px">and</span>
<span class="w" style="left:8.72px;top:427.85px;letter-spacing:0.435px">continual</span>
<span class="w" style="left:108.37px;top:427.85px;letter-spacing:0.848px">trained</span>
<span class="w" style="left:187.07px;top:427.85px;letter-spacing:0.662px">with</span>
<span class="w" style="left:238.43px;top:427.85px;letter-spacing:0.307px">explicit</span>
<span class="w" style="left:319.11px;top:427.85px;letter-spacing:0.339px">memory.</span>
<span class="w" style="left:415.80px;top:427.85px;letter-spacing:0.467px">These</span>
<span class="w" style="left:481.70px;top:427.85px;letter-spacing:0.528px">plots</span>
<span class="w" style="left:537.25px;top:427.85px;letter-spacing:0.537px">indicate</span>
<span class="w" style="left:624.31px;top:427.85px;letter-spacing:1.683px">that</span>
<span class="w" style="left:672.76px;top:427.85px;letter-spacing:0.682px">pretraining</span>
<span class="w" style="left:791.93px;top:427.85px;letter-spacing:0.994px">a</span>
<span class="w" style="left:809.43px;top:427.85px;letter-spacing:0.258px">Memory<span class="sp">3</span></span>
<span class="w" style="left:909.20px;top:427.85px;letter-spacing:0.298px">model</span>
<span class="w" style="left:976.92px;top:427.85px;letter-spacing:0.322px">requires</span>
<span class="w" style="left:1063.35px;top:427.85px;letter-spacing:0.994px">a</span>
<span class="w" style="left:8.55px;top:455.70px;letter-spacing:0.110px">memory-less</span>
<span class="w" style="left:139.33px;top:455.70px;letter-spacing:0.494px">warmup</span>
<span class="w" style="left:226.35px;top:455.70px;letter-spacing:0.509px">stage.</span>
<span class="w" style="left:294.26px;top:455.70px;letter-spacing:0.467px">These</span>
<span class="w" style="left:359.30px;top:455.70px;letter-spacing:0.474px">experiments</span>
<span class="w" style="left:487.05px;top:455.70px;letter-spacing:0.160px">use</span>
<span class="w" style="left:525.34px;top:455.70px;letter-spacing:0.994px">a</span>
<span class="w" style="left:542.04px;top:455.70px;letter-spacing:0.290px">smaller</span>
<span class="w" style="left:620.11px;top:455.70px;letter-spacing:0.298px">model</span>
<span class="w" style="left:687.17px;top:455.70px;letter-spacing:0.662px">with</span>
<span class="w" style="left:737.55px;top:455.70px;letter-spacing:-0.018px">0.92B</span>
<span class="w" style="left:801.06px;top:455.70px;letter-spacing:0.363px">non-embedding</span>
<span class="w" style="left:962.01px;top:455.70px;letter-spacing:0.758px">parameters</span>
<span class="w" style="left:289.97px;top:483.60px;letter-spacing:0.937px">The</span>
<span class="w" style="left:337.63px;top:483.60px;letter-spacing:0.494px">warmup</span>
<span class="w" style="left:427.02px;top:483.60px;letter-spacing:0.515px">stage</span>
<span class="w" style="left:486.45px;top:483.60px;letter-spacing:0.079px">uses</span>
<span class="w" style="left:535.79px;top:483.60px;letter-spacing:-0.073px">60B</span>
<span class="w" style="left:584.05px;top:483.60px;letter-spacing:1.334px">data</span>
<span class="w" style="left:636.94px;top:483.60px;letter-spacing:0.968px">and</span>
<span class="w" style="left:682.28px;top:483.60px;letter-spacing:1.012px">the</span>
<span class="w" style="left:722.12px;top:483.60px;letter-spacing:0.435px">continual</span>
<span class="w" style="left:823.41px;top:483.60px;letter-spacing:1.059px">train</span>
<span class="w" style="left:880.18px;top:483.60px;letter-spacing:0.515px">stage</span>
<span class="w" style="left:939.61px;top:483.60px;letter-spacing:0.079px">uses</span>
<span class="w" style="left:989.02px;top:483.60px;letter-spacing:0.065px">22B.</span>
<span class="w" style="left:8.40px;top:483.60px;letter-spacing:0.000px;font-size:24.0px;">(</span>
<span class="w" style="left:16.02px;top:483.60px;letter-spacing:0.000px;font-size:24.0px;font-style:italic;">L</span>
<span class="w" style="left:36.83px;top:483.60px;letter-spacing:0.000px;font-size:24.0px;transform:scaleX(1.5);">=</span>
<span class="w" style="left:61.32px;top:483.60px;letter-spacing:-0.967px;font-size:24.0px;">40,</span>
<span class="w" style="left:96.48px;top:483.60px;letter-spacing:0.000px;font-size:24.0px;font-style:italic;">H</span>
<span class="w" style="left:124.73px;top:483.60px;letter-spacing:0.000px;font-size:24.0px;transform:scaleX(1.5);">=</span>
<span class="w" style="left:147.43px;top:483.60px;letter-spacing:-0.933px;font-size:24.0px;">32,</span>
<span class="w" style="left:181.95px;top:483.60px;letter-spacing:0.000px;font-size:24.0px;font-style:italic;">d</span>
<span class="w" style="left:196.15px;top:491.03px;letter-spacing:0.000px;font-size:17.0px;font-style:italic;">h</span>
<span class="w" style="left:216.13px;top:483.60px;letter-spacing:0.000px;font-size:24.0px;transform:scaleX(1.5);">=</span>
<span class="w" style="left:238.38px;top:483.60px;letter-spacing:-0.650px;font-size:24.0px;">64).</span>
</body></html>
